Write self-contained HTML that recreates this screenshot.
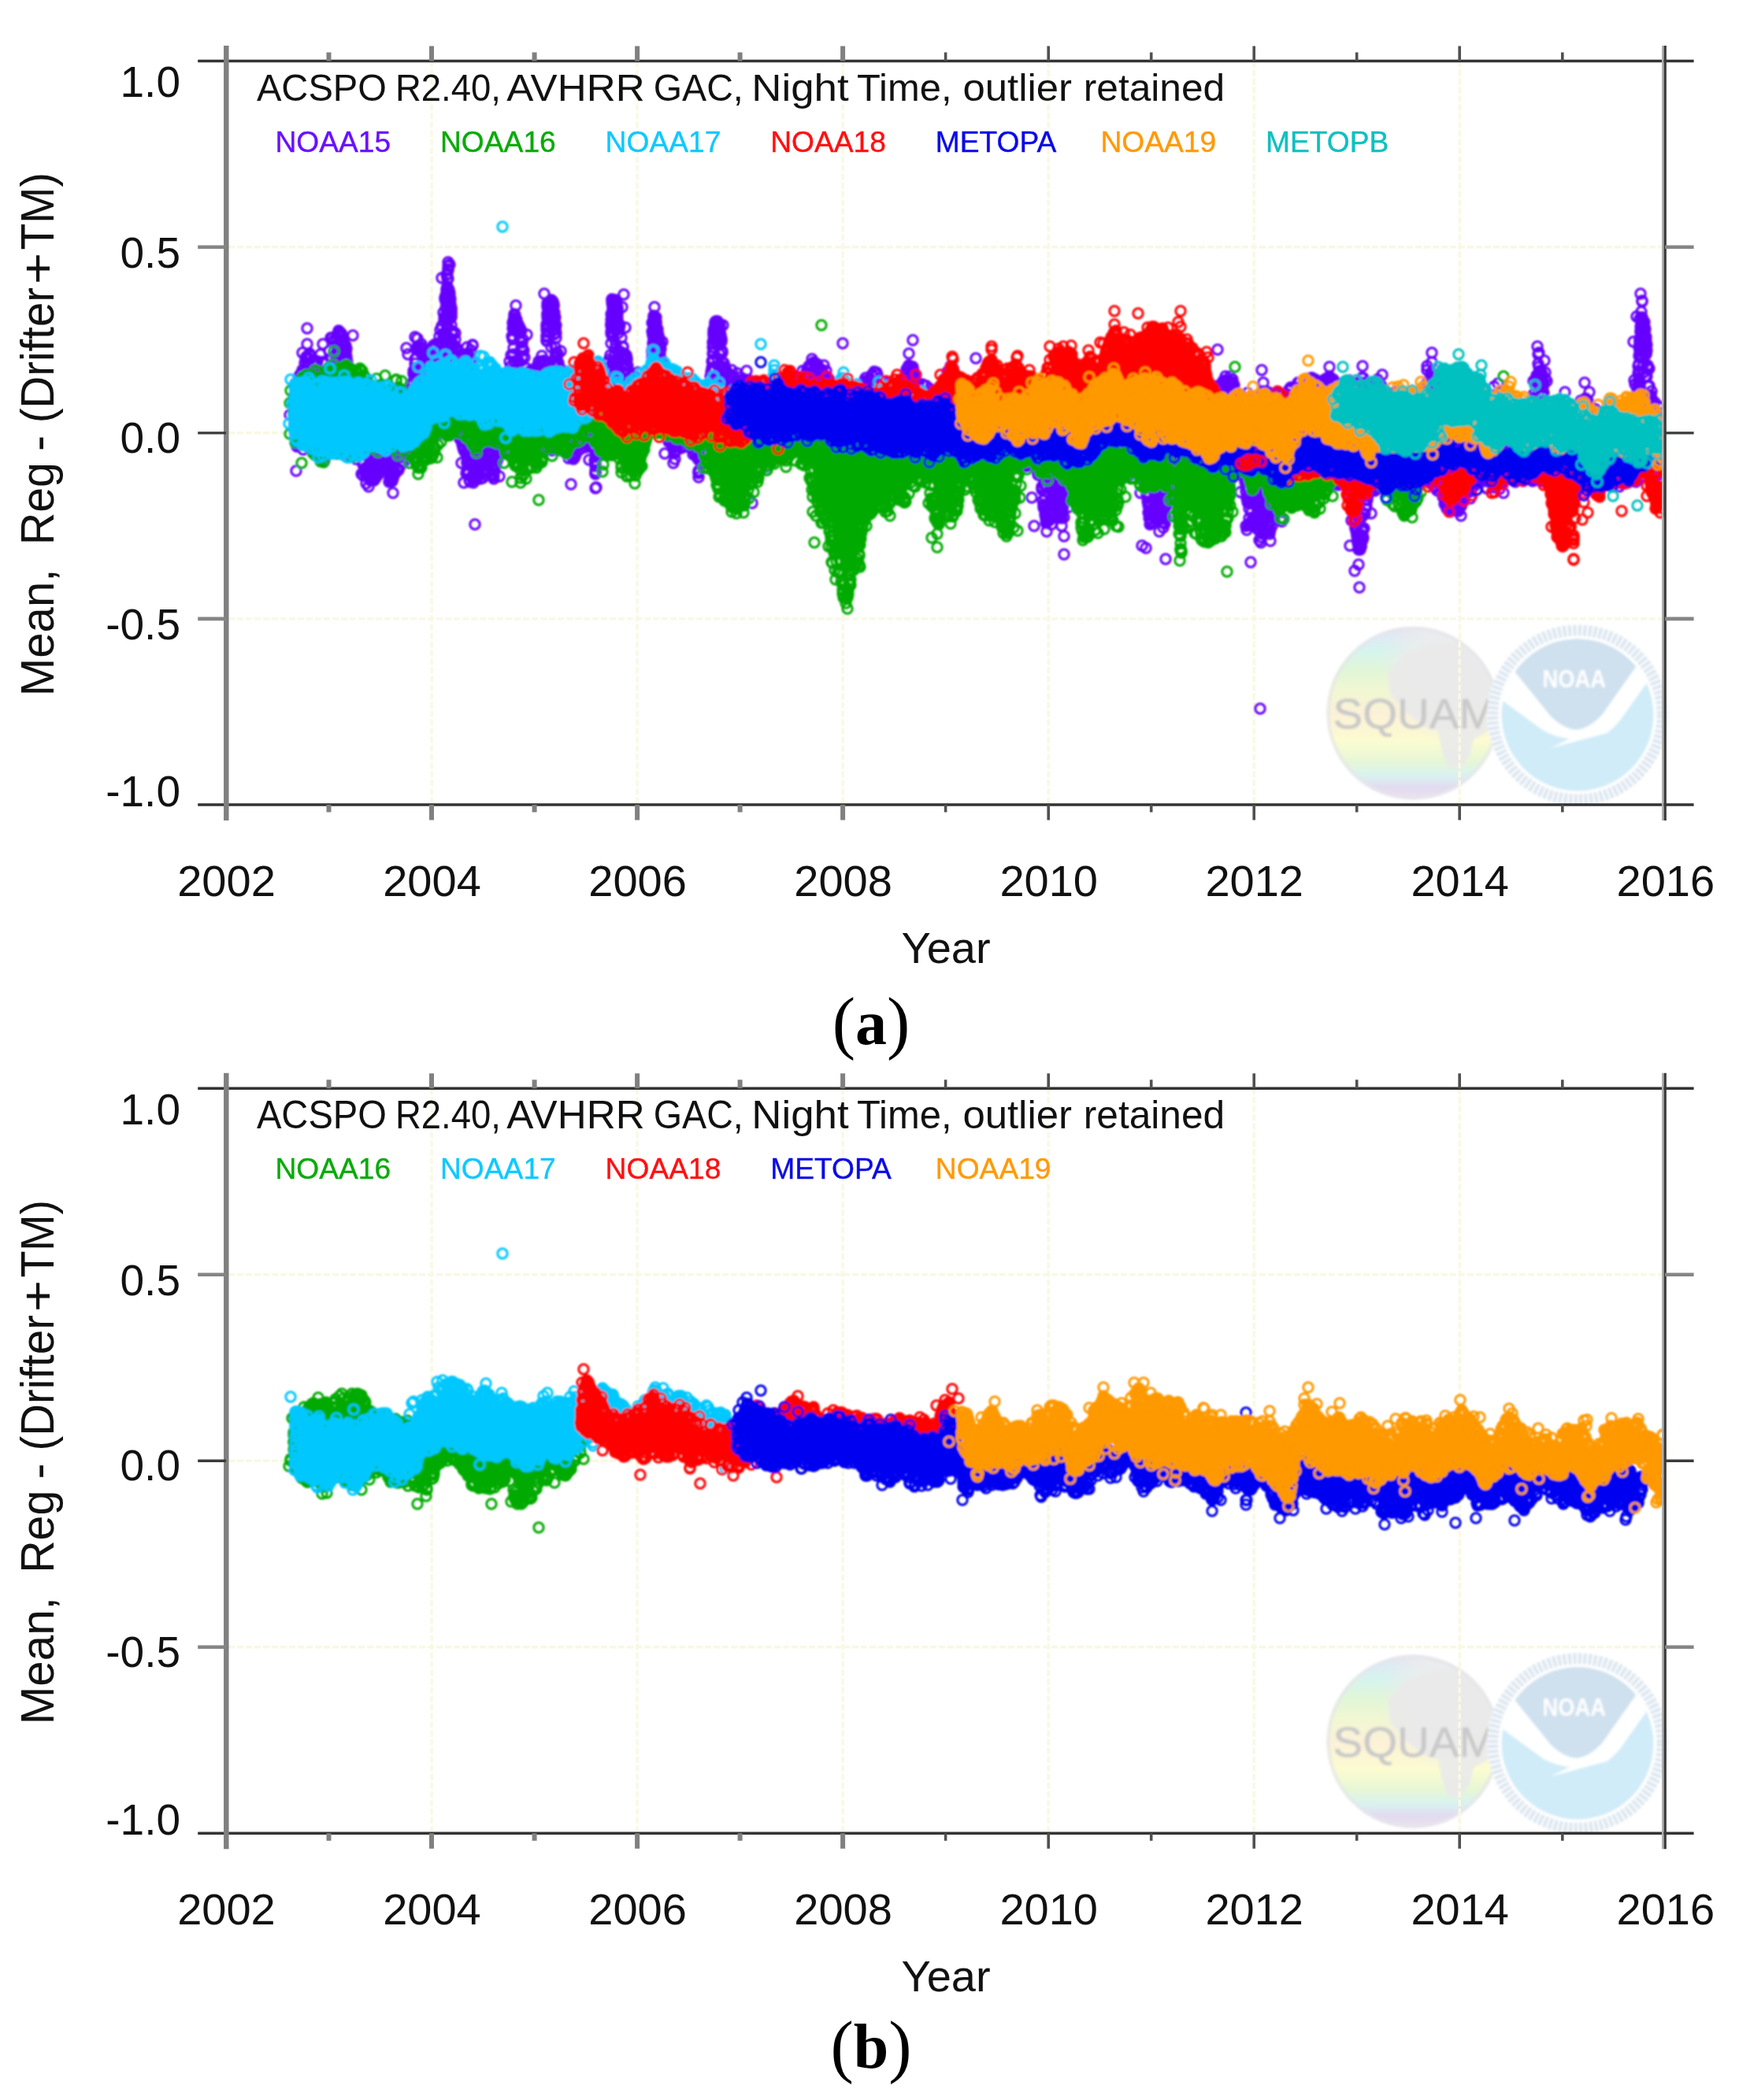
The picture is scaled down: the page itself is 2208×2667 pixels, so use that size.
<!DOCTYPE html>
<html><head><meta charset="utf-8"><title>Figure</title>
<style>html,body{margin:0;padding:0;background:#fff}svg{display:block}</style></head>
<body><svg width="2208" height="2667" viewBox="0 0 2208 2667">
<defs><clipPath id="cpa"><rect x="290" y="79" width="1823" height="942"/></clipPath><marker id="mpe" markerWidth="18" markerHeight="18" refX="9" refY="9" markerUnits="userSpaceOnUse"><circle cx="9" cy="9" r="6.2" fill="none" stroke="#6600ff" stroke-width="3"/></marker><marker id="mgn" markerWidth="18" markerHeight="18" refX="9" refY="9" markerUnits="userSpaceOnUse"><circle cx="9" cy="9" r="6.2" fill="none" stroke="#00aa00" stroke-width="3"/></marker><marker id="mcn" markerWidth="18" markerHeight="18" refX="9" refY="9" markerUnits="userSpaceOnUse"><circle cx="9" cy="9" r="6.2" fill="none" stroke="#00c8ff" stroke-width="3"/></marker><marker id="mrd" markerWidth="18" markerHeight="18" refX="9" refY="9" markerUnits="userSpaceOnUse"><circle cx="9" cy="9" r="6.2" fill="none" stroke="#ff0000" stroke-width="3"/></marker><marker id="mbe" markerWidth="18" markerHeight="18" refX="9" refY="9" markerUnits="userSpaceOnUse"><circle cx="9" cy="9" r="6.2" fill="none" stroke="#0000f0" stroke-width="3"/></marker><marker id="moe" markerWidth="18" markerHeight="18" refX="9" refY="9" markerUnits="userSpaceOnUse"><circle cx="9" cy="9" r="6.2" fill="none" stroke="#ff9900" stroke-width="3"/></marker><marker id="mtl" markerWidth="18" markerHeight="18" refX="9" refY="9" markerUnits="userSpaceOnUse"><circle cx="9" cy="9" r="6.2" fill="none" stroke="#00c0c0" stroke-width="3"/></marker><filter id="bl" x="0" y="0" width="100%" height="100%" filterUnits="userSpaceOnUse" primitiveUnits="userSpaceOnUse"><feGaussianBlur stdDeviation="1.2"/></filter><filter id="bl2" x="1660" y="770" width="480" height="280" filterUnits="userSpaceOnUse"><feGaussianBlur stdDeviation="1.6"/></filter></defs>
<rect width="2208" height="2667" fill="#fff"/>
<g style="filter:blur(0.6px)">
<g transform="translate(0,0.00) scale(1,1.000000)">
<g>
<defs>
<linearGradient id="sq" x1="0" y1="0" x2="0" y2="1">
<stop offset="0" stop-color="#e6e0f0"/><stop offset="0.07" stop-color="#dcecf4"/><stop offset="0.14" stop-color="#d6f4ee"/><stop offset="0.26" stop-color="#e2f6d6"/><stop offset="0.38" stop-color="#f2f7d2"/><stop offset="0.5" stop-color="#fbf1d8"/><stop offset="0.66" stop-color="#fcfbd0"/><stop offset="0.78" stop-color="#e6f7d6"/><stop offset="0.86" stop-color="#d8f2f0"/><stop offset="0.93" stop-color="#e2daf0"/><stop offset="1" stop-color="#ebe4ee"/>
</linearGradient>
<radialGradient id="sqg" cx="0.72" cy="0.25" r="0.42"><stop offset="0" stop-color="#ececec" stop-opacity="1"/><stop offset="0.6" stop-color="#ececec" stop-opacity="0.8"/><stop offset="1" stop-color="#ececec" stop-opacity="0"/></radialGradient>
<clipPath id="sqc"><circle cx="1794.3" cy="905.7" r="110"/></clipPath>
<clipPath id="nc"><circle cx="2003" cy="908" r="96.5"/></clipPath>
</defs>
<g filter="url(#bl2)">
<circle cx="1794.3" cy="905.7" r="110" fill="url(#sq)"/>
<g clip-path="url(#sqc)">
<circle cx="1794.3" cy="905.7" r="110" fill="url(#sqg)"/>
<polygon points="1784,830 1818,817 1855,814 1882,836 1895,859 1903,886 1900,907 1890,928 1871,939 1866,960 1855,976 1839,976 1831,955 1826,928 1808,923 1786,904 1765,881 1763,854" fill="#e9e9e9" opacity="0.92"/>
<circle cx="1794.3" cy="905.7" r="108" fill="none" stroke="#e6e6ea" stroke-width="5" opacity="0.7"/>
</g>
<text x="1692.5" y="924.5" font-family="'Liberation Sans', Arial, sans-serif" font-size="54" textLength="207" lengthAdjust="spacingAndGlyphs" fill="#c9c9c9" stroke="#c9c9c9" stroke-width="0.6">SQUAM</text>
<circle cx="2003" cy="908" r="115" fill="#fff"/>
<circle cx="2003" cy="908" r="107.5" fill="none" stroke="#d9e4ef" stroke-width="14" stroke-dasharray="4 2.5"/>
<circle cx="2003" cy="908" r="96.5" fill="#d0ecf8"/>
<g clip-path="url(#nc)">
<path d="M1900 858L1920 849L1969 910Q1985 926 2001 927Q2018 926 2035 907L2077 846L2100 852L2091 867L2059 912Q2050 924 2040 931L1969 950L1993 938Q1975 936 1960 928L1900 884Z" fill="#fff"/>
<path d="M1921 850A95 95 0 0 1 2077 847L2035 906Q2018 924 2001 926Q1985 924 1969 909Z" fill="#cfe0ee"/>
</g>
<text x="1958.5" y="873" font-family="'Liberation Sans', Arial, sans-serif" font-weight="bold" font-size="32" textLength="80.5" lengthAdjust="spacingAndGlyphs" fill="#fff">NOAA</text>
</g>
</g>
<g stroke="#f9f8e3" stroke-width="3.4" stroke-dasharray="8 3" fill="none">
<path d="M548.0 77.6V1022.0"/>
<path d="M809.1 77.6V1022.0"/>
<path d="M1070.1 77.6V1022.0"/>
<path d="M1331.2 77.6V1022.0"/>
<path d="M1592.2 77.6V1022.0"/>
<path d="M1853.2 77.6V1022.0"/>
<path d="M290.0 313.7H2112.0"/>
<path d="M290.0 549.8H2112.0"/>
<path d="M290.0 785.9H2112.0"/>
</g>
<g filter="url(#bl)" clip-path="url(#cpa)"><g fill="none" stroke="none">
<path d="M380 507L383 485L386 480L389 473L392 465L395 462L398 465L401 466L404 466L407 466L410 466L413 465L416 463L419 460L422 453L425 444L428 438L431 435L434 448L437 474L440 480L443 487L446 490L449 493L452 495L455 498L458 500L461 500L464 502L467 505L470 507L473 508L476 510L479 512L482 513L485 513L488 513L491 513L494 512L497 511L500 512L503 513L506 513L509 513L512 513L515 512L518 511L521 508L524 505L527 500L530 477L533 457L536 454L539 454L542 454L545 454L548 453L551 450L554 446L557 441L560 438L563 429L566 421L569 418L572 435L575 445L578 450L581 453L584 455L587 455L590 455L593 467L596 473L599 477L602 480L605 481L608 484L611 486L614 487L617 487L620 487L623 487L626 485L629 484L632 484L635 484L638 484L641 484L644 483L647 480L650 477L653 460L656 432L659 449L662 468L665 472L668 475L671 476L674 477L677 479L680 479L683 479L686 479L689 478L692 475L695 471L698 455L701 431L704 469L707 473L710 476L713 478L716 485L719 488L722 491L725 492L728 492L731 493L734 495L737 497L740 497L743 497L746 498L749 498L752 498L755 498L758 496L761 493L764 492L767 491L770 489L773 486L776 477L779 459L782 424L785 440L788 452L791 466L794 477L797 481L800 484L803 485L806 488L809 490L812 490L815 490L818 490L821 490L824 489L827 487L830 484L833 468L836 468L839 477L842 480L845 483L848 486L851 489L854 492L857 494L860 494L863 496L866 497L869 497L872 497L875 498L878 499L881 499L884 499L887 499L890 498L893 497L896 497L899 496L902 493L905 489L908 479L911 446L914 467L917 477L920 480L923 483L926 484L929 485L932 485L935 485L938 486L941 488L944 489L947 490L950 490L953 492L956 493L959 493L962 493L965 493L968 492L971 495L974 498L977 499L980 499L983 499L986 499L989 497L992 494L995 493L998 494L1001 494L1004 494L1007 494L1010 492L1013 490L1016 490L1019 490L1022 489L1025 486L1028 482L1031 470L1034 467L1037 473L1040 478L1043 481L1046 487L1049 490L1052 492L1055 493L1058 494L1061 496L1064 496L1067 496L1070 496L1073 497L1076 498L1079 498L1082 498L1085 498L1088 496L1091 496L1094 495L1097 494L1100 491L1103 488L1106 485L1109 483L1112 482L1115 486L1118 489L1121 492L1124 497L1127 500L1130 502L1133 502L1136 502L1139 502L1142 501L1145 499L1148 496L1151 493L1154 487L1157 486L1160 490L1163 493L1166 494L1169 494L1172 494L1175 497L1178 501L1181 504L1184 506L1187 507L1190 507L1193 507L1196 507L1199 505L1202 502L1205 500L1208 497L1211 497L1214 500L1217 503L1220 504L1223 504L1226 505L1229 507L1232 507L1235 507L1238 507L1241 506L1244 504L1247 503L1250 501L1253 500L1256 499L1259 500L1262 502L1265 503L1268 503L1271 503L1274 502L1277 500L1280 498L1283 497L1286 497L1289 497L1292 497L1295 496L1298 494L1301 491L1304 494L1307 495L1310 497L1313 500L1316 503L1319 504L1322 504L1325 504L1328 504L1331 507L1334 511L1337 514L1340 515L1343 515L1346 515L1349 516L1352 516L1355 516L1358 516L1361 517L1364 517L1367 517L1370 517L1373 516L1376 515L1379 515L1382 516L1385 516L1388 516L1391 517L1394 517L1397 518L1400 518L1403 518L1406 517L1409 515L1412 515L1415 517L1418 518L1421 518L1424 518L1427 518L1430 516L1433 516L1436 519L1439 520L1442 520L1445 520L1448 520L1451 518L1454 515L1457 514L1460 514L1463 514L1466 516L1469 519L1472 520L1475 520L1478 520L1481 520L1484 519L1487 516L1490 514L1493 516L1496 516L1499 516L1502 516L1505 515L1508 515L1511 515L1514 517L1517 518L1520 518L1523 518L1526 518L1529 517L1532 517L1535 516L1538 514L1541 512L1544 509L1547 504L1550 500L1553 494L1556 489L1559 489L1562 499L1565 503L1568 506L1571 508L1574 508L1577 508L1580 508L1583 507L1586 507L1589 509L1592 510L1595 510L1598 510L1601 510L1604 508L1607 506L1610 506L1613 506L1616 506L1619 504L1622 503L1625 505L1628 505L1631 505L1634 505L1637 504L1640 502L1643 499L1646 496L1649 494L1652 492L1655 492L1658 491L1661 489L1664 488L1667 489L1670 491L1673 491L1676 491L1679 491L1682 490L1685 488L1688 491L1691 493L1694 493L1697 493L1700 494L1703 496L1706 496L1709 496L1712 496L1715 496L1718 496L1721 496L1724 495L1727 492L1730 489L1733 491L1736 492L1739 492L1742 492L1745 492L1748 493L1751 500L1754 504L1757 507L1760 508L1763 508L1766 508L1769 508L1772 507L1775 505L1778 506L1781 507L1784 507L1787 507L1790 507L1793 505L1796 504L1799 505L1802 506L1805 506L1808 506L1811 505L1814 503L1817 500L1820 498L1823 501L1826 503L1829 506L1832 507L1835 508L1838 509L1841 509L1844 511L1847 511L1850 511L1853 511L1856 512L1859 513L1862 513L1865 513L1868 513L1871 512L1874 515L1877 518L1880 519L1883 519L1886 519L1889 519L1892 517L1895 514L1898 513L1901 514L1904 514L1907 516L1910 519L1913 521L1916 521L1919 521L1922 521L1925 521L1928 521L1931 522L1934 522L1937 522L1940 522L1943 521L1946 519L1949 516L1952 510L1955 503L1958 512L1961 515L1964 517L1967 517L1970 517L1973 517L1976 518L1979 519L1982 520L1985 522L1988 525L1991 526L1994 526L1997 526L2000 526L2003 525L2006 523L2009 522L2012 520L2015 521L2018 524L2021 525L2024 527L2027 531L2030 534L2033 536L2036 537L2039 540L2042 541L2045 541L2048 541L2051 541L2054 540L2057 539L2060 536L2063 533L2066 529L2069 526L2072 522L2075 520L2078 518L2081 515L2084 505L2087 473L2090 503L2093 519L2096 523L2098 525L2098 600L2096 600L2093 600L2090 600L2087 600L2084 601L2081 603L2078 604L2075 603L2072 603L2069 603L2066 603L2063 604L2060 606L2057 605L2054 603L2051 602L2048 602L2045 602L2042 603L2039 604L2036 604L2033 604L2030 604L2027 606L2024 604L2021 602L2018 601L2015 601L2012 601L2009 601L2006 603L2003 604L2000 604L1997 604L1994 605L1991 605L1988 605L1985 605L1982 605L1979 605L1976 603L1973 602L1970 600L1967 600L1964 600L1961 600L1958 601L1955 604L1952 605L1949 605L1946 604L1943 602L1940 601L1937 601L1934 601L1931 601L1928 603L1925 603L1922 602L1919 601L1916 601L1913 601L1910 601L1907 603L1904 606L1901 610L1898 612L1895 610L1892 607L1889 604L1886 603L1883 603L1880 603L1877 603L1874 604L1871 607L1868 611L1865 613L1862 614L1859 616L1856 619L1853 628L1850 639L1847 643L1844 643L1841 638L1838 629L1835 625L1832 622L1829 618L1826 615L1823 611L1820 608L1817 605L1814 604L1811 604L1808 604L1805 604L1802 605L1799 605L1796 605L1793 605L1790 605L1787 604L1784 604L1781 604L1778 604L1775 605L1772 605L1769 602L1766 601L1763 601L1760 601L1757 601L1754 602L1751 605L1748 609L1745 617L1742 618L1739 620L1736 623L1733 627L1730 641L1727 657L1724 651L1721 624L1718 614L1715 611L1712 609L1709 608L1706 608L1703 608L1700 608L1697 610L1694 610L1691 609L1688 608L1685 607L1682 606L1679 606L1676 606L1673 606L1670 607L1667 610L1664 611L1661 611L1658 611L1655 610L1652 610L1649 610L1646 609L1643 609L1640 609L1637 609L1634 611L1631 614L1628 615L1625 618L1622 621L1619 628L1616 634L1613 652L1610 667L1607 671L1604 671L1601 668L1598 665L1595 663L1592 657L1589 632L1586 606L1583 602L1580 599L1577 597L1574 597L1571 597L1568 597L1565 598L1562 598L1559 597L1556 596L1553 596L1550 596L1547 596L1544 598L1541 598L1538 598L1535 600L1532 598L1529 596L1526 595L1523 595L1520 595L1517 596L1514 598L1511 598L1508 598L1505 598L1502 599L1499 600L1496 601L1493 603L1490 604L1487 606L1484 609L1481 615L1478 620L1475 651L1472 656L1469 656L1466 656L1463 636L1460 618L1457 605L1454 602L1451 599L1448 596L1445 595L1442 595L1439 595L1436 595L1433 596L1430 599L1427 597L1424 596L1421 596L1418 596L1415 596L1412 597L1409 600L1406 600L1403 598L1400 598L1397 596L1394 595L1391 595L1388 595L1385 595L1382 596L1379 599L1376 600L1373 600L1370 601L1367 602L1364 603L1361 605L1358 608L1355 611L1352 614L1349 619L1346 632L1343 648L1340 648L1337 648L1334 649L1331 641L1328 619L1325 604L1322 594L1319 591L1316 588L1313 586L1310 585L1307 585L1304 585L1301 586L1298 586L1295 585L1292 583L1289 583L1286 583L1283 583L1280 584L1277 586L1274 585L1271 583L1268 582L1265 582L1262 582L1259 583L1256 585L1253 586L1250 587L1247 587L1244 584L1241 582L1238 582L1235 582L1232 582L1229 583L1226 585L1223 586L1220 586L1217 586L1214 586L1211 586L1208 586L1205 585L1202 585L1199 585L1196 582L1193 580L1190 579L1187 579L1184 579L1181 580L1178 580L1175 580L1172 578L1169 577L1166 577L1163 577L1160 574L1157 573L1154 573L1151 573L1148 573L1145 573L1142 570L1139 568L1136 567L1133 567L1130 567L1127 567L1124 569L1121 567L1118 564L1115 563L1112 563L1109 561L1106 560L1103 560L1100 560L1097 560L1094 562L1091 563L1088 565L1085 568L1082 574L1079 582L1076 587L1073 592L1070 590L1067 585L1064 582L1061 578L1058 574L1055 571L1052 569L1049 569L1046 565L1043 562L1040 560L1037 559L1034 559L1031 559L1028 559L1025 560L1022 560L1019 561L1016 563L1013 563L1010 563L1007 564L1004 565L1001 565L998 565L995 565L992 566L989 568L986 565L983 564L980 564L977 564L974 564L971 565L968 568L965 571L962 572L959 572L956 570L953 569L950 569L947 569L944 569L941 570L938 572L935 569L932 568L929 568L926 568L923 568L920 566L917 565L914 565L911 563L908 560L905 559L902 559L899 559L896 559L893 560L890 563L887 567L884 566L881 563L878 561L875 561L872 561L869 561L866 562L863 564L860 566L857 558L854 554L851 550L848 547L845 544L842 543L839 543L836 543L833 542L830 542L827 542L824 542L821 543L818 545L815 548L812 553L809 565L806 567L803 566L800 564L797 564L794 564L791 564L788 565L785 566L782 566L779 564L776 564L773 564L770 564L767 565L764 567L761 568L758 571L755 568L752 566L749 565L746 565L743 565L740 565L737 565L734 566L731 568L728 571L725 568L722 567L719 567L716 567L713 567L710 566L707 566L704 566L701 565L698 563L695 562L692 562L689 562L686 562L683 564L680 567L677 567L674 566L671 566L668 565L665 564L662 564L659 564L656 564L653 566L650 567L647 568L644 568L641 569L638 569L635 570L632 572L629 575L626 581L623 592L620 594L617 594L614 594L611 595L608 597L605 600L602 603L599 591L596 578L593 563L590 555L587 547L584 542L581 539L578 537L575 537L572 537L569 537L566 538L563 540L560 543L557 545L554 546L551 547L548 550L545 553L542 555L539 557L536 557L533 557L530 559L527 562L524 565L521 569L518 572L515 576L512 579L509 582L506 585L503 589L500 596L497 598L494 596L491 595L488 595L485 595L482 595L479 597L476 600L473 602L470 597L467 589L464 584L461 581L458 579L455 578L452 578L449 577L446 574L443 573L440 572L437 570L434 570L431 570L428 570L425 567L422 566L419 566L416 565L413 562L410 560L407 559L404 559L401 559L398 560L395 561L392 560L389 559L386 558L383 558L380 542Z" fill="#6600ff" stroke="#6600ff" stroke-width="1.5"/>
<path d="M368 527l6-25l0 16l0 12l0 8l0 1l0 7l1-59l0 4l0 1l0 2l0 12l0 13l0 1l0 8l0 19l0 2l0 2l0 3l1-60l0 7l0 51l0 12l1-23l0 25l0 1l1-68l0 31l1-51l0 49l0 30l1-41l0 9l0 8l0 18l1-76l0 35l0 17l0 31l1-74l0 4l0 40l1-55l0 21l0 4l0 54l1-105l0 22l0 57l1 6l0 4l0 34l1-78l1-32l0 100l0 3l1-109l0 24l1-26l0 1l1-1l0 9l0 101l0 4l1-100l1 3l0 93l1-114l0 1l0 1l0 116l1-115l4 6l0 4l0 103l1-5l0 5l1-107l0 1l0 115l2-115l0 6l1-6l2 105l2-114l2 10l0 107l1-107l2 125l1-123l5-16l0 124l2-141l1 25l0 110l0 7l1-142l0 144l1-4l1-136l0 28l1-30l1 19l0 122l1-115l0 110l1-137l0 11l0 135l1-152l0 1l0 18l1-23l0 1l0 3l0 15l0 131l1-117l0 8l0 104l1-123l1-19l0 51l1-49l0 1l0 1l0 50l0 98l1-148l0 12l1-8l0 38l0 6l1-22l0 22l0 103l1-105l1-34l0 6l0 1l0 2l0 29l1-34l0 10l0 3l0 116l1-112l0 7l0 1l0 1l0 2l1-3l0 2l0 97l0 12l1-8l1-5l2-88l0 95l1-95l0 3l1-55l1 142l3 15l1-10l0 3l1-87l0 88l1-6l2 2l1-81l1 81l2-79l0 93l0 3l0 14l2-9l0 1l1-96l0 98l0 4l1-107l0 3l0 97l0 4l0 15l1-21l1-99l0 106l1 4l0 2l1-25l1 29l3-109l0 1l0 107l2 1l1-107l0 93l0 7l1 4l1-6l2 2l2-5l1-1l1-7l1-88l1 88l2-91l1 93l5-86l0 106l1-106l0 97l0 3l0 1l1 1l0 2l1-23l1-81l0 101l0 1l0 3l1-103l0 90l0 10l0 18l1-33l0 7l0 4l1-2l1-107l0 106l2-100l0 5l0 89l2-88l0 90l2-5l4-83l0 79l1-82l0 80l1-68l2-76l0 61l0 2l0 77l1-7l1-125l0 53l0 67l1-70l0 1l0 79l2-82l0 74l0 2l0 3l0 2l1-92l0 3l0 4l0 1l0 2l0 6l0 12l0 60l1-74l0 1l0 73l2-104l0 4l0 30l0 58l1-91l0 37l0 62l1-115l0 6l0 7l1-2l0 103l1-98l0 1l0 2l0 15l0 79l0 1l0 1l1-141l0 10l0 31l0 20l1-49l0 1l0 2l1-3l0 2l1 0l0 30l1-29l1-8l0 4l0 6l0 2l0 30l0 3l2-32l0 25l4-27l1-1l2 1l1 8l0 105l1-115l2-3l0 115l1-1l1-118l0 2l0 9l0 105l3-118l1 13l0 102l4-125l0 124l1-132l2-66l0 61l1 17l0 6l0 112l1-152l0 27l0 122l1-143l0 4l0 16l1-45l0 2l0 43l0 7l0 1l1-56l0 2l0 1l0 5l0 8l0 10l0 141l1-175l0 2l0 5l0 6l1-32l0 6l0 10l0 1l0 1l0 1l0 2l0 5l0 2l0 28l0 10l0 1l0 1l0 11l0 126l1-215l0 4l0 1l0 11l0 13l0 1l0 3l0 6l0 15l0 7l0 8l0 21l0 120l1-180l0 5l0 3l0 3l0 11l0 3l0 49l0 98l0 2l1-206l0 36l0 4l0 12l0 1l0 59l1-68l0 6l0 4l0 1l0 1l0 1l1-2l0 1l0 3l0 2l0 2l0 3l0 1l0 10l1 8l0 31l1-31l0 4l0 12l0 10l1-7l1 102l0 1l0 2l1-122l0 8l1 10l0 2l2 2l0 101l2 10l2 3l1-20l0 1l0 10l0 38l1-30l0 7l1 4l1-10l0 1l0 12l0 41l1-163l1 9l0 4l0 85l0 27l1-111l0 87l0 26l0 24l1-150l0 10l0 126l0 1l0 9l1-130l0 103l0 13l0 17l1-148l0 6l0 120l0 23l1-147l0 137l0 19l1-142l0 111l0 33l1-167l0 13l0 100l1 17l0 15l0 15l1-167l0 1l0 29l0 137l1-139l0 142l0 5l1-21l0 13l2-16l0 19l1 1l1-16l3-113l0 124l1-127l0 118l0 13l3-7l0 6l1-8l1-1l1 1l2-2l0 1l0 1l2 0l0 1l2-119l0 108l1-111l1 124l1-19l0 19l0 1l0 1l1-127l0 113l0 15l1-123l0 122l0 4l1-16l0 2l0 4l1-114l1 90l0 6l0 4l0 6l1-6l1-10l0 9l1-105l0 87l0 4l0 8l1-94l0 122l2-128l0 2l0 91l0 5l1-13l1 12l1-88l0 2l0 80l2 5l1-89l0 90l1-1l1-98l1-3l0 13l0 90l2-116l1 7l1-15l0 114l0 8l1-146l1-17l0 7l0 10l0 4l0 54l1-78l0 3l0 2l0 3l0 27l0 8l0 21l1-72l0 2l0 3l0 3l0 2l0 1l0 1l0 3l0 45l0 23l1-82l0 7l0 7l0 6l1-32l0 18l0 10l1-10l0 68l2-62l0 2l0 8l0 36l0 2l1-45l0 1l0 1l1-1l0 14l1-11l1 1l1 15l0 5l0 4l0 9l1-22l1 14l0 32l1-23l3-29l0 43l1 5l2-1l2-1l4 0l0 2l1 5l0 95l2-106l1-2l1 9l0 6l0 4l0 88l1-113l0 111l0 1l1-95l1-5l0 1l0 93l0 5l1-111l0 109l1-116l0 114l1 0l1-104l0 7l0 93l1-189l0 85l0 20l0 87l3-153l0 3l0 4l0 7l0 2l0 4l0 1l1-48l0 3l0 2l0 8l0 1l0 2l0 3l0 8l0 1l0 59l0 86l1-173l0 4l0 1l0 10l0 1l0 2l0 2l0 2l0 8l0 7l0 38l0 3l1-60l0 59l0 107l0 1l0 1l1-188l0 11l0 8l0 158l0 3l0 7l1-188l0 8l0 13l0 66l1-88l0 1l0 19l0 40l0 34l0 91l0 5l1-189l0 14l0 77l0 98l0 1l1-189l0 2l0 1l0 1l0 11l0 1l0 2l0 19l0 141l1-175l0 2l0 1l0 25l0 11l0 47l1-75l0 7l0 1l0 1l0 3l0 2l0 160l1-168l0 14l0 1l0 23l0 18l0 6l1-52l0 10l0 6l0 25l0 4l0 6l1-16l0 5l0 1l1-5l0 11l1 1l0 2l1 20l1 1l0 88l1-126l0 114l1 7l0 5l1-101l0 5l0 86l0 7l1-98l0 91l1-85l1 6l1-10l0 99l1-5l1-91l0 2l0 86l2 18l1-9l2 5l1 2l1-10l0 8l0 1l1 3l0 1l1-4l0 2l0 1l1-2l1-3l2-15l0 3l3 6l1-7l6-1l0 5l3-8l2 24l1-17l2 0l3 3l1 15l1-15l0 9l0 7l0 3l0 3l0 6l0 3l0 1l0 18l1-1l1-44l0 3l1 2l1-12l2 7l1-3l0 1l1 1l1-89l0 78l2-81l1 7l0 83l1-95l0 93l1-87l0 84l1-106l0 8l0 2l0 5l1-15l1-4l2-6l0 113l0 5l0 1l1-171l0 7l0 5l0 1l0 1l0 1l0 7l0 3l0 12l0 29l0 105l1-190l0 1l0 4l0 20l0 1l0 4l0 1l0 66l0 14l0 78l0 1l1-187l0 1l0 5l0 1l0 4l0 1l0 8l0 25l0 30l0 8l0 104l0 1l1-173l0 25l0 65l1-37l0 12l0 21l1-102l0 31l0 30l1-62l0 1l0 10l0 28l0 17l0 36l1-88l0 2l0 19l1-15l0 1l0 5l0 2l0 5l0 10l0 159l1-163l0 2l0 11l1-10l0 5l0 28l1-33l1 34l1-18l0 24l1-63l1 50l0 1l0 11l1-78l1 75l0 20l1-53l0 37l1-2l0 1l0 1l0 29l1-27l0 2l0 5l0 2l1 1l0 16l1-10l1 19l3-13l0 1l2 0l0 97l0 16l1-20l0 2l0 2l1-97l2 2l0 3l1 88l1-98l0 10l0 9l0 87l2-21l1 8l0 4l1-1l0 1l1-2l1-8l0 3l1-7l1-72l1 0l0 8l0 49l0 11l1-60l1 45l1-50l0 48l1 13l1 0l1-7l2-72l1-59l0 11l0 24l0 2l0 7l0 13l0 1l0 6l0 62l1-113l0 2l0 1l0 10l0 6l0 3l0 1l0 17l0 79l1-141l0 2l0 3l0 1l0 5l0 2l0 3l0 6l0 8l0 1l0 4l0 14l0 21l1-81l0 15l0 3l0 4l0 1l0 1l0 1l0 13l0 20l0 100l1-142l0 5l0 55l0 3l0 66l1-132l0 5l0 2l0 2l0 3l0 2l0 3l0 21l0 108l1-129l0 9l0 119l1-130l0 4l0 3l1 1l0 1l0 4l0 37l0 78l1-114l0 4l0 1l1-1l0 1l0 2l0 1l0 9l0 10l0 11l1-27l0 14l1 6l0 85l1-114l0 24l0 6l1 1l1 9l1 102l1-102l0 5l1-5l0 70l0 10l1-78l2 81l0 4l1-16l0 13l0 1l2-5l1-72l0 80l0 2l1-19l1-60l0 83l0 20l1-13l1-7l0 6l0 1l0 8l1-28l0 1l0 17l1-14l0 8l1-2l1-76l2 67l2 13l1-84l0 83l2-78l1 77l1 0l2-7l1-70l0 75l2-11l0 6l1-69l0 77l4-75l0 69l0 15l1-85l1 82l1-75l0 77l1-83l1 10l0 78l1-83l0 4l0 76l1-86l0 88l0 2l0 2l0 14l0 2l0 1l0 5l1-105l0 1l0 68l0 3l0 6l0 1l1-19l0 19l1-83l2 61l0 15l0 1l2-71l2-11l0 73l3-70l0 7l1 61l1 1l1-86l0 86l1-92l1-13l0 8l0 26l1-58l0 6l0 8l0 8l0 11l1-49l0 3l0 2l0 2l0 5l0 10l0 6l0 11l0 13l0 87l1-141l0 2l0 1l0 1l0 3l0 3l0 3l0 38l0 2l1-61l0 2l0 1l0 3l0 8l0 10l0 44l0 6l1-75l0 3l0 11l1-1l0 65l1-78l0 47l0 36l1-81l0 11l0 2l0 42l0 9l0 1l1-62l0 1l0 1l0 9l0 6l0 19l0 15l1-52l0 4l0 1l0 3l0 9l0 1l0 4l0 4l0 26l1-39l0 4l0 4l0 42l1-45l0 2l0 2l0 11l0 2l0 19l0 96l1-116l0 2l0 111l1-146l1 48l0 1l1 4l0 1l1 5l0 15l1-17l0 4l0 1l0 3l0 3l1 6l1-12l0 3l0 87l1-90l5 3l0 2l0 7l1-7l1 83l1-72l3-17l0 9l0 4l4-8l0 87l2-84l1 10l1-10l0 1l1 84l1-85l0 11l1-10l2 1l1-1l1 84l1-83l1 5l1-5l1 85l1-82l0 82l1-82l3 1l1-1l0 2l0 79l2-82l1 85l2-84l1 2l0 87l1-76l0 70l1-79l0 85l1-3l1-88l0 1l1-1l0 2l0 6l0 88l0 12l5-102l1 77l1-9l0 5l0 3l2-74l3 73l1-6l0 9l0 2l3-82l4 71l1 7l4-9l1-70l0 76l1 6l1-81l1 80l4-5l2-79l0 72l0 4l0 9l1-85l0 1l1 0l1-5l0 1l0 74l0 7l1-73l0 76l1-4l1-78l2 3l2 9l0 74l1-85l0 11l0 75l1-100l0 22l2 66l1-82l1-1l0 3l0 80l0 3l1-89l0 15l0 65l0 15l1-99l1 15l0 78l1-97l0 23l1-11l1 79l1-93l0 14l0 78l1-99l1 16l0 82l1-94l0 104l1-103l1 103l0 1l1-103l0 15l1-15l1 1l0 98l0 1l2-95l0 11l0 2l0 87l2-98l0 1l0 15l1 0l1-12l0 15l1-3l0 75l0 6l1-102l0 94l1-81l0 80l1 15l1-101l1 24l2 2l1-15l0 4l0 86l1-4l1-82l0 86l1-79l0 72l4-77l0 10l4-6l0 6l1-6l2 9l8-10l1-1l2 2l1 1l0 6l1-6l4-2l1 13l2-13l3-1l0 72l0 7l1-80l0 1l0 9l2-11l0 9l0 70l1-78l1-2l1 80l1-83l0 80l1-79l0 4l1-9l0 7l1 9l1 62l1 6l0 1l1-1l0 1l1-84l0 2l0 3l1 7l0 73l1 0l1-90l0 1l3-5l0 16l3-15l0 12l0 76l0 2l0 5l1-92l1 89l1 4l1-72l0 74l1-8l2-1l2 11l1-85l1 7l0 4l1-14l0 1l0 5l0 71l0 6l0 6l1-89l1 6l1 1l0 80l1 1l2-1l3-76l0 1l1 2l1 66l1-66l1 73l2-77l1 70l6-78l0 15l1-19l0 86l1-88l0 2l1-7l1-7l1 0l0 32l0 71l1-106l1-17l0 15l0 1l0 33l1-33l0 7l0 3l0 9l1 0l1-8l0 15l1-25l0 4l0 9l1-13l1 5l1 3l0 2l0 5l1-3l0 4l0 7l0 9l1-14l0 12l1-6l2-2l5 0l3 85l2-83l1 17l0 69l2-78l1 75l1-79l2 3l2 3l1-1l0 4l1 73l0 1l1 1l1-75l1-1l2-9l2 86l1-78l0 73l2 7l0 2l5-104l0 14l1-21l1 18l0 1l2-7l0 3l0 1l1-23l0 17l1 8l1-5l0 1l0 2l0 91l1-111l0 15l0 1l0 2l6 99l3-102l3 101l2 0l3-87l2-6l4 89l11-4l2 36l7-27l5 1l2-11l4 7l7-1l5 0l2-3l2 3l1-4l0 4l1-3l3-2l0 11l5-8l0 10l1-1l1-11l2 15l2-104l0 105l1-111l0 2l0 1l1 107l1-113l0 10l1-11l0 1l1 1l1 3l0 104l0 4l0 1l2-106l0 106l1-11l1-93l1 97l3-96l0 143l1-47l1-91l0 86l0 13l1 75l1-86l0 7l1 6l1 1l1-8l0 10l0 1l1 4l2-111l1 112l2 14l0 2l0 2l1 14l1 5l0 1l0 3l1-29l0 29l1-53l0 39l0 10l0 9l0 4l1-3l0 6l0 2l0 5l1-47l0 39l0 1l0 5l0 1l1-3l0 2l1-37l0 33l1 1l0 2l1-53l0 33l0 19l1-13l1 19l1-16l0 5l3-23l3 2l0 3l1 16l1-39l2 23l0 12l0 6l0 1l1-27l0 23l0 1l0 2l0 1l0 1l1-30l0 1l0 19l0 11l0 10l1-26l0 3l0 2l1-11l0 6l1-34l0 8l0 13l0 1l0 27l0 24l1-74l0 18l0 4l0 6l1-19l1 5l0 4l2-15l0 1l1 6l0 27l1-31l0 3l1-1l2-10l0 7l0 2l1-8l3 2l0 2l1-5l0 3l1 0l2-2l33-84l2 1l18 78l3-77l2 80l4 2l2-8l3 2l0 2l1-6l0 3l2 1l1-1l1-74l4 77l1-77l0 76l1-11l1 36l1-20l1 87l1-91l3 10l0 6l0 2l1-5l1-4l0 15l0 1l0 2l1-1l0 2l0 2l0 5l1 5l0 9l1-41l0 6l0 33l0 2l0 7l1 1l0 7l1-28l0 13l0 2l0 10l0 1l1-9l0 8l1-52l0 51l1-49l0 23l1-21l1 17l0 15l1-16l0 2l0 17l1 2l0 3l1-20l0 19l0 7l1-33l0 4l1 15l1 28l1-27l1 11l1-33l1 32l1-36l0 22l0 9l0 3l0 7l0 7l1-60l0 3l0 40l0 2l0 9l1-18l0 13l0 6l1-9l0 3l1-52l0 6l0 18l0 11l1-16l0 12l1-25l1 11l0 12l1-20l1 4l2 15l3-25l9-15l3-3l2-1l0 1l1 1l2-2l3 2l9 0l4 6l1-1l4-9l3 12l3-92l0 92l3-94l0 6l2-23l0 12l0 6l0 87l1-93l1-3l0 1l1-1l1 8l1 92l1-4l1-105l0 13l0 95l2-109l0 107l1-102l1 3l2-13l0 6l0 1l1 2l1 109l1-124l0 5l1 6l2-6l0 19l0 98l2-116l0 13l0 5l1-24l0 8l1 0l0 12l0 105l0 2l0 4l1-3l1-124l0 4l0 3l0 12l0 9l1-22l0 106l1-105l0 113l1-93l0 2l0 83l2-95l0 5l0 96l1-101l0 94l0 8l1-91l0 91l3-100l0 101l0 23l3-21l0 1l2-4l1-93l0 95l0 5l0 1l0 3l1 0l0 6l0 6l0 44l1-37l0 2l0 40l1-174l0 139l1-131l0 1l0 128l0 3l0 28l1-46l0 25l0 12l1-47l0 54l1-150l0 148l0 4l1-60l0 44l0 15l1-31l0 30l1-36l0 39l1-30l0 21l1-2l0 3l1-38l0 5l0 15l1-14l0 34l1-20l0 12l0 17l1 1l1-169l0 11l0 141l0 5l0 3l0 10l1-169l0 3l0 160l0 19l1-184l0 8l0 165l1 7l0 7l1-29l1 13l0 5l1-192l0 11l0 174l1-173l0 5l0 7l2-10l0 3l0 6l0 163l1-174l0 143l0 6l0 3l0 25l1-175l0 9l1-11l0 136l1 14l0 27l1-12l0 15l1-5l0 14l1-187l0 162l1-162l0 5l0 118l0 10l0 11l0 24l1-33l1-125l0 149l1-17l0 8l0 5l1-153l0 3l0 142l0 2l0 3l2-142l1 110l1-121l0 118l0 15l1-2l1-128l0 5l0 103l0 14l1-122l0 9l1-11l0 162l1-161l0 161l1-161l2 5l4-5l1-5l2-3l1-1l0 3l0 119l2-112l2 109l2-6l0 6l0 4l2-121l1-8l1 12l1-12l1 5l4 125l2-132l1 3l0 124l0 5l1-5l1-130l0 7l2-5l1-2l0 2l0 133l1-4l0 5l1-137l0 2l1-2l0 136l0 1l1 1l1-3l2-133l0 129l1-122l0 126l0 1l1-130l0 6l1 113l2-119l0 8l0 114l1 4l3-121l2-8l1-1l0 11l0 115l0 3l2-130l1 119l0 7l0 5l1-131l1-2l1-1l0 137l1-133l0 3l0 131l2-131l0 10l0 120l1-130l0 118l1-121l0 122l1 11l1-120l1-2l0 3l0 115l1-118l0 4l0 110l0 1l2 4l0 2l0 2l3-127l1-2l0 6l0 1l1-5l0 1l0 124l2-1l4-112l0 103l0 11l1-13l0 2l0 10l0 2l1-126l0 122l1-129l1 6l0 204l1-74l1-8l0 16l0 1l0 33l1-55l0 25l0 5l0 12l0 1l1-29l0 9l0 23l2-43l0 49l0 2l1-172l0 2l0 170l0 3l0 1l0 6l0 1l1-19l0 17l0 2l0 4l1-188l0 187l0 5l0 2l1-186l0 129l0 60l0 1l0 2l0 3l1-73l0 4l0 21l0 43l0 7l0 5l0 1l0 19l1-232l0 173l0 37l1-2l0 1l0 1l0 1l0 2l1-40l0 23l0 10l0 2l0 1l0 1l1-215l1 10l0 6l0 155l0 21l0 1l0 2l0 5l0 6l1-206l0 145l0 58l1-30l0 18l1-44l0 8l0 18l1-167l0 1l0 135l0 24l1-12l0 8l1-151l0 144l1-7l0 1l1-140l2 125l1-128l0 166l1-166l0 11l2 125l1-6l0 7l1-11l0 6l0 5l1-138l0 17l0 105l0 11l0 3l1-135l0 135l1-139l1 128l0 9l1-4l1-126l0 4l0 126l1-129l0 16l0 106l1-122l0 2l0 13l1-29l0 26l4 0l2 4l1-4l1 1l0 7l0 2l0 93l0 1l1-104l0 3l2 101l1-104l0 8l0 97l0 1l2 1l1-108l0 105l0 9l1-117l0 116l1-114l1 112l2-113l0 9l3 97l1 5l1-111l1 111l2-110l1 108l4-2l0 5l1-106l1-5l0 113l1 0l1-115l0 8l0 97l1-98l0 4l0 95l1-100l0 6l1 99l1-5l2-106l0 12l0 1l0 96l2-108l0 10l1 101l1-110l0 8l2-8l0 2l0 98l0 10l1-104l0 101l1-101l0 2l0 90l0 4l1-102l0 110l1-110l0 97l1-99l0 1l0 12l1-8l1-6l0 112l1-139l0 16l0 8l1 0l0 110l0 6l1-121l0 1l0 4l0 116l1-126l1-5l0 7l0 18l0 108l1-139l0 7l0 20l0 106l0 7l1-153l0 21l0 1l0 1l0 3l0 4l0 2l0 1l0 1l0 3l0 103l1-122l0 5l1 2l0 1l0 131l1-128l0 5l1-5l0 1l0 6l0 123l1-14l0 1l0 5l0 6l1-7l0 8l0 4l1 1l3-8l1-118l0 116l3 18l2 2l0 7l1-24l0 23l1-12l0 15l1-11l0 15l1-12l0 11l1-13l0 16l2-12l1-7l1 7l0 8l0 5l1-16l0 15l2-1l1-20l0 21l3-4l1 2l0 2l1 1l1-20l1-5l1-10l0 19l0 9l0 1l0 12l1-22l0 7l0 1l1-29l1 22l1-15l0 9l0 1l1-17l0 12l1-3l0 1l0 2l4-19l0 2l0 18l1-23l1 16l0 15l1-33l1 17l2-3l1 3l2-5l1-10l0 6l1-8l0 11l1-6l2-95l0 88l0 11l1-9l2-89l1 1l1 3l1-1l1 85l0 9l1 0l0 3l0 9l1-16l0 16l4-114l0 97l1-97l2 94l0 5l0 8l1 6l1-128l0 11l0 10l1-9l0 111l1-96l1-6l0 98l0 5l0 2l2-130l0 114l2-91l0 101l0 1l0 2l0 7l1-23l0 2l1-92l0 101l0 5l2-11l0 8l1 15l2-20l3-6l1 2l1 4l1-8l4 10l1 0l1 1l1-94l0 97l1-12l2-86l0 95l1 0l3 0l1-3l0 1l0 1l1-14l0 4l1 0l0 9l1-12l1-78l1 84l1-77l1-4l0 86l1-91l0 91l1-92l0 87l1-86l3-7l0 4l0 93l0 5l1-104l0 104l0 1l1-127l0 17l0 11l0 8l0 89l1-109l1 7l1-24l0 126l1-132l0 5l0 3l1-9l0 6l0 120l1-152l0 12l0 14l0 24l1-52l0 18l0 18l0 114l0 12l1-139l0 20l1-19l0 1l0 17l0 21l1-38l0 3l0 5l0 3l0 5l0 11l0 111l1-136l0 11l0 1l0 123l1-126l0 3l0 1l0 4l0 10l1-3l0 103l0 6l1-150l0 147l1-132l0 8l0 123l2-120l0 31l1 2l0 87l0 1l1-1l1 1l2-4l1-89l0 94l0 2l1-97l2-1l0 90l3-87l0 108l1-22l1-2l4-80l2-4l0 96l1-95l0 7l2-23l1 21l0 79l0 4l2-85l0 11l0 75l2-83l1-1l1 0l0 2l2-1l0 84l1 5l1-10l1-80l0 87l1 2l1-8l0 9l0 19l1-111l0 12l2-11l0 80l1 8l1-10l0 15l1-102l0 19l1 68l0 12l1-94l0 2l2-3l1-5l0 3l0 94l1-99l0 2l0 14l1-15l0 90l1-88l0 18l0 67l0 1l0 7l1-93l0 2l0 3l1-2l0 1l1-15l0 17l1 92l1-84l2-5l2 89l0 4l0 7l1-7l1-91l0 92l1 1l1-3l1-4l1-80l2 84l2 0l1-2l0 1l4-4l0 4l1-4l4 8l2-7l1-11l2 4l0 9l2-3l0 2l1-11l0 2l0 7l0 2l3 5l1 6l1-15l1 3l1-89l0 3l1 94l2-1l1-91l1 0l1-8l3 2l0 1l0 90l0 2l1-93l0 87l1-85l1 87l2 1l0 1l1-173l0 79l1-30l0 128l1-123l0 25l1 87l0 5l0 3l0 4l1-210l0 99l0 98l0 11l1-114l0 1l0 7l0 3l0 6l1-48l0 9l0 14l1-47l0 11l0 10l0 9l0 4l0 5l0 3l0 118l1-196l0 26l0 1l0 1l0 3l0 2l0 1l0 2l0 2l0 3l0 4l0 43l1-120l0 42l0 5l0 2l0 6l0 1l0 1l0 6l0 2l0 160l1-202l0 14l0 3l0 7l0 2l0 3l0 9l0 8l0 74l0 82l0 2l0 5l0 2l1-225l0 1l0 20l0 1l0 4l0 3l0 33l0 11l0 51l1-99l0 2l0 36l0 19l0 48l0 81l0 1l0 11l1-189l0 4l0 3l0 5l0 12l0 33l1-64l0 6l0 2l0 1l0 4l0 1l0 1l0 9l1-15l0 11l0 7l0 14l0 28l1-50l0 5l0 5l0 3l0 4l0 3l0 1l0 1l0 58l1-70l0 7l0 33l1-14l0 2l0 41l0 19l0 6l1-63l0 22l0 80l1-103l0 22l1 93l0 8l1-89l0 2l0 2l0 51l1-60l0 9l0 6l0 3l0 59l1-62l0 20l1 15l0 30l1-58l0 67l0 4l1-79l0 39l0 55l0 1l1-81l0 19l0 42l1-64l0 2l0 4l0 13l0 16l0 3l0 10l0 2l0 1l0 3l0 5l0 3l1-41l0 3l0 11l0 5l0 8l0 34l1-43l1-45l1 79l6-18l-1737 21l92 20l-9-16l144 64l122-51l-335-198l0 20l20 0l117-9l66 13l336 29l19 1l122-35l89-4l-204 207l284-184l307-11l56 26l-251 234l104-8l25 14l108 4l-259-39l359-209l42-1l88-17l-6 17l140-25l60 46l-286 260l-6-21l-120 175l-1031-567l-2 16" marker-start="url(#mpe)" marker-mid="url(#mpe)" marker-end="url(#mpe)"/>
</g>
<g fill="none" stroke="none">
<path d="M380 498L383 496L386 494L389 489L392 485L395 485L398 485L401 485L404 483L407 481L410 480L413 480L416 479L419 477L422 477L425 477L428 477L431 475L434 475L437 474L440 474L443 476L446 477L449 477L452 477L455 477L458 484L461 491L464 495L467 498L470 500L473 502L476 502L479 502L482 502L485 502L488 502L491 503L494 503L497 503L500 502L503 501L506 501L509 505L512 507L515 514L518 518L521 520L524 522L527 522L530 522L533 522L536 521L539 519L542 515L545 510L548 504L551 501L554 498L557 497L560 497L563 497L566 497L569 496L572 494L575 491L578 493L581 494L584 494L587 494L590 494L593 495L596 495L599 495L602 496L605 496L608 496L611 496L614 496L617 496L620 496L623 497L626 499L629 500L632 500L635 500L638 500L641 500L644 500L647 500L650 500L653 501L656 503L659 503L662 503L665 503L668 502L671 504L674 506L677 508L680 508L683 508L686 508L689 507L692 505L695 504L698 504L701 504L704 507L707 511L710 513L713 514L716 514L719 514L722 514L725 515L728 516L731 518L734 519L737 519L740 519L743 519L746 521L749 524L752 537L755 541L758 543L761 544L764 544L767 544L770 544L773 543L776 542L779 542L782 543L785 543L788 544L791 545L794 545L797 545L800 545L803 545L806 548L809 550L812 551L815 551L815 552L812 565L809 574L806 586L803 596L800 598L797 597L794 595L791 590L788 586L785 584L782 582L779 576L776 572L773 570L770 568L767 564L764 559L761 557L758 555L755 552L752 550L749 549L746 549L743 549L740 549L737 551L734 553L731 555L728 555L725 556L722 558L719 561L716 564L713 564L710 564L707 563L704 563L701 563L698 563L695 564L692 566L689 569L686 572L683 577L680 584L677 587L674 588L671 588L668 590L665 592L662 593L659 584L656 580L653 577L650 574L647 566L644 561L641 559L638 557L635 556L632 555L629 554L626 553L623 553L620 553L617 553L614 553L611 555L608 556L605 557L602 554L599 552L596 550L593 549L590 548L587 546L584 544L581 543L578 543L575 543L572 543L569 545L566 546L563 547L560 549L557 552L554 557L551 561L548 568L545 571L542 576L539 577L536 578L533 580L530 580L527 573L524 569L521 567L518 565L515 565L512 565L509 565L506 564L503 563L500 561L497 559L494 559L491 559L488 559L485 560L482 561L479 561L476 561L473 562L470 563L467 563L464 563L461 563L458 563L455 563L452 564L449 566L446 568L443 566L440 565L437 565L434 565L431 566L428 568L425 568L422 568L419 568L416 570L413 572L410 573L407 573L404 571L401 568L398 566L395 564L392 559L389 557L386 555L383 552L380 548ZM889 557L892 557L895 557L898 556L901 555L904 555L907 555L910 557L913 559L916 560L919 561L922 562L925 562L928 564L931 565L934 565L937 566L940 566L943 567L946 567L949 567L952 567L955 566L958 568L961 570L964 572L967 572L970 572L973 572L976 571L979 569L982 566L985 567L988 567L991 567L994 567L997 569L1000 570L1003 570L1006 570L1009 570L1012 568L1015 567L1018 569L1021 570L1024 570L1027 570L1030 570L1033 568L1036 566L1039 567L1042 568L1045 568L1048 568L1051 568L1054 568L1057 568L1060 567L1063 567L1066 566L1069 567L1072 567L1075 567L1078 567L1081 566L1084 568L1087 568L1090 568L1093 568L1096 569L1099 570L1102 570L1105 570L1108 569L1111 567L1114 567L1117 569L1120 570L1123 570L1126 570L1129 570L1132 568L1135 567L1138 567L1141 567L1144 567L1147 567L1150 568L1153 569L1156 569L1159 569L1162 569L1165 568L1168 568L1171 570L1174 571L1177 571L1180 571L1183 571L1186 570L1189 574L1192 576L1195 578L1198 578L1201 580L1204 581L1207 581L1210 581L1213 581L1216 580L1219 579L1222 579L1225 579L1228 578L1231 578L1234 577L1237 577L1240 577L1243 577L1246 578L1249 580L1252 581L1255 581L1258 581L1261 581L1264 580L1267 578L1270 577L1273 578L1276 578L1279 578L1282 578L1285 577L1288 577L1291 577L1294 577L1297 576L1300 576L1303 577L1303 578L1300 578L1297 580L1294 582L1291 587L1288 600L1285 611L1282 625L1279 638L1276 655L1273 652L1270 650L1267 648L1264 648L1261 648L1258 648L1255 649L1252 643L1249 633L1246 625L1243 608L1240 603L1237 601L1234 599L1231 599L1228 599L1225 599L1222 600L1219 602L1216 605L1213 612L1210 633L1207 644L1204 648L1201 648L1198 648L1195 648L1192 650L1189 635L1186 616L1183 611L1180 608L1177 606L1174 605L1171 605L1168 605L1165 606L1162 608L1159 611L1156 615L1153 617L1150 622L1147 626L1144 627L1141 626L1138 626L1135 626L1132 627L1129 629L1126 632L1123 635L1120 637L1117 637L1114 637L1111 638L1108 640L1105 642L1102 646L1099 648L1096 651L1093 656L1090 660L1087 675L1084 704L1081 713L1078 724L1075 730L1072 727L1069 714L1066 700L1063 692L1060 680L1057 666L1054 654L1051 649L1048 645L1045 631L1042 622L1039 615L1036 610L1033 598L1030 592L1027 588L1024 586L1021 584L1018 583L1015 581L1012 581L1009 581L1006 581L1003 579L1000 578L997 576L994 575L991 575L988 575L985 575L982 577L979 579L976 582L973 585L970 590L967 594L964 594L961 594L958 595L955 597L952 601L949 607L946 622L943 625L940 629L937 636L934 638L931 634L928 632L925 630L922 626L919 621L916 610L913 594L910 589L907 587L904 584L901 575L898 568L895 564L892 562L889 558ZM1313 579L1316 579L1319 577L1322 575L1325 575L1328 577L1331 577L1334 577L1337 577L1340 576L1343 575L1346 575L1349 574L1352 573L1355 573L1358 574L1361 574L1364 574L1367 574L1370 573L1373 573L1376 573L1379 573L1382 573L1385 573L1388 573L1391 573L1394 573L1397 572L1400 575L1403 577L1406 578L1409 578L1412 578L1415 578L1418 578L1421 580L1424 582L1427 583L1430 583L1433 583L1436 584L1439 586L1442 586L1445 586L1448 586L1451 585L1454 589L1457 591L1460 593L1463 593L1466 593L1469 593L1472 592L1475 590L1478 588L1481 590L1484 590L1487 591L1490 593L1493 593L1496 593L1499 593L1502 593L1505 593L1508 593L1511 594L1514 594L1517 594L1520 594L1523 593L1526 594L1529 594L1532 595L1535 597L1538 599L1541 599L1544 599L1547 599L1550 599L1553 599L1556 599L1559 601L1560 601L1560 602L1559 604L1556 613L1553 649L1550 663L1547 674L1544 676L1541 678L1538 679L1535 680L1532 680L1529 665L1526 660L1523 656L1520 652L1517 649L1514 647L1511 646L1508 646L1505 646L1502 647L1499 642L1496 631L1493 621L1490 616L1487 614L1484 611L1481 609L1478 608L1475 608L1472 608L1469 608L1466 609L1463 610L1460 610L1457 610L1454 610L1451 608L1448 604L1445 602L1442 601L1439 601L1436 601L1433 601L1430 602L1427 604L1424 608L1421 612L1418 616L1415 625L1412 638L1409 650L1406 652L1403 652L1400 652L1397 653L1394 655L1391 655L1388 656L1385 658L1382 662L1379 668L1376 655L1373 639L1370 628L1367 618L1364 609L1361 604L1358 600L1355 598L1352 596L1349 596L1346 596L1343 596L1340 597L1337 597L1334 595L1331 593L1328 593L1325 590L1322 586L1319 584L1316 582L1313 580ZM1614 613L1617 613L1620 613L1623 613L1626 612L1629 611L1632 611L1635 611L1638 611L1641 612L1644 614L1647 614L1650 614L1653 614L1656 613L1659 613L1662 615L1665 616L1668 616L1671 616L1674 616L1677 615L1679 615L1679 617L1677 622L1674 629L1671 631L1668 636L1665 638L1662 636L1659 635L1656 635L1653 635L1650 635L1647 636L1644 636L1641 636L1638 635L1635 635L1632 635L1629 635L1626 634L1623 630L1620 628L1617 621L1614 614ZM1772 621L1775 621L1778 621L1781 621L1784 621L1787 621L1790 621L1793 621L1794 621L1794 627L1793 632L1790 634L1787 639L1784 643L1781 634L1778 629L1775 626L1772 623Z" fill="#00aa00" stroke="#00aa00" stroke-width="1.5"/>
<path d="M368 512l0 39l1-55l4 9l0 10l0 10l0 2l1-22l0 8l0 9l0 9l0 10l1-33l0 25l0 29l1-67l0 48l1-39l0 49l1-14l0 19l1-69l0 38l0 12l1 20l1-71l0 73l1-74l0 53l0 1l0 1l1-57l0 75l0 28l1-109l0 4l0 37l0 38l0 2l1-69l0 5l2 60l1-79l0 78l0 9l1-88l0 4l0 8l1-11l1 1l2 14l0 68l2-77l1 3l0 5l0 77l0 1l1-79l0 82l0 1l0 2l1-94l2-11l0 17l0 91l1-99l0 90l1-87l0 82l1-91l0 91l1-80l1-12l0 98l2 16l2-3l1-3l1 7l3-107l1 93l1-99l0 4l1-11l0 5l0 13l1-18l0 1l1 101l1 7l2-105l1-8l1-17l1 24l0 104l1 0l1-105l0 5l0 6l0 85l1 11l2-108l0 1l0 104l0 3l1-108l0 97l2-98l0 13l3-13l2 13l0 94l1-110l0 1l1-1l0 12l0 104l1-112l2 7l1-8l4 113l2-99l0 95l1-105l1 101l1-101l0 97l0 2l3-1l1-101l0 2l1-1l0 1l0 18l2-17l0 22l1 66l1-82l0 7l1-6l1 7l0 78l1-67l0 61l1-69l0 82l1-83l2 1l0 78l2 3l2-76l0 64l1-1l1-58l0 8l0 60l1-7l1 6l0 3l1-87l0 74l0 1l0 6l0 1l1 4l1-8l0 1l0 14l2-75l0 69l1-79l0 8l1-3l0 74l2-13l0 11l1-70l1 9l1-28l0 29l1-11l3 7l0 64l1-70l0 61l1-62l0 71l2-71l0 11l1-12l0 2l0 72l1-69l0 69l2-66l0 56l2-76l0 1l2 79l0 3l0 7l0 6l1-86l0 1l0 67l1 1l3-77l0 12l0 1l2 20l1 1l2-18l1 1l1 2l1 57l0 4l1-57l0 8l1-8l0 81l1-16l0 6l1-66l2 70l1-20l1 22l2-70l0 1l0 60l0 13l1-1l1 5l1-19l0 20l0 1l1-1l1-86l0 68l0 17l1 1l1-17l0 18l2-23l0 2l2 10l1-12l0 8l1-8l0 13l1-9l1-9l0 16l1-60l3 60l1-2l1 0l1-22l0 19l2-25l0 16l0 5l3-93l0 101l1-33l0 17l4-22l0 1l0 17l6-14l1 6l3-1l1 1l1-17l0 14l0 1l1-11l2 9l3-1l4-8l0 10l2 0l1-13l7 19l3-1l0 2l3 0l0 4l1-14l1 18l2-9l0 11l2 2l1-9l0 15l1-21l1-1l0 10l1-1l0 1l0 2l1-11l0 9l4-2l1-12l1 8l3 3l1-6l3-78l1 83l1 0l2 2l2-12l3 14l3-12l1 7l3-5l1 9l1 5l0 21l1-31l1 15l0 3l1 1l1-17l0 18l4-4l2 39l1-124l0 95l3-5l0 9l0 4l1-1l0 2l3-18l1 17l1-12l1 18l0 10l0 6l2-26l1 17l4 4l2-12l5-2l1-1l5 1l1-18l0 14l1-1l1 0l2-18l2 11l0 3l0 2l2-13l1-6l1-9l2-1l7 3l0 8l0 10l3-10l2 0l2-7l2 8l0 1l3 0l2 0l2-1l0 4l2 2l2-5l1-3l1-83l3 79l1-2l4-11l2-27l1 29l0 8l1-39l1 37l1 0l2-45l2 29l0 12l1-37l2-5l2-2l0 7l0 13l1 8l1-3l1 3l0 16l1-36l0 10l0 11l1-8l0 19l1-37l0 18l0 1l2-14l1 41l1 2l1-35l1 9l0 4l1 14l0 10l1-15l0 7l0 3l0 2l1-33l0 39l1-9l0 14l1-28l0 9l1-16l0 22l0 13l1-8l0 10l1-2l0 18l1-53l0 38l2-39l0 20l0 19l2 0l0 2l1-37l0 38l1-15l0 5l1-28l0 4l1 34l2-49l1 1l0 11l0 27l0 10l2-42l1 40l1-40l1 9l3 37l3-46l0 55l0 3l0 6l1-54l3 36l2 9l1-49l0 62l0 1l1-17l1-37l1 39l2 14l1-60l0 32l0 1l1 5l0 17l1-19l1-37l0 45l1-40l0 66l1-77l0 17l0 40l0 10l1-62l0 14l1 43l1-57l0 56l1-61l0 5l0 9l0 27l1 10l0 7l1-11l0 10l1-21l0 6l1-16l0 12l0 1l0 16l1-17l1-4l1-6l0 6l1-11l0 4l1-22l0 12l0 6l1-7l0 4l2-19l0 8l1-7l2-3l0 2l0 2l0 2l0 8l1-14l0 8l0 3l1-9l0 10l1-1l0 2l1-7l1 0l0 6l0 1l1-7l0 6l0 2l1-5l1-2l1 1l0 1l0 5l1-6l2-5l0 5l0 1l4-2l0 7l1 0l1-7l0 9l1 0l1 0l1 0l0 1l1-7l0 1l1 3l1-3l0 5l1-6l0 1l2-2l0 1l1-2l0 1l1-1l1-1l0 9l0 2l1-12l1 1l1 10l0 3l0 1l2-1l0 1l2-12l1 5l1-3l0 5l1-4l2 7l2 4l2-10l2 11l0 1l1 0l1-2l0 5l3-19l0 2l2 4l2-3l0 1l0 12l1-8l2-5l0 17l0 2l2-6l1 4l1-16l3 0l0 12l0 11l0 22l1-20l0 4l3 6l1 2l0 3l1 6l1-7l0 1l3-31l0 24l0 9l1-42l1 12l0 7l1 25l0 3l1-18l0 23l1-54l0 51l1-47l0 9l0 42l0 5l1-25l0 27l0 7l1-65l0 12l0 33l0 3l0 9l0 7l0 2l1 3l0 1l1-60l0 29l0 20l0 21l1-72l0 2l1 3l0 65l1-77l1 58l1-12l1 3l0 11l0 22l1-78l0 40l0 10l0 4l0 23l0 3l1-1l1-76l1-3l0 7l1 55l0 10l0 8l1-81l0 79l1-12l1 12l0 7l1-87l0 1l0 77l1-63l0 75l0 6l1-92l1 86l1-17l1 0l0 18l1-88l0 10l0 68l1 6l0 5l0 6l1-6l3-87l0 1l0 74l0 5l1-80l0 66l0 14l0 2l1-11l1-72l0 15l0 52l0 16l0 1l1-84l1 15l0 78l1-89l0 1l0 6l0 50l0 23l1-73l0 39l0 21l0 3l0 3l1-67l2-6l0 7l0 40l1-51l0 64l1-16l0 27l1-61l0 22l0 13l1-48l0 13l0 43l1-9l1-7l0 12l0 1l0 2l2-44l0 1l0 36l0 18l1-62l1 13l1-20l0 2l0 4l0 35l1-36l0 45l1-46l0 52l1-12l0 7l1-45l0 2l1 1l0 33l1-5l1-28l2 18l0 7l1-24l0 15l2-16l0 27l1-20l0 1l0 13l0 11l1 0l1-33l1-2l0 11l0 12l1-37l0 13l0 11l1 14l1-15l0 16l1 0l2-29l1-7l0 5l0 3l0 30l1-31l1 15l0 9l4-16l0 16l1-22l0 10l2 10l1-21l1 24l1-19l0 16l0 1l1-24l1 3l0 14l1-13l0 9l0 15l0 8l1-27l1-1l0 5l1-2l0 13l3-17l0 4l0 5l0 4l6 8l3-28l0 2l0 14l2-15l0 1l1 11l1 19l1-28l0 27l2-15l0 17l1 1l1-7l1-21l0 18l0 4l3-19l0 17l2-20l0 13l0 31l1 1l1-48l0 4l0 36l0 11l1-51l0 62l1-13l0 22l2-57l0 23l0 24l1-47l0 32l0 18l0 1l1-16l0 46l1-27l0 8l1-63l0 40l0 13l0 6l1-72l0 56l0 15l0 8l1-80l1 63l0 28l1-91l0 60l0 17l1-5l0 14l0 3l0 16l2-101l0 54l0 47l1-19l1-18l0 4l0 22l0 2l0 1l1 1l0 4l1-100l0 8l0 90l1-97l0 84l1-77l1 94l0 31l1-132l0 102l0 11l1 0l1-109l0 86l0 4l0 5l0 1l0 18l0 2l0 5l1-26l0 34l0 19l1-148l0 103l0 46l1-143l0 82l0 14l0 19l1-120l0 114l0 18l0 3l1-47l0 69l1-153l0 133l0 32l1-176l0 8l0 126l0 3l0 16l2-156l0 170l1-168l0 113l0 14l0 39l1-39l0 5l0 2l0 18l1-24l0 6l0 9l0 26l1 11l1-181l0 2l1 177l0 6l0 6l0 5l1-195l0 191l0 9l1-16l0 15l0 1l1-200l1 2l0 150l0 9l0 46l1-206l1 0l0 191l0 2l0 1l0 2l0 2l0 1l0 14l1-200l0 156l0 21l0 5l1-63l0 38l0 12l1-2l1-55l0 6l0 27l0 7l0 11l0 7l1-66l0 16l0 22l1-42l0 6l0 23l0 9l1-152l0 106l0 30l1-30l0 59l1-154l0 106l0 1l0 9l0 34l1-160l0 6l0 8l0 143l1-63l1-93l0 126l0 28l1-142l0 77l0 11l0 33l0 16l0 4l1-46l0 27l1-6l0 15l0 2l0 11l1-53l0 18l0 4l0 6l0 28l1-151l0 109l0 6l1-16l0 8l1-30l0 8l0 13l0 2l2-117l1 6l0 103l1-99l0 78l0 18l1 10l2-15l1-98l0 10l0 89l1-1l1-8l1-75l0 4l0 78l1-90l0 83l1-86l0 16l0 63l1-79l0 89l1-89l0 1l2 84l2-74l3 66l0 6l2-68l0 55l0 3l0 12l1-74l0 3l1-10l0 81l3 6l1-26l0 17l2-79l0 87l2-87l1-1l0 67l0 11l1-75l0 56l0 15l2-75l0 67l0 8l1-67l3 64l1-63l0 2l4-9l0 73l1-9l0 7l2-5l1-62l2 69l0 3l1-6l0 6l1-1l2-28l1-49l1 1l0 66l1-66l0 1l0 43l1-43l0 51l1-44l0 37l2 11l1-55l1 38l1 18l1-57l3 12l0 1l1-5l0 32l0 7l0 3l1 0l1-52l0 11l1-10l1 51l1-42l1-8l2 52l2-6l2 32l2-75l0 52l0 10l1 7l1-60l0 63l0 7l0 40l1-42l0 1l1-81l0 73l1-76l0 3l0 56l0 20l1-5l0 26l1-101l0 93l0 8l0 1l0 1l1-85l0 56l0 5l0 18l1-96l0 93l0 12l0 15l1-119l0 105l0 1l1-107l0 1l0 4l0 8l0 7l0 83l0 5l1-37l0 30l1-92l0 61l1 28l1-96l0 19l0 58l1-59l1 1l0 64l1-71l2 0l0 10l0 72l1-83l1 0l0 62l0 21l1-77l0 79l2-18l1 27l1-19l1-71l0 6l0 38l0 14l1-60l0 81l0 2l1-71l1-2l0 18l1 29l0 17l1-64l0 17l0 15l0 31l1-23l0 9l0 17l1-73l0 4l0 21l0 29l0 1l0 11l0 1l1-81l0 11l0 53l0 1l0 8l1-75l0 56l0 4l0 6l1-8l1-56l0 52l2-37l1 4l0 3l0 15l1 6l1 17l1-52l0 30l1-29l2 11l0 36l1-36l0 18l0 6l2-31l0 3l0 28l0 3l1-38l0 11l1-11l1 0l0 12l0 25l1 1l1 2l1-41l0 46l0 4l1-23l0 28l1-30l2-25l0 65l1-59l0 61l1-38l0 23l0 1l0 10l1-53l0 49l0 13l0 4l1-29l0 28l2-66l0 57l1-51l0 69l1-84l0 76l1-3l0 5l0 6l0 1l1-75l0 51l1 11l1-89l0 92l1-66l1 8l0 47l0 27l1-6l3-76l1-6l0 4l0 78l2-75l0 71l0 12l1-93l0 85l3 1l2-89l1 83l1 13l1-95l0 72l0 29l1-100l0 90l0 11l1 7l1-43l0 33l1-6l0 1l0 1l0 9l1-100l0 3l0 47l0 12l0 37l1-54l0 3l0 55l0 2l0 4l1-110l0 7l0 95l0 3l1-49l0 2l0 41l0 1l0 1l0 5l1-76l0 60l0 7l0 1l1-70l0 40l0 23l0 1l1-93l0 71l0 7l0 1l0 2l0 5l1-35l0 7l0 15l1-72l0 6l0 62l0 1l0 4l1-74l0 24l0 43l1-51l0 48l0 36l1-86l0 41l0 5l0 1l1-52l0 25l0 19l0 4l0 8l0 17l1-37l1-29l0 9l0 11l1-17l0 85l1-94l0 7l0 17l2 28l1-62l0 47l4-49l1 19l1-13l2-7l0 29l1-12l1-6l1 3l0 4l1-4l1-6l1-2l2 1l0 13l1-4l1-12l1-6l0 6l2 9l1-13l0 15l0 11l1-22l2 24l0 5l1-17l0 16l0 1l3-2l1-32l0 33l1 1l2-18l0 14l1-30l0 44l1-9l1-8l1 1l4-21l1 21l1-26l1 6l0 16l0 6l1-6l2-20l2 32l1-1l2 0l1-34l0 7l1 5l0 23l1-5l0 5l0 7l1-44l0 3l0 36l1-27l0 27l1 2l1-28l0 29l1-9l0 12l1-34l0 23l0 10l1 4l1-14l0 13l1-7l1-26l0 21l0 8l0 6l0 5l0 17l1-21l1-46l0 53l0 10l1-4l1 7l0 1l1-64l1 50l0 7l0 2l0 13l1-7l0 4l0 4l0 1l1-76l1 67l1-62l1 4l0 41l0 9l1-57l0 73l0 6l0 12l0 2l0 5l1 4l1 12l1-41l0 13l0 6l0 14l0 4l1-43l2 39l0 4l1-103l1 99l0 4l1-117l0 116l1-18l0 10l1-109l3 2l0 9l1 3l0 83l0 5l1-15l2-92l0 95l0 19l1-108l0 87l1-81l1-5l0 111l1-113l0 2l1 6l0 74l0 14l3-80l1 76l0 1l0 2l1-97l0 1l0 96l1-97l0 15l0 95l1-105l0 82l1-68l0 76l2-23l1-59l0 83l2-83l0 5l0 49l0 22l1-79l0 46l0 22l0 2l1-62l0 62l0 14l0 1l1 3l0 1l1-34l0 19l0 15l1-86l0 37l0 23l1 5l1-68l1 54l0 22l0 20l1-83l1 23l0 14l0 12l0 8l1-32l0 28l0 31l2-65l1-33l0 9l0 30l0 12l1-39l0 5l1-4l1-3l1 18l0 6l1-30l1 9l0 47l1-54l1-1l1-5l0 6l0 25l1-26l1-5l0 9l1-4l1 32l2-12l1 10l0 1l1-27l0 15l0 5l1-4l2-18l1 19l0 5l1-13l1 9l1 4l0 12l1-36l0 18l0 4l0 17l1-39l0 31l4-28l0 3l0 17l0 18l0 1l2-41l0 37l0 2l3-1l1-35l0 2l1 21l1 5l0 5l0 1l1 1l1-21l0 22l2-30l0 19l1-16l0 27l1-7l0 6l1-21l1-11l0 24l0 5l1-30l1-1l0 20l0 8l1-29l0 3l0 25l0 4l2-4l1 0l1-29l0 13l1 11l1-24l0 32l0 1l1 1l1 3l1-32l3 9l1 40l1-18l3 13l0 1l1 4l0 21l1-35l1-29l0 26l0 13l3-49l0 56l0 10l0 2l1 3l0 2l0 2l0 2l1 0l0 9l0 10l1-82l0 37l0 32l0 1l0 46l1-68l0 12l0 3l0 3l0 2l0 6l0 2l0 8l0 1l0 9l0 7l0 1l0 1l1-43l0 1l0 4l0 3l0 3l0 32l0 2l0 1l1-117l0 55l0 16l1-61l0 36l0 40l1-96l0 24l1 44l1 28l2-87l2 5l1 51l0 10l1-65l1-1l0 69l1-67l0 53l0 23l1-19l1 13l2-69l0 1l0 89l1-91l0 3l0 9l1 80l1-86l0 70l1-12l0 8l0 5l0 1l1-66l1 64l1-76l0 87l1 5l0 6l1 2l2-100l1 10l0 88l0 4l2-89l0 75l1-7l0 9l2 11l0 2l2-4l1 2l2-16l1 11l2-91l0 1l1 78l0 6l0 8l1-24l0 20l2-21l0 14l1-79l0 10l2 18l0 18l0 41l1-60l0 13l1-47l0 11l0 23l0 14l0 14l0 32l1-51l0 40l0 4l1 3l1-61l0 4l0 9l0 4l1-43l0 30l0 19l0 8l0 20l0 9l1-9l0 1l0 8l1-79l0 2l0 39l0 21l0 2l1-70l0 1l0 13l0 16l0 1l0 13l1-14l0 2l0 10l0 17l0 8l1-66l0 30l0 15l1-43l0 11l0 4l0 7l0 6l1-1l0 5l0 3l0 13l3-49l0 57l1-47l1-17l0 18l1-11l3 2l0 2l1-4l0 1l2 0l1 0l0 1l3-1l1 1l0 4l4-2l1 1l0 2l0 1l2 6l1 3l1-12l0 16l1-18l0 19l1 6l0 1l1-26l0 24l0 1l1-4l1-19l0 13l2-7l0 10l1-13l2 5l3-3l1 5l1-8l2-3l2-1l0 1l0 7l1-7l1 0l0 6l0 3l0 12l1-18l0 4l0 16l1 2l0 3l0 1l1-26l0 26l0 1l1-1l0 4l1-33l0 43l1-35l0 1l1-1l0 29l1-31l1 5l0 28l1-30l0 15l0 4l1 6l0 9l1-26l0 11l0 15l1 2l0 1l1-38l0 16l0 15l1-18l0 30l1-42l0 21l0 5l0 14l0 2l1 10l1-18l1 1l0 3l2-28l0 12l0 31l2-55l1 29l0 7l1-43l0 11l0 32l1-31l2 7l0 22l0 4l2-38l0 26l1-27l0 9l0 31l0 2l1-2l3-1l1-36l0 24l0 9l1-32l1 35l1-28l1-6l1-1l0 13l0 17l1-26l0 24l1 1l1-23l2-7l0 1l1 34l1-24l0 12l0 10l0 3l1-37l1 12l0 24l1-25l1 15l0 12l1 0l0 2l0 3l1-4l0 3l1 0l3-47l0 22l0 27l1-37l1 17l0 19l0 1l0 2l1-9l1-28l0 28l3-31l0 3l0 3l0 10l1-19l0 9l0 21l1 8l1-19l1-5l3 11l1-6l0 1l1-4l1-2l1 1l1-15l0 9l1-7l2 4l1-7l0 4l0 1l1-4l1 1l0 21l5-21l9-1l8 15l6-22l23 9l2-3l6-6l4 17l2-11l0 5l2 0l0 1l0 1l1-4l1 1l0 24l1-25l1-1l0 8l1 6l1-9l0 8l0 2l2-14l0 16l1-5l0 19l3-16l0 7l0 12l1-19l0 1l0 6l4-18l0 27l0 1l2-27l0 13l0 18l1-27l0 27l2 5l0 1l1-29l0 31l1 2l1-34l0 8l0 23l1-3l1-7l0 6l2 1l1-35l0 25l0 10l1-32l0 27l1-11l1-19l0 31l0 2l1 10l1-22l1 5l2-27l0 10l1-9l0 23l1-22l0 13l1-12l0 17l1-18l1 2l2 8l-1120 10l-153-33l512-189l-9 276l-2-39l98 5l60 40l-425-96l803-133l-10 260l351-248" marker-start="url(#mgn)" marker-mid="url(#mgn)" marker-end="url(#mgn)"/>
</g>
<g fill="none" stroke="none">
<path d="M378 501L381 492L384 491L387 491L390 492L393 494L396 495L399 495L402 495L405 493L408 490L411 489L414 489L417 489L420 491L423 493L426 494L429 494L432 494L435 492L438 490L441 491L444 493L447 494L450 494L453 494L456 492L459 492L462 492L465 492L468 492L471 494L474 496L477 499L480 500L483 500L486 500L489 499L492 497L495 498L498 501L501 502L504 502L507 505L510 508L513 510L516 510L519 510L522 509L525 507L528 503L531 494L534 491L537 488L540 485L543 481L546 476L549 473L552 473L555 473L558 472L561 469L564 469L567 468L570 465L573 465L576 468L579 469L582 469L585 469L588 468L591 467L594 470L597 473L600 474L603 474L606 474L609 473L612 470L615 466L618 466L621 467L624 470L627 475L630 478L633 480L636 480L639 480L642 479L645 479L648 480L651 480L654 480L657 480L660 480L663 480L666 481L669 482L672 482L675 482L678 482L681 484L684 484L687 484L690 484L693 482L696 480L699 478L702 479L705 479L708 479L711 478L714 478L717 478L720 477L723 476L726 475L729 473L732 473L735 473L738 473L741 472L744 470L747 467L750 463L753 464L756 464L759 470L762 474L765 477L768 478L771 479L774 483L777 486L780 491L783 494L786 496L789 497L792 497L795 497L798 495L801 492L804 490L807 490L810 489L813 487L816 484L819 482L822 479L825 472L828 469L831 467L834 469L837 470L840 470L843 472L846 472L849 473L852 474L855 475L858 477L861 480L864 482L867 483L870 484L873 484L876 484L879 490L882 493L885 495L888 496L891 496L894 496L897 494L900 494L903 494L906 495L909 496L912 498L915 502L918 505L921 506L924 506L927 506L930 505L933 502L936 502L939 503L942 504L945 504L948 504L951 503L954 500L957 497L960 497L963 496L966 494L969 493L972 492L975 490L978 489L981 486L984 486L987 489L990 491L993 495L996 497L999 498L1002 498L1005 500L1008 500L1011 500L1014 500L1017 503L1020 504L1023 504L1026 504L1029 503L1032 501L1035 502L1038 504L1041 505L1044 505L1047 505L1050 504L1053 501L1056 497L1059 497L1062 496L1065 494L1068 490L1071 490L1074 492L1077 492L1080 494L1083 496L1086 499L1089 500L1092 502L1095 503L1098 503L1101 503L1104 503L1107 502L1110 503L1113 503L1116 503L1119 501L1122 498L1125 498L1128 498L1131 499L1134 501L1137 504L1140 507L1143 508L1146 508L1149 509L1152 510L1155 510L1158 511L1161 511L1164 511L1167 513L1170 516L1170 525L1167 524L1164 524L1161 524L1158 525L1155 525L1152 525L1149 526L1146 526L1143 527L1140 526L1137 524L1134 523L1131 522L1128 522L1125 522L1122 523L1119 524L1116 524L1113 526L1110 527L1107 526L1104 524L1101 523L1098 523L1095 523L1092 525L1089 526L1086 524L1083 522L1080 522L1077 522L1074 522L1071 524L1068 527L1065 527L1062 527L1059 528L1056 525L1053 524L1050 522L1047 521L1044 521L1041 521L1038 522L1035 524L1032 526L1029 526L1026 526L1023 526L1020 526L1017 527L1014 525L1011 525L1008 525L1005 523L1002 523L999 523L996 523L993 523L990 524L987 526L984 528L981 527L978 526L975 526L972 524L969 523L966 523L963 523L960 524L957 525L954 526L951 524L948 523L945 523L942 523L939 524L936 527L933 526L930 523L927 522L924 522L921 522L918 523L915 523L912 523L909 523L906 524L903 526L900 525L897 522L894 520L891 520L888 520L885 521L882 522L879 521L876 521L873 521L870 521L867 521L864 521L861 523L858 523L855 523L852 520L849 519L846 517L843 516L840 516L837 516L834 517L831 518L828 519L825 519L822 519L819 518L816 516L813 516L810 516L807 517L804 517L801 515L798 512L795 511L792 511L789 511L786 511L783 513L780 516L777 516L774 514L771 514L768 512L765 511L762 510L759 510L756 510L753 510L750 512L747 515L744 521L741 527L738 528L735 530L732 531L729 533L726 536L723 538L720 538L717 538L714 538L711 538L708 539L705 540L702 541L699 543L696 545L693 543L690 542L687 542L684 541L681 541L678 541L675 541L672 541L669 541L666 542L663 540L660 540L657 540L654 540L651 542L648 538L645 534L642 532L639 531L636 531L633 531L630 532L627 531L624 531L621 531L618 531L615 530L612 526L609 523L606 522L603 522L600 522L597 522L594 520L591 519L588 516L585 515L582 515L579 515L576 516L573 517L570 517L567 519L564 522L561 524L558 525L555 526L552 526L549 527L546 529L543 532L540 536L537 540L534 547L531 550L528 553L525 557L522 558L519 560L516 561L513 562L510 559L507 558L504 558L501 558L498 559L495 562L492 565L489 565L486 564L483 564L480 564L477 565L474 564L471 564L468 564L465 565L462 567L459 570L456 573L453 574L450 574L447 574L444 575L441 577L438 576L435 574L432 572L429 572L426 572L423 572L420 573L417 573L414 574L411 575L408 572L405 569L402 568L399 567L396 566L393 565L390 563L387 562L384 561L381 559L378 545Z" fill="#00c8ff" stroke="#00c8ff" stroke-width="1.5"/>
<path d="M367 538l2-56l2 32l3-8l0 4l0 15l0 1l0 1l0 3l0 4l0 4l0 1l0 3l0 6l1-61l0 3l0 3l0 3l0 5l0 9l0 6l0 1l0 5l0 7l0 2l0 3l0 10l0 13l1-70l0 9l0 25l0 3l0 27l1-40l0 9l0 3l0 19l0 18l1-53l1-20l1 10l0 13l1-3l0 20l0 21l1-62l0 49l2-33l0 15l0 19l0 10l0 19l1-78l0 11l0 3l0 52l1-67l0 75l1-75l0 7l1-8l0 8l0 73l1-1l3-85l0 11l0 74l2-81l0 7l1 70l1-62l0 2l0 69l3-10l2 8l1-79l0 83l2-85l0 2l0 81l0 3l0 8l1-93l0 9l4-13l1 12l0 83l2-7l2-87l0 1l3 0l0 5l2-23l0 24l0 84l1-86l0 76l0 4l0 5l1 0l1-89l0 12l0 78l1 0l1-87l1 5l0 1l0 79l1-84l2-4l0 5l1 76l1 8l2-8l0 1l1-68l1-11l0 7l0 77l0 1l0 3l3-100l0 8l0 2l2-2l0 2l2-2l0 96l1-94l1-1l0 95l1-94l0 2l0 8l3-6l0 86l1-86l0 87l2-88l1 0l0 77l2-79l0 8l2-10l0 91l1-13l0 15l1-10l1-79l3 85l1-86l0 82l0 3l2-82l0 71l0 3l2-78l0 70l1 1l1-70l1 70l0 4l1 3l1-83l0 74l0 5l1 4l1-63l0 64l1-63l0 58l1-70l0 4l3-3l0 12l1 56l1-65l1 1l0 71l1-2l0 2l1-63l1-13l1 75l2-71l0 62l1-63l0 71l0 2l1 4l1-1l0 1l1-82l0 1l2 14l3-12l1 74l1-62l1 53l1-5l0 9l1-58l0 57l1-4l1-6l1 4l0 6l1 0l1-52l0 53l1-64l0 53l2 13l1-65l0 8l1 58l1-52l0 54l1-53l2-9l0 60l1-60l0 3l0 5l0 51l1-50l0 43l1 6l1-9l0 9l0 1l1-1l0 2l1-63l0 60l1-4l1-6l1-51l1-4l0 2l0 3l0 58l1 1l1-68l0 2l0 54l0 8l1-55l1-11l0 1l0 4l1 59l1-89l0 40l0 39l0 10l1-69l0 1l0 21l0 46l1-7l1-48l1-15l0 62l1-62l1-1l0 46l1 9l0 12l1-18l0 14l2-72l0 11l0 47l0 10l1-16l0 1l1-50l2 8l0 42l2-61l0 1l0 3l0 62l1-54l1-10l0 4l0 8l0 50l1-82l0 21l0 3l0 3l0 55l1-61l0 1l0 8l0 49l1-58l0 58l0 3l2-72l0 70l0 1l1-61l0 7l2 44l0 10l1-62l0 60l1-62l0 1l2 0l0 1l0 59l1 3l1-65l0 64l1 9l1-86l0 13l0 2l0 4l0 46l0 10l1-75l0 21l0 43l0 1l0 8l1-53l0 41l0 4l1-3l0 8l1-50l0 45l1 0l0 6l1-63l0 1l1 61l1-63l0 1l2 2l2 59l0 2l1-57l1 53l0 1l2-54l1 0l1-1l0 9l0 42l0 11l1-62l0 44l0 7l0 3l2-9l0 9l1-51l0 2l0 5l0 47l0 5l3-64l0 59l1-62l0 2l0 50l1-48l0 3l1 10l0 38l0 8l0 2l1-61l0 54l0 7l0 1l1 0l1-5l0 7l3-58l0 4l0 53l1-56l0 7l1-8l0 1l2 6l1 4l1-19l0 65l1-51l2 53l1-62l0 10l0 1l0 51l1-76l0 18l1-5l1 65l1-7l0 12l1-82l1 86l1-13l1-53l1 62l2-75l0 1l0 63l0 14l2-78l0 6l1-2l2 0l0 1l1 59l1-47l0 1l1-8l1-2l0 4l0 5l1 56l1-55l0 56l2 0l3-59l2 60l1-54l1 53l1-60l0 1l0 51l0 7l0 1l1-53l0 48l0 27l1-20l1-6l1-57l0 53l0 12l0 1l2-63l0 2l0 1l0 63l2-1l0 6l2-1l1-71l0 1l0 67l0 2l1-70l0 1l0 64l1-55l1-9l0 5l1-1l0 6l1-9l1-1l2 66l0 1l1-64l0 3l0 53l1-61l0 62l1-60l0 3l1-5l0 1l2 0l0 67l0 5l1-3l3-67l0 8l2 62l1-70l0 68l1-64l0 55l0 9l1-62l0 61l0 1l1 0l2-67l0 7l2 59l0 3l1-68l0 1l0 9l1-10l1 11l1 56l1 0l3-67l5-2l1-2l1 0l0 12l1 52l1-65l0 73l0 1l2-75l0 70l1-9l0 2l0 1l0 9l1-73l0 72l1-1l2-3l0 2l1-65l1-6l1 64l1-53l0 60l1-4l2-66l0 7l0 62l1-69l0 1l0 64l0 2l1-59l1-6l1 4l3 59l1-64l0 68l1-1l1-6l1-54l1 56l0 3l1-59l0 53l0 2l0 4l1-70l0 1l0 69l1-69l0 56l0 6l1-63l0 4l0 1l0 68l1-69l0 67l2-4l1-68l0 3l1 7l1-7l0 2l1 0l1-5l1 8l1 49l0 1l1-59l0 2l0 7l1-1l1-2l0 1l1 46l0 10l1-1l1-65l1 57l0 8l2-2l1-70l0 58l1 8l1-60l0 56l1-50l1 39l0 6l1-46l3-8l0 12l0 38l1-51l0 1l0 10l0 2l0 38l0 2l3-54l0 1l0 12l1-11l0 11l0 41l1-51l0 12l1-6l0 46l1-47l0 10l1-4l1 5l0 1l1-6l0 11l2 30l0 1l0 2l1 0l5 0l2-8l0 11l1-1l0 1l1 5l1-37l3-9l1 7l1-6l4 12l2 19l1-18l1-1l2 0l0 16l1 2l1-17l2 17l3-25l1 10l0 12l1-9l1-10l0 6l0 3l2-16l0 4l4 2l1-4l0 2l2-10l0 7l0 9l4-9l0 9l2-15l1-5l2 0l0 9l1-11l0 14l2-16l1-1l0 12l1-17l1-2l0 1l0 1l0 19l1-35l0 11l1-11l0 15l1 0l1 0l0 1l0 5l0 5l1-6l1 9l1-9l1 8l1-7l2 1l1-3l0 5l1-2l1-1l0 1l1 0l1-6l1 7l3-1l2 12l2-6l1-4l0 1l0 4l1-5l0 12l1-4l1-7l0 12l1-11l0 2l0 8l3-9l0 1l1 1l1 6l3-3l0 11l2-8l0 9l5-8l1 5l2 1l2-7l0 7l2-6l2 3l1 0l1 4l1 1l0 2l0 8l1-5l0 5l4-10l0 5l4-2l2 1l1-3l2-2l3 50l3-47l2-13l1 17l1-3l3 5l0 1l0 9l0 11l1-25l0 3l0 8l1-18l1 30l1-19l1 5l3-2l2 1l2 0l3 1l3-1l3-6l0 12l1-11l1 1l1 0l1 11l1-16l2 7l1 7l2-2l3-11l1 8l2 1l2-4l3 4l2-5l1-4l1 0l0 1l3 6l1-7l2-2l3 0l1-3l1 1l1 0l0 5l1-4l0 4l1-5l3-3l0 7l1-5l1 5l4-9l0 3l1-8l0 1l1 6l0 4l1-26l0 6l0 7l0 1l2 2l0 13l2-9l0 12l1-7l1-4l2 12l1 0l1-10l1 1l1 11l1-7l1 0l18-2l0 4l0 3l1 0l2-12l1 13l5 2l4-2l4 1l2-3l1 3l2-1l1 1l4 2l1 2l4-2l2-2l0 6l1-7l2 4l1 0l4-9l0 6l3-7l3-2l3-4l0 3l0 7l2-15l0 6l1-6l0 2l1-3l0 1l1-8l0 9l1 11l1-8l3 2l0 11l1-11l0 7l2 6l2-9l2 2l2-2l1 5l0 1l1-9l1 1l1 7l2 11l2 0l1-9l1 0l0 7l0 2l1-8l1-1l0 11l1-10l1 6l2-5l7-2l2 6l4-8l1 2l1-13l0 13l6-5l0 10l3 0l1-13l0 5l0 4l4-5l2 5l5 0l2 0l2 2l7 3l7 5l1-2l4 4l1-4l7 2l1 1l1-13l3 16l0 3l-535-228l328 149" marker-start="url(#mcn)" marker-mid="url(#mcn)" marker-end="url(#mcn)"/>
</g>
<g fill="none" stroke="none">
<path d="M739 475L742 460L745 461L748 466L751 469L754 470L757 472L760 482L763 486L766 494L769 499L772 502L775 503L778 503L781 503L784 502L787 504L790 504L793 504L796 503L799 501L802 498L805 496L808 495L811 494L814 492L817 491L820 489L823 486L826 480L829 478L832 476L835 477L838 479L841 481L844 482L847 484L850 487L853 488L856 489L859 489L862 489L865 489L868 493L871 495L874 496L877 496L880 498L883 501L886 503L889 503L892 504L895 505L898 505L901 507L904 510L907 511L910 511L913 511L916 510L919 508L922 505L925 503L928 503L931 503L934 503L937 502L940 500L943 499L946 499L949 499L952 497L955 494L958 489L961 489L964 488L967 486L970 491L973 494L976 496L979 496L982 496L985 496L988 494L991 491L994 488L997 485L1000 480L1003 478L1006 480L1009 483L1012 484L1015 485L1018 487L1021 491L1024 494L1027 496L1030 496L1033 496L1036 495L1039 497L1042 497L1045 497L1048 497L1051 495L1054 492L1057 494L1060 496L1063 496L1066 496L1069 496L1072 494L1075 495L1078 495L1081 495L1084 496L1087 496L1090 498L1093 501L1096 502L1099 502L1102 502L1105 503L1108 505L1111 506L1114 506L1117 506L1120 505L1123 502L1126 499L1129 496L1132 492L1135 492L1138 492L1141 493L1144 495L1147 495L1150 495L1153 498L1156 501L1159 503L1162 504L1165 504L1168 504L1171 507L1174 508L1177 508L1180 508L1183 507L1186 505L1189 503L1192 501L1195 498L1198 491L1201 487L1204 485L1207 482L1210 479L1213 482L1216 484L1219 485L1222 486L1225 487L1228 489L1231 489L1234 489L1237 489L1240 487L1243 485L1246 484L1249 481L1252 476L1255 469L1258 467L1261 470L1264 474L1267 477L1270 479L1273 479L1276 479L1279 479L1282 477L1285 474L1288 471L1291 473L1294 477L1297 480L1300 482L1303 482L1306 482L1309 484L1312 486L1315 487L1318 487L1321 487L1324 486L1327 483L1330 480L1333 472L1336 463L1339 457L1342 456L1345 454L1348 454L1351 454L1354 454L1357 458L1360 466L1363 469L1366 471L1369 471L1372 471L1375 471L1378 470L1381 467L1384 462L1387 461L1390 463L1393 463L1396 463L1399 463L1402 461L1405 458L1408 449L1411 441L1414 432L1417 429L1420 432L1423 435L1426 436L1429 437L1432 439L1435 440L1438 440L1441 440L1444 438L1447 436L1450 433L1453 433L1456 432L1459 429L1462 426L1465 422L1468 423L1471 423L1474 425L1477 428L1480 430L1483 431L1486 431L1489 431L1492 430L1495 433L1498 437L1501 440L1504 441L1507 442L1510 445L1513 448L1516 451L1519 454L1522 456L1525 460L1528 476L1531 490L1534 493L1537 497L1540 501L1543 506L1546 510L1549 513L1552 515L1555 518L1558 519L1561 519L1564 519L1567 522L1570 524L1573 525L1576 525L1579 525L1582 524L1585 526L1588 527L1591 527L1594 527L1597 527L1600 529L1603 529L1606 529L1609 529L1612 527L1615 526L1618 524L1621 521L1624 529L1627 542L1630 549L1633 553L1636 561L1639 564L1642 573L1645 580L1647 589L1647 591L1645 591L1642 591L1639 592L1636 593L1633 591L1630 589L1627 588L1624 586L1621 579L1618 576L1615 574L1612 574L1609 574L1606 575L1603 577L1600 580L1597 583L1594 585L1591 586L1588 588L1585 586L1582 583L1579 577L1576 574L1573 572L1570 571L1567 568L1564 565L1561 562L1558 561L1555 558L1552 556L1549 555L1546 555L1543 555L1540 557L1537 556L1534 553L1531 551L1528 550L1525 550L1522 550L1519 548L1516 547L1513 547L1510 547L1507 548L1504 550L1501 548L1498 545L1495 544L1492 544L1489 544L1486 543L1483 541L1480 540L1477 540L1474 540L1471 540L1468 540L1465 541L1462 541L1459 540L1456 540L1453 538L1450 535L1447 533L1444 533L1441 533L1438 533L1435 533L1432 533L1429 534L1426 533L1423 533L1420 531L1417 530L1414 530L1411 530L1408 529L1405 528L1402 527L1399 524L1396 523L1393 523L1390 523L1387 524L1384 527L1381 531L1378 531L1375 530L1372 530L1369 530L1366 528L1363 526L1360 526L1357 526L1354 527L1351 529L1348 532L1345 532L1342 531L1339 531L1336 531L1333 532L1330 533L1327 532L1324 532L1321 532L1318 531L1315 531L1312 531L1309 533L1306 533L1303 535L1300 535L1297 536L1294 537L1291 536L1288 536L1285 535L1282 535L1279 535L1276 536L1273 536L1270 536L1267 537L1264 537L1261 537L1258 537L1255 538L1252 540L1249 540L1246 537L1243 535L1240 535L1237 535L1234 536L1231 538L1228 539L1225 539L1222 539L1219 541L1216 543L1213 542L1210 540L1207 539L1204 539L1201 539L1198 541L1195 541L1192 541L1189 540L1186 539L1183 539L1180 539L1177 541L1174 543L1171 543L1168 543L1165 542L1162 541L1159 540L1156 540L1153 539L1150 539L1147 539L1144 540L1141 542L1138 542L1135 542L1132 541L1129 541L1126 541L1123 541L1120 541L1117 541L1114 538L1111 536L1108 536L1105 536L1102 536L1099 538L1096 541L1093 542L1090 540L1087 539L1084 539L1081 539L1078 537L1075 536L1072 536L1069 536L1066 537L1063 540L1060 540L1057 538L1054 537L1051 537L1048 537L1045 538L1042 540L1039 539L1036 536L1033 535L1030 535L1027 535L1024 536L1021 538L1018 539L1015 539L1012 539L1009 540L1006 539L1003 539L1000 537L997 537L994 537L991 537L988 537L985 537L982 537L979 537L976 537L973 537L970 537L967 538L964 540L961 541L958 543L955 546L952 550L949 550L946 552L943 555L940 557L937 557L934 556L931 556L928 556L925 553L922 551L919 551L916 551L913 552L910 552L907 551L904 548L901 546L898 546L895 546L892 547L889 549L886 552L883 550L880 548L877 548L874 547L871 546L868 545L865 544L862 544L859 544L856 544L853 543L850 542L847 540L844 539L841 539L838 539L835 540L832 541L829 541L826 540L823 539L820 539L817 539L814 540L811 542L808 542L805 541L802 540L799 540L796 540L793 541L790 543L787 540L784 537L781 535L778 535L775 529L772 526L769 524L766 523L763 523L760 523L757 523L754 518L751 514L748 512L745 511L742 511L739 511ZM1702 599L1705 601L1708 601L1711 602L1714 602L1717 602L1720 602L1723 602L1726 602L1729 602L1732 601L1735 600L1738 600L1741 600L1744 600L1747 600L1750 601L1750 603L1747 606L1744 609L1741 612L1738 613L1735 616L1732 620L1729 626L1726 629L1723 635L1720 639L1717 642L1714 628L1711 615L1708 609L1705 604L1702 601ZM1823 600L1826 599L1829 599L1832 600L1835 601L1838 603L1841 603L1844 604L1847 604L1850 604L1853 603L1856 601L1859 600L1862 600L1865 600L1867 600L1867 601L1865 604L1862 610L1859 613L1856 618L1853 621L1850 622L1847 624L1844 626L1841 622L1838 616L1835 613L1832 608L1829 604L1826 602L1823 601ZM1896 602L1899 602L1902 602L1905 600L1908 601L1911 601L1914 601L1917 601L1920 601L1920 602L1917 602L1914 602L1911 604L1908 604L1905 606L1902 609L1899 608L1896 604ZM1967 605L1970 605L1973 604L1976 602L1979 601L1982 601L1985 601L1988 599L1991 600L1994 601L1997 603L2000 603L2003 603L2006 603L2009 601L2012 602L2015 602L2018 602L2021 602L2024 600L2027 600L2030 600L2033 600L2036 600L2039 602L2042 603L2045 603L2048 604L2051 604L2054 604L2057 603L2060 601L2063 601L2066 601L2069 601L2072 600L2074 601L2074 603L2072 606L2069 606L2066 608L2063 610L2060 611L2057 609L2054 608L2051 608L2048 608L2045 610L2042 612L2039 613L2036 613L2033 615L2030 618L2027 620L2024 617L2021 615L2018 615L2015 615L2012 614L2009 614L2006 614L2003 616L2000 619L1997 628L1994 640L1991 656L1988 669L1985 673L1982 681L1979 664L1976 644L1973 626L1970 614L1967 609ZM2098 605L2101 605L2102 605L2102 626L2101 625L2098 609Z" fill="#ff0000" stroke="#ff0000" stroke-width="1.5"/>
<path d="M723 488l6-28l0 49l1-4l2-24l3 2l0 7l0 4l0 7l0 8l1-47l0 1l0 7l0 35l0 1l0 4l0 3l1-53l0 8l0 3l0 10l0 34l1-54l1-4l0 63l1-65l0 17l0 42l1-54l0 48l0 3l1-55l0 32l1 20l1-34l0 8l0 21l0 12l1-62l0 29l1-26l0 14l0 3l1-22l0 6l0 47l1-39l1-4l0 12l0 35l0 7l2 1l0 4l2 2l3-53l1 9l2-12l1 4l0 23l0 34l1-57l0 21l1-17l0 1l0 3l1 1l0 2l0 46l2-27l0 4l0 19l0 4l1-44l0 44l1-44l0 23l2-7l1-7l1 38l2 1l3-9l1-22l0 37l1-30l0 21l0 8l1-38l0 1l0 36l1-30l0 22l1-28l0 37l1-37l0 33l1-36l0 41l0 5l1-46l1 0l0 7l0 38l1-42l0 46l0 1l1-9l1-30l0 27l1-32l0 5l0 37l1-4l0 6l1 1l0 2l5-7l0 13l2-47l0 1l1 29l1-38l0 43l1-36l1-11l0 47l1-40l1-1l2-6l1 2l0 40l0 4l1 9l1-61l1-1l0 2l0 54l2-57l0 45l0 12l1-57l1-1l3 4l1-5l0 55l0 12l1-64l0 50l1-53l0 52l1-2l1-58l0 11l0 53l1-65l0 57l1-40l1 40l2-59l0 70l1-11l0 11l1-72l0 1l1-2l0 6l0 67l1-75l0 6l1-7l0 1l0 74l1-77l0 3l1 74l1-74l1 7l1 55l0 11l0 12l1-18l1-2l1-60l0 63l1-59l0 62l1-65l0 1l2 60l0 6l1-1l1-65l0 61l1 0l0 6l1-55l1 0l0 55l0 1l1-4l1-56l1-3l1 11l0 44l1-53l1 61l0 3l2-60l0 1l1 56l1-61l0 53l0 6l0 3l0 2l2-2l3-50l0 50l1-57l0 9l1 41l1-53l1 2l0 56l0 5l1-1l1-59l0 60l1-60l0 2l0 54l0 3l1-9l0 5l1-71l0 77l1 1l1-57l0 5l0 43l1-39l1 56l2-67l1 61l1 1l1-62l0 4l0 1l3-1l1 9l0 51l2-47l1 42l1-52l1 1l0 51l1-52l0 52l1-8l1-42l0 6l1-7l0 43l2 0l1-39l0 9l1-12l1 1l1-1l2 1l0 38l1 14l1-41l2-17l1 12l3-1l1-1l0 49l2-9l0 20l1-11l1 0l2-39l0 30l0 5l1-51l0 54l2-50l0 7l1 2l1-15l0 12l0 34l4 15l0 2l2-2l1-57l0 3l1-1l0 45l1-50l0 50l0 2l1-45l0 45l0 5l0 4l2-52l1 42l0 2l0 8l2-57l0 56l1-9l2 12l1-64l1 61l1-65l0 51l2 6l0 7l3-64l0 49l1-50l0 48l0 12l1-62l0 1l1-2l0 50l0 3l0 6l1-59l1-5l1 55l1-55l0 67l2-5l1-62l0 61l1-62l0 5l0 1l0 49l1-44l0 50l1-55l1-1l0 53l0 2l1-52l1 2l1 49l1-56l1-3l0 59l1-1l1-59l0 4l2 4l2-1l1 5l2 2l2-4l0 8l3-10l1 1l1 0l1 0l4-12l2 72l3-11l0 12l1-71l0 7l0 3l1-22l0 21l3-14l0 3l1-7l3-2l0 7l0 4l0 59l1-68l0 70l5-65l2 0l1 6l2-5l2 62l2-56l0 4l1 53l1-52l1-11l1 15l0 46l1-52l0 52l0 4l1-55l0 10l2-3l1-16l0 11l5-2l3 5l1 3l0 5l1-1l1-10l0 10l0 42l1-1l1 0l1-57l0 9l1-1l0 7l0 45l1-50l0 1l0 44l1 5l1-56l0 3l0 2l0 7l0 42l2-50l0 5l1-10l0 53l1-51l0 13l1-25l1 15l1 5l3-7l0 6l2-9l1 2l1 11l1-10l3 0l0 2l1 5l2-2l1-8l1 3l0 1l1 6l1-4l0 7l1-13l1-1l1 2l3-8l2 10l2 0l1 4l0 4l1-6l2-2l1 0l3 3l2-1l2 0l0 2l0 3l3 7l2-10l0 10l0 1l4-9l1 0l0 11l2-10l1 3l3-2l0 2l1 11l2-1l5-9l2-2l1-9l0 8l0 2l2-3l3 4l1-18l2 19l0 2l1-7l1 5l1-4l1-9l2-2l0 11l1-2l1 1l1-16l1 13l2-19l0 11l1 3l3-8l1 7l0 2l1-8l2 9l1 0l1-1l0 6l1-1l2-5l0 4l2-3l1 1l0 7l0 3l2-4l1 5l1-15l0 10l3-5l1-18l4 32l1-8l2 6l2-3l1-1l1 2l1-1l1 0l2 5l7-8l0 7l2-11l1 4l0 11l1-11l0 6l3-13l1 1l0 4l1-22l0 14l0 2l1-2l2 1l1-9l0 2l0 2l1-4l0 2l2 1l0 1l1-5l0 10l1-11l1-2l0 6l1-10l1-1l0 2l0 15l1-24l0 6l0 5l1-10l0 3l0 8l0 8l1-33l0 15l1 0l0 1l0 4l2 1l0 59l1-57l0 1l6 2l0 3l2-2l0 55l2-52l3 53l0 7l1-60l0 8l0 50l2 2l1-58l0 57l1 2l3-59l0 10l1 45l1-7l1 1l0 5l1-56l2 11l1-14l5 61l1-66l0 2l0 1l1 0l0 2l1-5l0 9l0 62l1-2l0 1l0 1l1-73l0 12l0 53l1-71l0 79l2-84l0 1l0 2l0 19l1-24l2-1l1 0l0 1l0 17l1-37l0 4l0 13l1 12l1 4l0 67l1-76l0 67l0 9l0 1l1-74l2 2l0 71l1-76l0 5l1 2l0 69l0 1l1-7l1-61l0 66l1-10l1 11l1-61l2 59l1-7l1 1l1-52l0 57l1-60l0 2l1-11l0 71l2-67l0 63l2-67l0 1l0 70l2-72l0 8l0 4l0 60l1-73l0 2l0 72l4-77l0 14l2-25l0 16l0 12l1-13l0 1l1 4l1 2l0 5l1-5l1-1l0 2l0 67l0 9l1-15l0 3l1-63l1 62l1 0l2-50l1-10l0 58l2-58l1-8l2 8l0 56l1-54l0 11l1-7l1-4l0 56l1-55l0 54l3-50l1-1l1 4l2-6l1 53l1-51l0 51l0 1l2-50l0 5l1 43l1-56l0 1l2 57l1-63l0 57l1-63l0 8l0 63l2-71l0 70l1-97l0 17l0 24l1 45l1-44l0 52l0 1l2-70l0 68l1-81l0 1l0 80l1 1l1-83l1 76l0 4l0 3l1-68l0 62l1-79l0 9l1-15l0 10l1-6l1 0l0 82l1-72l0 79l1-2l0 1l1-86l0 84l0 3l0 1l1 0l1-88l1 81l1-81l1 7l1 6l1-13l1-2l1 1l0 7l1-4l1 3l1-4l0 6l0 15l1-13l0 12l1-9l0 3l1 0l1 11l1-8l0 8l1-8l2-4l0 3l0 2l1-1l2 3l1-2l2-2l1 3l0 65l1 1l2-74l0 1l0 5l0 4l0 62l1-73l0 3l3-2l0 72l0 2l1-82l0 1l1 0l0 77l2-66l0 62l3-68l2-1l4 2l1-25l2 93l1-5l1-87l0 19l0 7l0 3l2-12l0 77l0 1l1-84l0 4l1-3l0 8l0 2l0 73l1-90l0 1l0 3l0 12l0 74l1 3l1-100l1 0l0 89l1-90l0 1l0 24l0 70l0 6l1-106l0 2l0 25l0 81l1-83l1-24l0 11l0 1l0 4l1-22l1-1l0 1l0 3l0 99l1-103l0 1l0 1l0 8l0 102l1-114l0 5l0 11l2-4l0 100l1 3l1-6l2-99l0 2l0 1l0 5l1 98l2-94l1-20l0 107l1-97l1 1l0 103l2-104l0 105l1-7l0 7l0 6l1-1l0 4l1-112l0 103l1-112l0 10l0 100l1 1l1 1l1-101l0 98l0 3l1-102l1 1l0 100l1-102l0 7l4 96l1-107l0 6l0 101l1-108l0 2l0 106l1-107l0 104l0 1l0 3l1-97l0 94l1-5l1-102l1 0l0 9l1 0l0 99l0 18l1-127l1 3l2-14l1 12l0 116l2-123l0 3l0 1l0 5l2-12l0 2l0 5l0 121l1-131l0 124l0 7l1-130l0 130l1-131l0 1l0 1l0 1l0 127l1-4l0 3l1-115l1 107l1-117l0 10l0 114l1-125l0 6l0 6l0 111l0 1l3-123l0 1l0 2l1-4l0 126l1-117l0 117l1-127l0 5l0 122l1-123l0 115l0 1l1-114l0 1l1 1l0 9l0 109l2-118l1 10l0 104l1-123l0 13l0 116l1 1l1-115l0 115l1-3l0 6l1-121l0 120l1-5l2-116l2 4l1 115l1-121l0 11l1-6l0 10l0 103l1-134l0 134l0 5l0 1l1-5l1-106l0 111l0 1l1-120l1 123l2-108l0 102l3-99l0 103l1-115l0 5l0 109l1-119l0 11l1-6l1 1l1 14l1-10l1 110l2-109l2 7l1 103l2-104l0 11l1-10l0 1l0 10l0 9l0 85l1-105l0 2l0 13l0 1l0 88l1-79l0 80l1-103l1 20l0 11l0 1l1-11l0 17l2-28l0 1l0 17l1-6l0 2l0 7l1-22l0 2l0 11l0 23l1-33l0 2l0 3l0 1l0 3l0 18l1-17l0 10l1-36l0 30l0 4l2-27l0 30l0 17l1-13l0 6l1 4l0 1l1-9l1 0l2 2l0 3l1 0l0 1l1 0l0 64l1-61l0 10l1 50l1-42l0 39l1-54l1 3l1 2l1 1l0 11l0 39l2-50l0 10l0 35l0 7l3-41l0 34l0 9l0 4l1-52l0 1l0 49l1-9l1-35l0 44l2 1l0 1l1-52l0 43l1 10l1-52l0 53l2-1l0 1l1-54l1 2l1 58l1-56l1-9l0 8l0 45l0 2l1 10l0 1l2-5l0 4l1-56l1 60l2 8l1-13l0 6l0 3l1 0l0 1l0 3l1-19l0 18l1-2l0 2l3-9l0 13l1-9l0 11l1 1l0 1l1-16l0 2l2 8l0 2l3-8l0 9l1 1l1-1l1-10l1 9l1-2l3-2l3-8l0 9l1-12l1 6l1-1l2-1l1 0l1-1l1 0l4 1l1-2l0 2l2-60l0 55l1-57l0 1l0 5l1-8l0 2l0 55l1-57l0 1l0 4l0 56l0 13l0 1l1-78l0 3l0 72l0 3l0 1l1-93l0 79l1-66l0 9l1-11l0 83l1-83l0 1l0 2l0 10l0 70l1-91l0 9l0 3l0 80l1-80l0 1l0 1l2 68l1 8l0 10l1-38l1-52l0 48l0 38l1-92l0 92l0 13l1-61l1-1l0 40l0 10l1-47l1 48l1-45l0 1l0 2l0 43l0 1l1-45l0 3l0 26l0 5l0 7l2-50l0 15l0 24l1-1l1 18l1-34l0 17l1-41l0 25l0 20l1-20l0 2l1 1l0 32l1-28l2 20l1-4l0 4l0 1l0 7l1-8l1-2l2-5l0 7l1 1l0 2l1 0l0 2l1-9l0 6l0 3l1-2l1 4l1-2l0 2l1-4l0 3l1-4l0 2l0 1l1 0l1-3l0 2l1-3l0 2l1-4l0 4l1-4l0 4l0 1l1-5l0 1l0 1l3 0l0 1l0 2l1-2l0 1l2-2l1 1l9-1l0 6l1-7l1 1l1 0l0 1l1 0l0 2l1-2l1 0l1-1l0 1l1 4l1-4l1 0l0 3l0 1l1-2l0 3l1-5l0 5l1-1l1-2l0 2l0 1l1 0l0 6l1-16l0 1l1-2l1 3l0 13l0 1l1-14l0 15l2-11l0 13l1-9l0 10l0 2l1-14l0 1l0 13l0 1l2-12l0 24l1-31l0 4l0 1l0 7l0 13l0 5l0 15l1-45l0 36l1-11l1-23l0 16l0 9l1-22l0 21l0 21l0 2l0 1l1-1l0 3l2-51l0 20l0 18l0 3l0 9l0 2l1-52l0 24l0 6l0 34l1-65l1 1l0 10l0 39l0 1l1-24l0 22l0 12l1-15l1-45l0 41l1-41l2 24l1-25l0 11l1 9l0 5l1-15l0 9l0 8l1-8l0 3l1-8l0 16l1-31l0 31l1-16l0 6l1-22l0 26l0 6l1-14l2-11l1-7l0 21l2-2l0 2l3-15l1-5l0 5l0 10l0 3l1-1l1-9l0 5l2 0l1-2l0 1l1-1l2-1l1 4l1-5l1-1l1 3l4 4l8-9l1 0l1 1l1 0l5-1l2-1l0 1l1 0l0 1l3 0l1-1l1 1l0 1l3-1l1 0l0 1l1-2l0 2l1 0l0 1l1 1l2 5l1-8l1-1l2-1l0 6l1-8l2 2l1 0l1-1l0 1l1 1l1 0l1-7l0 5l1 1l1-4l0 2l1-7l1 9l0 1l1-1l1-1l1 18l1-16l0 11l1-13l0 2l2-3l0 1l1 0l0 5l1-8l1 0l0 1l0 6l1-9l0 1l1-3l0 2l0 1l3 0l2 1l1 4l1-5l0 17l2-19l0 4l0 16l1 1l1 13l1-34l0 2l1 24l3-7l0 9l0 5l1 5l0 1l1-7l0 4l0 1l0 1l0 2l0 16l1-36l0 19l0 2l1-36l0 31l0 2l2-12l0 3l0 6l0 6l1-34l0 14l0 3l0 10l1-28l0 21l0 8l2-20l0 20l1-2l1-22l1-6l1-18l0 42l1-25l1-1l0 6l0 20l1-4l1-24l0 1l0 26l1-28l0 27l1-17l0 15l0 1l1-25l0 1l0 21l0 19l1-40l0 10l0 14l1-23l1 10l0 7l2-19l0 3l0 16l2-15l0 1l0 11l1-14l2 7l0 3l0 22l1-27l1-25l0 18l0 1l1 0l1 1l1 1l1-1l0 3l1-3l2 3l1-1l0 1l1-3l0 2l0 1l1-3l3-1l1 1l0 1l1 1l0 1l1-3l1 2l2-1l0 3l0 1l0 1l1-4l0 3l2 1l0 6l1-7l0 24l1-23l1-9l0 6l0 2l2-3l0 12l0 4l2-17l1 15l0 1l0 1l1-12l1-4l2 1l1-7l0 1l0 1l0 1l0 1l0 10l0 2l1-15l0 15l1-10l0 16l5-9l1-7l0 8l1-5l0 6l2-2l1-9l0 2l1-3l0 7l0 1l0 1l1-8l0 2l0 6l1-9l0 2l1 1l0 5l2-5l0 4l0 4l1-1l0 2l0 1l1-11l0 9l2-6l0 3l1-6l0 5l2-5l1 2l0 2l0 1l1-3l0 2l0 1l1-4l0 1l0 2l0 9l1-13l0 1l1 0l0 5l1-7l0 2l1-3l1-1l0 6l0 2l1-8l1 0l0 1l0 1l0 1l1-2l1 3l1 5l1 0l0 1l1-3l0 1l1 0l1-2l0 1l1-4l0 1l0 2l2-4l1-10l0 10l1 1l0 9l1-12l0 1l0 1l0 2l1-4l0 1l0 8l1-8l1-1l0 1l1-1l0 5l0 1l1-6l0 1l1 1l0 4l0 2l0 13l1-15l0 3l1 3l1 0l1 3l0 4l3-1l2-8l0 14l0 1l0 6l0 2l1-28l0 23l0 4l0 12l0 30l1-66l0 28l0 4l0 6l1-40l1 34l0 3l0 3l0 7l0 5l1-56l0 5l0 19l0 22l0 8l1-45l0 14l0 13l0 11l0 2l0 8l0 2l0 11l1-42l0 37l0 11l1-74l0 15l0 9l0 12l0 3l0 3l0 25l0 2l0 8l0 6l1-85l0 27l0 20l0 36l0 1l1-50l0 5l0 8l0 15l0 19l1-78l0 42l0 42l0 1l1-21l0 20l0 1l1-87l0 2l0 73l0 8l0 5l1-90l0 61l0 23l0 3l0 7l0 3l1-91l0 59l0 1l0 24l0 8l1-106l1 6l0 10l0 78l0 5l0 1l0 1l0 3l1-86l0 75l0 2l0 3l1-93l0 2l0 87l1-43l0 20l0 2l0 5l0 10l1-29l1-51l0 7l0 23l0 26l1-56l0 4l0 69l0 2l1-30l0 9l1-51l0 8l0 42l0 19l0 1l0 1l1-36l0 16l1-5l1-48l0 26l0 18l0 3l0 5l1-46l0 32l0 6l0 39l0 1l0 3l0 2l0 4l0 21l1-96l0 8l0 8l0 9l1-14l0 2l0 30l1-59l0 1l0 2l0 10l0 17l1-5l1-1l2-3l2-30l0 7l0 16l1-17l0 16l0 5l1-21l0 22l0 42l2-56l0 6l0 6l0 22l1-20l1-32l0 31l2 1l1-15l2 3l1-2l0 18l2-17l1 16l1 1l1-9l1 4l1 6l0 4l2-31l0 22l0 11l1-19l0 18l1-4l0 4l1-3l0 6l1-15l0 5l1-1l2-25l0 1l0 7l0 6l1-14l0 1l0 21l2-24l0 15l1-12l0 13l0 7l2-18l1 16l2 0l1 1l2-15l0 12l2-5l5 5l2 1l1-11l0 1l2 6l1-15l0 6l2-4l1 1l0 14l0 3l1-13l0 11l1-8l1-2l1 11l2-17l0 13l1-13l1-1l0 7l0 7l0 1l1 0l1-15l0 12l1-7l1 9l1-2l0 3l1-7l0 4l1-10l0 6l1-2l1-3l0 2l1-3l0 1l0 2l1-2l0 2l2-2l0 1l1-2l1 1l1 2l1-3l0 1l0 1l0 1l1-1l2-4l0 2l0 20l0 13l1-34l0 1l0 5l0 1l2-6l0 2l0 7l1 3l0 1l1 5l0 6l1 0l0 1l0 1l0 2l1-16l2 9l0 13l1-14l0 1l0 1l0 12l1-30l0 33l0 2l0 10l1-46l0 31l0 3l0 3l0 2l0 3l1-4l0 3l0 1l0 2l1-44l0 18l0 2l0 3l0 1l0 2l0 4l0 3l0 2l0 5l0 1l0 2l1-53l0 9l0 10l0 9l0 2l0 1l0 2l0 6l0 1l0 1l0 2l0 1l0 1l0 3l2 13l1-63l0 48l1-12l0 9l1-35l1-6l0 40l0 7l0 7l-1371-210l247 134l427-175l30 3l54-3l-84 17l84 3l-149 25l10-1l22 6l-91 9l-81 2l806 195l43-2l-161-24l17-17l83 102" marker-start="url(#mrd)" marker-mid="url(#mrd)" marker-end="url(#mrd)"/>
</g>
<g fill="none" stroke="none">
<path d="M931 503L934 500L937 496L940 497L943 497L946 497L949 497L952 497L955 498L958 498L961 498L964 497L967 496L970 498L973 498L976 499L979 499L982 499L985 497L988 498L991 499L994 502L997 504L1000 504L1003 504L1006 505L1009 505L1012 505L1015 503L1018 502L1021 502L1024 502L1027 503L1030 503L1033 503L1036 504L1039 506L1042 506L1045 506L1048 505L1051 505L1054 505L1057 505L1060 505L1063 503L1066 502L1069 506L1072 508L1075 509L1078 509L1081 509L1084 508L1087 507L1090 507L1093 507L1096 508L1099 508L1102 508L1105 509L1108 510L1111 510L1114 510L1117 510L1120 513L1123 515L1126 516L1129 517L1132 517L1135 517L1138 516L1141 514L1144 514L1147 516L1150 518L1153 519L1156 522L1159 523L1162 523L1165 523L1168 522L1171 521L1174 520L1177 520L1180 520L1183 519L1186 518L1189 516L1192 515L1195 516L1198 516L1201 521L1204 524L1207 525L1210 525L1213 525L1216 524L1219 527L1222 532L1225 535L1228 536L1231 538L1234 541L1237 544L1240 546L1243 548L1246 551L1249 552L1252 552L1255 552L1258 551L1261 550L1264 550L1267 550L1270 550L1273 548L1276 547L1279 548L1282 550L1285 551L1288 551L1291 551L1294 549L1297 549L1300 549L1303 547L1306 544L1309 544L1312 546L1315 546L1318 546L1321 545L1324 545L1327 546L1330 546L1333 546L1336 545L1339 545L1342 544L1345 543L1348 542L1351 541L1354 541L1357 542L1360 544L1363 544L1366 544L1369 544L1372 542L1375 542L1378 541L1381 541L1384 541L1387 541L1390 540L1393 538L1396 537L1399 537L1402 539L1405 540L1408 543L1411 545L1414 546L1417 547L1420 547L1423 547L1426 545L1429 543L1432 544L1435 547L1438 548L1441 550L1444 552L1447 553L1450 553L1453 553L1456 553L1459 554L1462 554L1465 556L1468 557L1471 557L1474 557L1477 557L1480 559L1483 559L1486 560L1489 563L1492 565L1495 565L1498 565L1501 565L1504 565L1507 565L1510 564L1513 566L1516 567L1519 567L1522 567L1525 567L1528 567L1531 569L1534 571L1537 571L1540 571L1543 571L1546 571L1549 571L1552 571L1555 571L1558 570L1561 571L1564 574L1567 576L1570 577L1573 577L1576 577L1579 577L1582 577L1585 577L1588 576L1591 575L1594 576L1597 579L1600 580L1603 580L1606 580L1609 579L1612 581L1615 582L1618 584L1621 585L1624 585L1627 585L1630 584L1633 581L1636 580L1639 577L1642 575L1645 571L1648 567L1651 566L1654 566L1657 565L1660 563L1663 562L1666 561L1669 562L1672 562L1675 562L1678 561L1681 561L1684 561L1687 564L1690 565L1693 566L1696 568L1699 570L1702 571L1705 571L1708 571L1711 571L1714 569L1717 568L1720 569L1723 571L1726 572L1729 573L1732 575L1735 575L1738 575L1741 575L1744 573L1747 572L1750 572L1753 573L1756 573L1759 573L1762 572L1765 570L1768 568L1771 569L1774 571L1777 571L1780 571L1783 571L1786 570L1789 570L1792 570L1795 570L1798 568L1801 566L1804 566L1807 566L1810 566L1813 566L1816 566L1819 566L1822 567L1825 567L1828 567L1831 567L1834 565L1837 564L1840 563L1843 565L1846 568L1849 571L1852 574L1855 576L1858 577L1861 577L1864 577L1867 577L1870 577L1873 579L1876 579L1879 580L1882 580L1885 582L1888 583L1891 583L1894 583L1897 581L1900 580L1903 580L1906 582L1909 583L1912 583L1915 583L1918 581L1921 578L1924 573L1927 573L1930 572L1933 572L1936 573L1939 574L1942 575L1945 575L1948 575L1951 574L1954 571L1957 569L1960 569L1963 570L1966 570L1969 571L1972 574L1975 576L1978 577L1981 580L1984 582L1987 582L1990 584L1993 584L1996 584L1999 583L2002 584L2005 586L2008 587L2011 588L2014 588L2017 588L2020 589L2023 589L2026 589L2029 589L2032 589L2035 588L2038 589L2041 590L2044 590L2047 590L2050 589L2053 586L2056 588L2059 591L2062 592L2065 592L2068 592L2071 591L2074 590L2077 590L2080 590L2083 589L2086 587L2087 586L2087 587L2086 588L2083 592L2080 593L2077 593L2074 595L2071 598L2068 601L2065 601L2062 600L2059 600L2056 600L2053 602L2050 605L2047 608L2044 610L2041 612L2038 612L2035 612L2032 614L2029 615L2026 615L2023 615L2020 616L2017 614L2014 609L2011 606L2008 604L2005 602L2002 599L1999 598L1996 598L1993 596L1990 593L1987 591L1984 591L1981 589L1978 588L1975 588L1972 588L1969 589L1966 589L1963 589L1960 589L1957 589L1954 591L1951 592L1948 594L1945 597L1942 599L1939 602L1936 605L1933 604L1930 602L1927 601L1924 599L1921 599L1918 599L1915 596L1912 594L1909 593L1906 593L1903 593L1900 594L1897 597L1894 601L1891 603L1888 603L1885 602L1882 598L1879 595L1876 593L1873 593L1870 591L1867 589L1864 586L1861 584L1858 583L1855 582L1852 582L1849 582L1846 582L1843 584L1840 586L1837 587L1834 589L1831 592L1828 594L1825 594L1822 596L1819 597L1816 598L1813 600L1810 604L1807 606L1804 606L1801 608L1798 610L1795 611L1792 611L1789 611L1786 611L1783 611L1780 611L1777 610L1774 610L1771 610L1768 611L1765 613L1762 615L1759 616L1756 614L1753 613L1750 610L1747 608L1744 605L1741 604L1738 604L1735 602L1732 602L1729 600L1726 599L1723 597L1720 596L1717 596L1714 596L1711 597L1708 597L1705 598L1702 599L1699 598L1696 597L1693 595L1690 595L1687 595L1684 595L1681 592L1678 591L1675 589L1672 587L1669 586L1666 586L1663 586L1660 587L1657 586L1654 586L1651 586L1648 587L1645 590L1642 591L1639 593L1636 594L1633 596L1630 599L1627 603L1624 602L1621 600L1618 597L1615 595L1612 595L1609 594L1606 591L1603 589L1600 589L1597 589L1594 589L1591 591L1588 593L1585 593L1582 591L1579 589L1576 586L1573 584L1570 581L1567 580L1564 580L1561 580L1558 579L1555 579L1552 579L1549 580L1546 580L1543 582L1540 585L1537 586L1534 586L1531 584L1528 581L1525 579L1522 577L1519 574L1516 573L1513 573L1510 572L1507 569L1504 567L1501 567L1498 567L1495 568L1492 568L1489 567L1486 567L1483 567L1480 568L1477 568L1474 569L1471 571L1468 573L1465 573L1462 573L1459 574L1456 574L1453 574L1450 571L1447 568L1444 564L1441 562L1438 559L1435 557L1432 556L1429 556L1426 556L1423 556L1420 556L1417 557L1414 557L1411 557L1408 557L1405 557L1402 559L1399 560L1396 561L1393 563L1390 567L1387 573L1384 575L1381 576L1378 576L1375 577L1372 579L1369 583L1366 580L1363 578L1360 578L1357 578L1354 576L1351 574L1348 573L1345 573L1342 573L1339 574L1336 574L1333 574L1330 574L1327 575L1324 576L1321 576L1318 577L1315 575L1312 574L1309 572L1306 571L1303 571L1300 571L1297 571L1294 570L1291 570L1288 570L1285 570L1282 570L1279 570L1276 570L1273 570L1270 571L1267 574L1264 576L1261 577L1258 576L1255 574L1252 572L1249 572L1246 572L1243 572L1240 574L1237 576L1234 578L1231 580L1228 581L1225 578L1222 574L1219 571L1216 570L1213 568L1210 566L1207 564L1204 562L1201 562L1198 562L1195 563L1192 565L1189 569L1186 571L1183 573L1180 572L1177 569L1174 568L1171 568L1168 568L1165 569L1162 569L1159 569L1156 569L1153 569L1150 570L1147 570L1144 571L1141 571L1138 571L1135 571L1132 569L1129 567L1126 566L1123 566L1120 566L1117 566L1114 566L1111 566L1108 568L1105 567L1102 564L1099 562L1096 561L1093 561L1090 561L1087 562L1084 562L1081 560L1078 557L1075 556L1072 556L1069 556L1066 557L1063 557L1060 557L1057 557L1054 557L1051 554L1048 553L1045 550L1042 548L1039 548L1036 548L1033 549L1030 551L1027 550L1024 549L1021 547L1018 547L1015 547L1012 548L1009 550L1006 550L1003 550L1000 550L997 550L994 550L991 550L988 551L985 551L982 553L979 554L976 555L973 553L970 552L967 549L964 548L961 548L958 547L955 546L952 545L949 539L946 536L943 534L940 534L937 534L934 532L931 528Z" fill="#0000f0" stroke="#0000f0" stroke-width="1.5"/>
<path d="M923 532l3-6l1-22l0 3l0 7l0 11l0 3l0 3l1-22l1-7l2 3l0 27l1-23l0 26l1-35l0 13l1-18l0 44l1-46l0 15l0 29l0 2l2-32l0 9l1-17l0 6l0 33l1-48l1 3l1 5l0 38l1-3l1-6l1-33l1-1l0 2l1-1l0 46l2-6l0 8l1-12l1 0l1 4l0 15l1-58l2 59l2-56l0 48l2 10l1-59l0 47l1-47l0 5l0 52l3-57l0 69l1-70l0 59l1-58l0 52l0 14l1-57l4 49l1-6l0 5l1 7l2-62l0 7l1-8l0 57l1 7l0 1l2-1l1-3l0 2l1-58l0 58l3 0l1-76l0 15l2-8l0 4l0 6l1-7l0 13l1-17l0 5l0 7l1-7l0 59l0 2l0 1l1-60l0 1l0 6l0 5l0 48l2-60l1 51l0 1l0 7l0 1l0 5l2-62l0 1l1-1l1 9l0 40l0 4l1 4l1-49l0 50l1 7l1-59l1-4l2 8l0 38l1-42l0 3l0 48l2-53l1 5l0 3l0 42l2-9l1-42l0 1l0 52l1-54l0 6l1 3l0 35l1 6l2-53l1-1l0 9l3-6l0 42l1-41l0 49l0 3l1-4l1 5l1 0l1 0l0 8l1-11l1-50l0 10l0 45l1-55l0 47l1-44l2-3l0 44l0 5l1-45l0 50l2-56l1 1l0 53l3-50l0 44l0 4l2 0l1-4l0 6l2 1l3-7l1-43l0 4l2-5l1 44l1-46l0 2l1 4l0 43l0 3l2-1l0 3l1 2l0 5l1 0l1-54l3-5l0 58l1-2l0 3l1-6l0 3l0 11l1-70l0 63l1-64l0 64l1-65l0 8l2-9l0 2l0 10l0 52l1-63l0 1l0 12l0 51l1-10l0 1l0 8l1 1l0 8l2-15l0 5l1 1l1-10l0 6l1-1l1 5l1-1l2-52l1-5l0 54l0 9l1 6l3-56l1-11l1 0l1 8l1 54l0 2l1-69l0 10l1-4l1 2l0 57l1-61l0 8l2-6l1 3l0 48l2-51l0 59l0 2l2-61l0 61l0 1l0 1l3-70l0 5l0 7l0 5l0 54l0 1l1-67l0 1l0 8l3-7l0 11l0 45l0 12l2-66l0 55l1 10l1-66l0 2l0 55l0 4l2-60l1 53l1 9l1-52l1-12l0 63l2-62l0 70l2-63l0 58l1-5l2-45l0 49l1 0l0 1l1-50l0 46l0 4l1-6l1-4l0 8l1-53l0 57l1-59l1 58l0 2l1-59l0 54l0 5l1 0l1-59l1 4l0 46l0 11l2-63l1 0l1 53l1-54l0 8l0 56l1-65l1 7l1 56l1-62l0 1l0 56l1-59l1 66l1-65l0 56l3-55l0 9l0 44l0 9l1-72l1 8l0 5l0 53l0 2l1-56l0 1l0 4l0 2l0 1l1-8l0 11l0 39l1-48l1 1l1 0l1 0l0 2l0 11l1 38l1 5l1-52l0 7l2-8l0 4l0 6l0 43l0 9l1-56l0 4l0 46l1-55l0 2l0 52l1-56l0 9l0 1l0 37l0 9l1-12l0 5l1-49l0 1l0 4l0 39l2-34l1-11l1-3l1 49l0 9l1-49l1 48l2-4l0 7l1-56l0 55l1-57l2-1l0 55l0 17l1-16l2-48l0 54l1 0l0 2l1-61l0 45l0 5l1-52l0 60l1-1l0 1l1-17l1-47l0 46l0 15l2-64l0 1l0 62l1-3l0 1l0 1l0 9l2-18l1-46l0 3l0 49l1-55l0 52l1-7l1-46l0 47l1-35l0 1l1-19l0 6l0 52l1-3l1-46l0 10l0 32l0 9l2 0l1-46l0 1l0 47l0 5l1-54l0 41l1-40l0 48l2-47l0 3l0 34l0 3l0 9l1-1l1-38l2-1l1-1l0 43l0 2l2-47l0 38l0 9l2 2l1-55l0 5l0 45l1-41l0 35l0 12l1-54l0 10l0 4l0 33l0 11l1-61l0 5l0 51l0 6l1-56l0 56l1-56l0 3l0 47l0 11l2-1l2-10l2-45l0 49l2-47l2 7l0 31l0 11l2-4l1-39l0 4l1-5l0 2l1 36l1-35l0 1l0 11l0 26l1-3l0 1l1-35l3 31l0 2l1 1l3-29l0 27l2-30l0 3l0 8l0 16l1 4l1-19l0 11l1 10l1 2l2-38l0 4l0 35l2-35l0 35l4-28l1 30l3-37l1 22l1 10l1-33l1-1l0 7l1-7l0 27l1-28l1-1l0 6l1-7l0 24l1-23l0 4l0 28l2-29l4 0l0 11l1-1l0 9l0 6l1-22l0 20l2-19l1 5l0 14l2 7l1-23l1 1l2-5l0 26l1-4l0 5l1 0l1-6l0 5l0 4l4-25l0 18l0 3l0 1l2-29l0 25l1 4l1-38l0 37l1-33l1 28l2-28l1 7l2-7l2 2l1 28l0 5l1 3l2 4l1 0l1-40l0 2l2 6l3-3l0 32l1-32l1 28l1-25l1 19l0 3l1 4l1-31l0 33l4-37l0 8l1 2l0 22l2-30l1-3l0 39l1-2l1 1l1-37l2-1l1 31l0 5l0 1l1-36l0 32l1 4l1-10l0 2l0 8l1-36l0 35l1 1l1-11l0 4l1 8l1-36l0 36l0 8l2-41l0 34l1-42l0 50l0 2l1-53l0 1l0 42l1-43l0 4l1 42l1-10l0 8l1-39l0 34l0 7l0 3l1-8l1-34l0 35l1-31l0 36l1-42l1 36l0 5l0 1l1-3l1-2l1-34l0 39l0 4l1-14l1-34l0 45l1-42l0 45l4-12l1-38l0 6l1 5l0 31l2-39l2 44l2-45l0 6l1 32l0 3l1-42l1-25l0 23l0 1l1 29l0 11l0 1l1-10l1-1l1-31l0 2l1-5l0 27l0 9l0 3l0 1l1-35l1 2l1 16l1 11l1-33l0 10l0 14l1 5l1-7l1-1l1 9l1-31l0 1l0 29l2-29l0 8l1-8l1 7l0 11l1-12l1-5l2 5l0 19l2-34l0 29l0 6l1-18l1 14l2-10l1 14l1 0l0 1l1-2l1-15l1 4l0 4l2 6l1-17l0 17l1-16l0 16l0 1l2 0l0 1l1-1l1-3l0 4l3 0l1-12l0 11l0 1l1-12l0 9l1-16l0 18l1-13l0 16l1-19l0 14l0 4l2-18l0 5l0 22l2-27l0 2l1 19l1 3l1 2l2 4l1 1l1-25l0 24l1 0l1-10l2 14l1-7l0 11l1-3l1-36l0 33l0 2l1-28l2 18l2 10l1-27l0 24l1-18l0 3l1-7l2 25l3-1l1-10l2-11l0 5l0 17l0 1l1-25l0 18l0 1l0 4l1 3l1-36l0 13l2-3l0 20l2-23l1 17l1-13l0 1l4-1l3 2l0 4l1-2l1 12l1-12l0 13l2-8l0 9l0 9l1-21l0 1l2 12l0 1l1-14l0 14l3-3l1-2l1-9l2 1l1 8l0 2l2 2l4-7l1-8l1-1l0 14l3 6l1-15l2 0l0 14l1-7l0 9l0 1l0 3l1-7l0 4l4-16l2-1l1 22l0 1l1 0l4-21l2 2l0 22l2-16l1 17l2-2l0 2l0 2l1-23l0 22l0 3l1-14l0 14l1-11l0 7l0 4l1-27l2 20l1-2l1-8l1 7l1-16l0 1l0 12l0 4l1-14l1-1l0 13l1 0l1-15l0 1l0 14l2-19l0 12l0 3l1-11l0 15l1-9l0 23l1-28l0 13l0 1l1-18l1 1l1 18l1-19l0 20l3-16l0 10l1-10l0 15l0 1l1 21l1-28l2 7l0 2l1-14l2-5l1 21l0 4l2-20l1 17l0 2l1-2l0 4l1-20l0 2l0 3l0 7l2 8l1-11l0 8l0 4l1-16l0 5l0 8l0 5l2-24l1 0l0 20l1-21l0 26l3 1l1-2l1-9l1 2l0 3l1-22l0 13l0 10l1-21l0 12l0 6l1-19l1 0l2 2l0 18l2 0l1-15l1 2l1 14l0 1l1-16l1-2l0 21l1-21l0 14l0 3l2-13l1 4l3 15l1-20l0 13l1-14l0 21l0 1l1-22l0 1l1 0l0 21l1 10l1-12l1 5l1-23l1 4l0 8l1-11l0 3l0 1l0 21l0 4l1-28l0 11l1 15l1-19l0 9l1-8l0 18l0 2l0 1l1 3l1-26l0 19l1-1l1-27l0 13l1-13l0 12l1 11l0 3l1-7l0 1l2 2l1-37l0 14l0 14l0 21l2-16l1-21l1 21l1-27l0 18l0 1l1-19l0 3l1-6l0 23l0 5l0 1l2 0l1-32l0 18l3-20l1 9l0 11l0 1l0 9l3-20l0 17l1-20l1 17l1-24l0 18l0 2l0 6l1-19l0 1l0 14l1-24l1 24l0 4l1-28l0 33l2-33l0 33l1-32l0 21l1-23l1-4l0 1l0 1l1-2l0 7l1-4l0 25l1-24l0 1l0 27l0 2l1-31l0 1l2-1l0 10l0 24l1-4l1-29l2 36l2-3l1 3l0 1l2-29l0 27l0 2l2 2l1-39l0 41l0 1l2-11l1-32l0 2l0 6l0 2l2-1l1-5l1 5l0 30l1-29l0 32l1-39l0 2l1 0l0 1l0 7l0 29l1-31l0 1l1 3l1-9l1 5l0 2l1 30l1 1l1-2l0 2l1-35l1 35l2-2l1-23l2 24l2 1l2-36l0 2l1-1l0 1l1 33l0 4l1-42l0 1l1-1l2 0l1 0l0 2l0 35l2-30l0 31l1-6l0 5l1-26l0 1l0 17l0 4l1-21l1-7l0 1l0 35l1 0l1-35l0 23l1-22l0 35l2-37l1 9l0 28l1-30l0 20l0 1l0 6l1-32l0 2l0 35l1-32l0 7l0 14l0 8l1-8l0 5l0 6l1-36l1 26l0 12l2-12l0 10l1-36l1 38l1-37l2-3l0 11l1 31l1-43l1 8l3 38l1-5l1-41l0 1l1 0l1 11l1 26l1-31l0 4l1-3l0 43l2-49l1 0l0 45l0 8l1-51l0 48l0 3l1-52l1-2l1 42l1 10l2-4l0 1l2-48l1-4l0 7l1 42l2-46l0 37l0 8l1-48l0 5l0 42l2 1l5 4l1-7l1-38l0 42l1-47l2 6l1-6l0 39l0 11l1-8l1 4l2-48l0 6l0 42l1-37l0 38l1-48l1 0l2 0l0 3l1-5l0 66l1-16l1-53l0 61l1-62l0 47l1-48l0 49l1-36l1-11l0 43l0 8l1-51l0 6l0 35l0 9l2-49l1 46l0 1l1-4l1-43l0 36l0 10l1-48l2 3l0 35l2-36l0 8l0 31l1-37l0 5l0 32l0 2l0 3l1-45l0 35l0 7l0 1l2-4l0 1l1-43l0 1l0 41l2-29l1 20l1-29l0 27l1 10l1 0l2-36l1 0l0 3l0 6l1 0l0 13l0 11l0 1l3 0l1-37l0 35l2-34l0 10l1 0l0 15l0 1l2-28l0 27l1-26l0 5l0 4l1 11l1 9l1-28l0 22l2 0l0 6l2-2l1 4l1-14l0 8l2-22l0 18l0 5l1-9l1-11l0 13l1-10l0 16l1-1l2-2l0 4l2-3l0 3l1 1l1-13l0 2l2 11l1 1l1 1l1-16l1-1l1 11l2 0l1-10l0 7l0 16l1-23l0 8l0 1l0 3l1-10l0 10l0 3l0 7l0 1l2-14l0 12l1 2l1-22l4 27l0 2l1-10l0 9l1-5l1 7l2-29l2 2l0 1l2 9l6 24l1-19l0 13l1-36l0 8l1-1l0 4l0 14l1-16l0 25l1-24l1-3l0 4l1 5l0 13l3-21l0 20l1-21l0 9l0 11l1-20l2 19l1-1l1-16l2 21l1-20l1 23l1-24l0 8l0 17l4-28l0 12l1-7l0 27l1-8l0 11l3-34l1 27l1-7l1 3l0 4l1-35l4 32l0 7l1-39l1-1l0 38l1-34l0 30l1-36l0 4l0 40l3-40l0 25l1-27l2 36l1-1l1-29l1 28l2-31l0 6l0 21l0 4l1-31l0 10l0 19l1-21l0 2l0 17l0 2l1-31l0 6l0 11l0 8l0 4l1-1l1-20l0 15l0 4l0 1l1-3l1-10l0 9l1-9l0 9l0 1l1-18l1-11l4 8l0 20l1-29l1 3l0 16l0 9l0 2l1-21l1 13l0 7l1-25l2 9l0 20l1-3l1-9l1-12l0 19l0 1l1-23l0 6l0 2l0 10l1-18l1 21l0 8l1-11l1-17l0 11l0 10l1 1l2-19l0 6l0 2l1-1l0 1l1-1l1-5l1 0l0 18l1-17l0 1l0 1l1 17l1-13l1-5l0 2l1-1l0 1l0 15l0 1l2-12l1 9l1 9l1-16l1-11l1 5l0 21l1-24l1 8l0 17l1 1l1-25l0 23l1-13l0 6l2-15l0 1l1 26l2-16l1-2l0 1l0 3l0 14l1-10l0 2l0 11l1-25l1 11l0 14l2 21l1-18l1-30l1 10l0 24l0 2l1 0l0 6l2-40l0 23l0 12l1-27l1-7l0 20l1-13l0 17l2-23l0 5l2 20l0 8l1-30l1-3l1 0l0 7l1 23l2-25l3-6l0 6l0 28l3-3l0 1l1-7l1-24l1 4l0 26l1-23l0 24l2-31l0 30l0 1l1 0l3-30l0 23l1-23l0 32l3-39l1 9l1-8l0 18l0 11l0 1l2-30l0 27l1-2l1-22l0 25l3-23l0 10l0 4l1-12l1 0l1 16l2 1l1-13l0 15l1 0l1-3l0 5l1 3l2-25l0 13l0 6l1-9l1-12l0 3l0 9l0 8l1-2l1-16l0 7l2 4l1-9l0 2l3-4l1 0l0 3l0 1l1-6l0 1l0 1l0 6l1-8l1 4l1 2l1-9l0 5l0 1l1 5l1-9l0 7l0 1l2-2l2-7l0 6l1-6l0 2l0 4l1-3l0 1l1-1l8-1l2-4l0 1l2 4l-1141-125l909 162l-115 10" marker-start="url(#mbe)" marker-mid="url(#mbe)" marker-end="url(#mbe)"/>
</g>
<g fill="none" stroke="none">
<path d="M1225 496L1228 503L1231 506L1234 508L1237 508L1240 508L1243 508L1246 506L1249 503L1252 500L1255 500L1258 499L1261 505L1264 509L1267 512L1270 513L1273 513L1276 513L1279 512L1282 512L1285 511L1288 512L1291 513L1294 513L1297 513L1300 512L1303 509L1306 507L1309 504L1312 503L1315 501L1318 497L1321 491L1324 493L1327 493L1330 493L1333 492L1336 490L1339 491L1342 492L1345 494L1348 495L1351 502L1354 506L1357 509L1360 511L1363 511L1366 511L1369 511L1372 511L1375 511L1378 509L1381 507L1384 505L1387 502L1390 498L1393 495L1396 492L1399 490L1402 487L1405 485L1408 485L1411 484L1414 483L1417 489L1420 492L1423 494L1426 494L1429 494L1432 494L1435 492L1438 490L1441 490L1444 490L1447 488L1450 488L1453 487L1456 488L1459 488L1462 488L1465 488L1468 486L1471 488L1474 491L1477 493L1480 494L1483 494L1486 494L1489 494L1492 495L1495 498L1498 501L1501 502L1504 503L1507 505L1510 505L1513 505L1516 505L1519 505L1522 504L1525 505L1528 506L1531 507L1534 509L1537 509L1540 509L1543 510L1546 510L1549 510L1552 512L1555 514L1558 514L1561 514L1564 514L1567 512L1570 509L1573 508L1576 510L1579 511L1582 511L1585 511L1588 509L1591 508L1594 508L1597 508L1600 507L1603 506L1606 508L1609 511L1612 512L1615 512L1618 512L1621 514L1624 516L1627 517L1630 518L1633 518L1636 518L1639 517L1642 515L1645 512L1648 507L1651 499L1654 496L1657 491L1660 490L1663 491L1666 493L1669 494L1672 497L1675 499L1678 500L1681 502L1684 502L1687 502L1690 501L1693 499L1696 499L1699 497L1702 502L1705 506L1708 509L1711 510L1714 510L1717 510L1720 509L1723 506L1726 505L1729 508L1732 509L1735 509L1738 509L1741 511L1744 512L1747 512L1750 512L1753 511L1756 510L1759 510L1762 510L1765 511L1768 511L1771 511L1774 510L1777 508L1780 504L1783 501L1786 503L1789 503L1792 504L1795 506L1798 506L1801 506L1804 505L1807 505L1810 505L1813 507L1816 508L1819 508L1822 508L1825 508L1828 508L1831 508L1834 508L1837 508L1840 507L1843 507L1846 507L1849 507L1852 506L1855 503L1858 504L1861 507L1864 509L1867 509L1870 509L1873 508L1876 508L1879 508L1882 509L1885 510L1888 510L1891 510L1894 509L1897 510L1900 510L1903 510L1906 510L1909 508L1912 505L1915 505L1918 507L1921 508L1924 508L1927 508L1930 509L1933 511L1936 515L1939 517L1942 518L1945 521L1948 523L1951 524L1954 524L1957 524L1960 523L1963 522L1966 521L1969 521L1972 521L1975 521L1978 520L1981 520L1984 520L1987 520L1990 520L1993 520L1996 522L1999 522L2002 522L2005 521L2008 519L2011 520L2014 523L2017 525L2020 526L2023 526L2026 526L2029 525L2032 524L2035 523L2038 520L2041 518L2044 515L2047 515L2050 517L2053 518L2056 518L2059 518L2062 517L2065 514L2068 510L2071 510L2074 510L2077 510L2080 510L2083 513L2086 515L2089 518L2092 521L2095 523L2098 527L2101 529L2102 530L2102 567L2101 567L2098 567L2095 564L2092 563L2089 563L2086 563L2083 563L2080 565L2077 565L2074 562L2071 560L2068 560L2065 560L2062 561L2059 563L2056 565L2053 565L2050 564L2047 564L2044 564L2041 565L2038 566L2035 566L2032 566L2029 566L2026 566L2023 564L2020 563L2017 561L2014 560L2011 560L2008 560L2005 560L2002 559L1999 559L1996 559L1993 559L1990 559L1987 559L1984 559L1981 558L1978 557L1975 554L1972 552L1969 550L1966 550L1963 550L1960 550L1957 551L1954 554L1951 556L1948 558L1945 560L1942 561L1939 560L1936 559L1933 559L1930 559L1927 559L1924 556L1921 553L1918 551L1915 550L1912 550L1909 550L1906 552L1903 555L1900 559L1897 564L1894 565L1891 568L1888 562L1885 559L1882 558L1879 558L1876 556L1873 553L1870 551L1867 551L1864 550L1861 549L1858 549L1855 549L1852 549L1849 547L1846 547L1843 547L1840 547L1837 547L1834 547L1831 547L1828 549L1825 551L1822 554L1819 558L1816 561L1813 563L1810 563L1807 563L1804 563L1801 563L1798 563L1795 564L1792 564L1789 564L1786 561L1783 560L1780 560L1777 560L1774 561L1771 564L1768 562L1765 559L1762 558L1759 558L1756 558L1753 559L1750 562L1747 563L1744 563L1741 564L1738 567L1735 565L1732 562L1729 560L1726 560L1723 560L1720 561L1717 561L1714 560L1711 560L1708 559L1705 559L1702 559L1699 558L1696 556L1693 555L1690 552L1687 549L1684 547L1681 545L1678 544L1675 544L1672 544L1669 545L1666 544L1663 543L1660 543L1657 543L1654 543L1651 543L1648 545L1645 548L1642 552L1639 556L1636 563L1633 572L1630 574L1627 574L1624 574L1621 575L1618 572L1615 566L1612 563L1609 561L1606 561L1603 556L1600 553L1597 551L1594 550L1591 550L1588 550L1585 552L1582 555L1579 559L1576 557L1573 556L1570 556L1567 556L1564 558L1561 561L1558 561L1555 561L1552 562L1549 564L1546 566L1543 568L1540 571L1537 575L1534 572L1531 568L1528 566L1525 565L1522 563L1519 562L1516 562L1513 559L1510 558L1507 558L1504 557L1501 554L1498 552L1495 552L1492 552L1489 552L1486 553L1483 549L1480 546L1477 544L1474 544L1471 544L1468 545L1465 547L1462 550L1459 554L1456 552L1453 550L1450 541L1447 537L1444 534L1441 533L1438 533L1435 531L1432 530L1429 528L1426 527L1423 525L1420 524L1417 524L1414 524L1411 525L1408 528L1405 531L1402 531L1399 532L1396 534L1393 535L1390 536L1387 538L1384 539L1381 541L1378 544L1375 547L1372 552L1369 557L1366 555L1363 552L1360 549L1357 547L1354 546L1351 539L1348 535L1345 533L1342 532L1339 532L1336 532L1333 534L1330 537L1327 542L1324 545L1321 544L1318 544L1315 544L1312 544L1309 543L1306 543L1303 543L1300 544L1297 546L1294 550L1291 551L1288 549L1285 549L1282 546L1279 542L1276 539L1273 538L1270 538L1267 538L1264 539L1261 539L1258 540L1255 543L1252 546L1249 552L1246 553L1243 551L1240 548L1237 547L1234 545L1231 539L1228 535L1225 527Z" fill="#ff9900" stroke="#ff9900" stroke-width="1.5"/>
<path d="M1218 507l2 31l1-50l0 1l0 3l0 4l0 5l0 5l0 3l0 6l0 3l0 6l1-33l0 5l0 13l0 9l0 4l0 4l0 1l0 1l0 3l1-38l0 39l1-36l0 18l1-18l0 1l0 1l0 16l1-23l0 1l0 7l0 7l0 31l1-44l0 44l1-44l0 1l0 41l0 1l0 4l1 5l0 8l1-58l0 1l1 23l0 27l1-35l0 19l1-19l0 1l4 38l2-41l0 4l0 39l1-38l1 0l0 32l0 4l2 5l1-54l0 7l0 41l1-49l0 56l1-1l1-53l1-3l0 45l0 1l1-1l0 6l0 7l1-1l1-60l0 57l1 1l1-59l1 43l0 8l0 2l0 3l1 0l1-51l0 8l0 31l1-44l0 52l1-42l1-14l0 41l2-45l1 20l0 4l1-14l0 38l1-37l0 1l2 19l0 23l3 0l1-35l0 12l1-1l1 16l0 8l1-5l3-22l0 20l2 16l1-43l1 39l2-31l3-9l0 1l1 7l0 2l0 36l0 1l1-46l0 46l1-47l0 48l1-46l2 0l0 1l0 48l1-49l0 50l0 2l1-3l1-59l0 55l0 5l1-49l0 42l2-32l0 23l0 9l1-43l0 43l2-44l0 6l0 36l2-11l1-34l0 7l0 28l0 4l1-39l1-3l0 45l1-37l0 37l1-45l0 44l3-59l1 71l1-7l1-53l0 46l1-48l0 7l0 2l1-13l0 57l1-59l0 59l1-63l2 1l0 5l0 3l0 9l0 34l1-56l0 63l0 2l1-46l0 44l2-3l1-50l0 55l0 4l1-18l0 16l1-60l0 44l0 19l1-63l0 2l0 7l2 35l0 13l2-4l1-48l0 42l0 1l1-39l2-13l1 0l2 7l1-5l0 8l0 37l0 4l1-45l1-2l1 0l1-2l0 1l1-1l0 3l0 48l1-49l0 48l1-32l2-13l0 14l0 1l0 33l1-47l0 2l0 40l0 12l1-54l0 53l1-55l0 53l0 2l1-53l0 3l0 9l1-10l0 15l1 26l1-34l2-1l2 9l0 8l1-12l0 2l1-6l0 1l0 14l1-12l0 54l1-50l0 49l0 1l2 1l1 0l3-14l0 16l0 1l1-4l0 4l1-1l0 1l1-55l1 51l0 5l1-6l1-47l0 47l0 1l1-12l0 8l1-49l0 9l0 21l0 1l0 4l0 9l2-8l0 6l1-32l0 32l0 1l1-40l1-8l0 45l1-66l0 22l0 33l1-28l1 5l2-13l1-5l0 2l0 3l0 2l0 39l1-45l0 13l0 33l1-48l0 42l0 5l1-48l0 10l0 38l0 5l1-56l0 46l2-4l1-38l0 4l1-10l0 51l2-47l1-5l0 5l1 5l1 40l1-53l0 7l1 40l1-49l0 5l1-4l0 52l0 9l1-60l0 6l2-7l0 7l0 40l0 4l0 2l1-8l0 7l1-53l1 51l2-56l0 7l0 10l1-24l2 8l0 51l1-49l0 49l1-46l0 13l0 32l1-44l0 3l0 6l0 35l2-35l1-2l0 40l1-33l1-6l2 35l1-34l0 38l1-33l0 35l1-41l0 43l1-9l1 9l0 8l1-52l0 3l0 40l2 1l5-52l0 16l0 30l0 9l0 1l1-51l0 1l0 9l1-11l0 42l0 10l2-47l0 40l0 8l1-54l0 1l0 1l0 52l1-54l0 9l0 46l2-46l1 40l0 9l0 4l0 6l3-21l1-48l1-2l1-8l0 8l0 9l0 52l2-60l0 75l1 1l1-74l0 65l0 10l1-72l0 58l1-61l0 71l1-9l0 14l1-77l0 2l0 57l0 19l1-77l0 8l0 66l0 1l1-76l1 11l1-11l1 63l1-67l0 14l0 1l1-14l2 4l1 54l1-52l0 4l2-4l1 61l1-60l0 70l1-69l1 63l1-56l1-1l0 61l1-59l0 45l0 12l1-64l0 59l2-56l1-2l1-2l0 55l1-57l0 1l0 70l1-64l0 4l0 59l2-65l0 65l1-11l0 10l1-65l1 13l1-11l0 13l0 49l0 2l2-58l0 53l0 3l0 2l1 1l2-7l1 10l2-54l1-9l0 7l0 54l0 3l1-62l1 62l2-54l0 52l0 3l1-51l2-8l1 6l1 1l0 54l1-63l0 2l1 3l1-5l0 4l0 3l0 57l1-64l0 63l2-65l0 1l1 65l0 2l0 4l1-73l0 64l1-58l0 3l0 60l1-65l0 57l0 9l1-69l3 60l0 11l1-69l0 11l2 60l1 0l1 4l1-73l0 1l0 72l1-68l0 62l1-59l0 71l1-8l0 8l2-75l0 72l1-4l0 5l0 1l1-5l1 3l1-5l2-15l0 12l1-11l1 10l1-61l0 58l1-61l2 0l0 56l0 6l2-63l0 3l0 7l1-5l0 55l2-57l0 1l1 51l0 1l0 2l1-53l2 1l0 46l0 2l2-49l0 50l0 5l1-48l0 49l1-57l0 58l1-57l0 53l0 1l1-3l1-42l0 41l1-56l1 0l0 11l0 44l1-5l1-52l0 55l1-56l1 0l1-1l0 1l0 1l0 58l1 0l1-10l1 2l0 2l1-49l0 6l0 2l0 3l1-6l0 3l0 49l2-53l1-2l1 56l1-5l0 2l1-46l0 43l0 2l1-10l1-44l0 5l0 43l2-50l1 1l0 3l2-16l0 54l1 7l1-42l0 43l1-5l0 11l1-13l1 7l1-44l0 47l2-55l1 8l0 41l0 2l0 6l0 3l1-9l0 7l1 2l1-59l0 12l0 42l0 7l0 1l2-14l1-50l0 14l0 35l0 15l0 1l1-63l0 62l1-61l0 4l1-1l0 59l0 1l2-60l0 3l0 2l0 51l2-55l0 1l0 61l1 3l0 3l1-4l1-63l1 0l0 62l1-62l0 1l1-3l0 55l1 2l0 17l0 1l1-75l0 3l0 70l3-69l0 7l0 1l1-6l0 1l1 1l0 57l0 3l0 2l2-63l0 1l0 1l1 59l1-61l0 9l2-7l0 8l0 45l0 10l0 1l0 15l1-79l0 5l0 35l0 25l2-62l0 58l1-13l0 11l0 9l1-70l0 35l0 4l1-28l0 42l1-49l0 50l1-56l1-2l0 11l0 40l1-2l1-49l1 53l1-61l0 3l0 51l1-43l0 27l1-43l0 4l0 8l0 4l0 38l1-54l0 18l1 23l1-33l0 36l1-4l1-35l0 1l0 5l0 4l0 27l0 9l2-51l0 50l0 1l1-65l1 3l0 10l0 5l0 40l1-59l0 1l0 1l0 1l1 0l2 0l2 7l0 51l1-44l1-12l1 51l2-41l0 51l1 0l2-57l0 58l1-58l0 49l0 3l2-42l1-8l0 11l0 43l3-44l0 3l1 42l0 1l1-8l1-43l3 50l0 3l1-48l0 45l1-44l0 54l1-11l0 1l0 7l1 3l1-59l1 8l1 52l2-63l0 59l1-59l0 64l1-64l1 4l0 6l1-11l0 63l1-60l1 0l0 64l0 1l0 1l1-72l0 1l0 8l0 62l1-71l0 63l1-53l0 61l1-71l0 1l0 71l1-69l0 8l0 2l0 56l1-64l0 3l2 0l1 55l0 8l1 0l1 1l0 1l1-59l1 58l4 1l1-63l0 52l2-55l0 7l0 60l0 1l1 0l1-4l1-5l4-52l1-4l1 62l1-2l3-7l2 15l1-11l1 3l0 10l0 1l0 2l1-9l0 9l0 2l1-3l0 1l0 2l1-3l0 3l0 2l1-5l0 2l1-73l0 68l1-1l0 18l2-88l3 58l2 2l0 6l1 2l2 0l2-3l1 0l1-57l3-2l0 7l2 0l0 39l0 14l1-58l0 55l1-52l0 51l1-48l1-6l0 51l0 4l4-70l0 15l0 10l0 51l1-9l1-49l0 53l1-57l0 1l0 61l1-2l1-2l1-58l0 60l1-75l0 21l0 53l1 0l1-63l1-5l0 2l0 8l0 56l2-67l2-7l1 75l1-64l0 61l1-63l2 63l1-62l3 58l0 9l1-68l1 1l1 5l0 63l1-65l1 59l1 6l2-65l1 1l0 63l0 1l1-66l0 1l2 5l0 3l0 55l1-80l1 15l1 66l1-75l0 67l0 2l1-68l1 74l1-66l1 0l0 9l0 52l1-60l0 12l0 50l1-54l0 57l1-63l1 53l1-50l0 59l1-62l0 63l1-63l0 60l1-59l0 60l0 13l1-22l2 1l0 1l0 2l0 3l1-58l0 51l2-50l0 45l0 1l0 4l2-12l0 11l3-2l1 4l3-13l0 6l1 1l2 7l1-12l2 5l2-9l2 1l1 1l5 2l0 5l0 2l3-9l0 12l4-2l1-5l1 4l0 1l1-10l0 4l0 5l7 13l1-21l0 3l1 8l3-60l0 54l0 7l1 1l2-1l1-50l3-3l1 3l0 51l4-52l1-5l0 63l1-10l0 13l0 2l1-13l0 8l0 8l1-63l0 49l0 9l0 4l0 4l1-2l0 2l0 1l1-68l0 50l0 17l0 1l1-70l0 1l0 67l2-67l0 66l1-8l1-60l0 64l0 2l1 2l1-5l1-61l1 50l0 3l1-52l0 7l0 1l0 51l0 2l2-56l0 54l1-13l0 6l0 1l1-9l1-55l0 5l0 51l0 7l1-1l1-1l4-3l1-57l0 1l0 13l1-11l1 53l1-43l0 2l0 41l0 1l1-63l0 7l0 1l0 13l0 1l1-11l1 53l1-52l3 50l0 6l0 2l2-57l0 10l1-11l0 9l0 50l1-58l3 9l0 50l1-50l0 3l1 46l1-55l0 11l1 43l0 4l1-4l0 1l1-58l2 18l0 34l1-42l0 2l1-4l0 49l1-41l0 45l1-48l0 9l1 38l1-1l0 2l1-51l1 2l0 48l1-1l1-12l0 12l1-39l1 29l0 8l1-13l2-27l1 36l2-9l0 11l1-40l1 0l3 33l2-34l1 30l0 1l1 0l0 2l2-4l1 0l2-32l0 2l0 2l3 36l1 2l1-2l0 2l1-39l0 3l0 42l0 4l1-49l0 4l1-6l1 1l3-1l1-2l0 49l0 7l2-54l0 3l1-3l1 1l2 0l1-2l0 6l1-5l0 8l0 38l1-46l0 46l1-47l1 6l0 41l2 0l2-44l0 39l1-39l2 43l2-8l0 11l1-47l1 1l1-1l0 49l1-51l0 8l0 43l1-2l1-52l1 1l1 0l1-2l0 1l0 51l1-51l0 17l1-14l0 3l0 44l1-45l1 10l2 37l1-39l0 38l2-42l2 3l3-1l0 9l4-18l8 56l1-46l4 44l1-60l0 2l0 58l1-62l0 2l0 7l1-8l0 10l0 48l1-59l1 3l0 11l0 42l1-45l1-5l2 53l3-1l1-50l0 1l1 9l0 44l1-44l0 43l1-58l0 14l1 46l1-47l0 2l0 42l1-46l0 46l0 8l1-9l1-54l1 0l0 2l1-9l0 59l1-58l2 59l1-52l0 1l1-6l0 11l1-13l0 11l1-11l2 1l1 5l2-5l0 1l1-2l0 2l0 10l2-4l1-9l0 64l0 2l1-65l0 64l1-68l0 6l2 6l1 53l1-64l0 68l1-59l0 3l1 52l1-47l0 46l0 2l1-3l3-38l0 30l0 5l1-37l0 8l1-4l0 22l1-23l0 29l0 5l1-27l1 36l1-47l1-3l0 20l0 6l0 24l1-13l1-6l0 15l0 6l1-24l0 25l1-37l0 15l0 16l0 23l1-63l0 13l0 22l0 1l0 9l1 14l1-14l2-2l1 12l-450-124l257 27" marker-start="url(#moe)" marker-mid="url(#moe)" marker-end="url(#moe)"/>
</g>
<g fill="none" stroke="none">
<path d="M1700 507L1703 501L1706 499L1709 496L1712 495L1715 497L1718 497L1721 497L1724 497L1727 495L1730 495L1733 495L1736 495L1739 494L1742 492L1745 493L1748 496L1751 497L1754 499L1757 502L1760 505L1763 508L1766 509L1769 509L1772 509L1775 509L1778 509L1781 508L1784 508L1787 508L1790 509L1793 511L1796 511L1799 511L1802 511L1805 509L1808 509L1811 507L1814 505L1817 503L1820 500L1823 493L1826 491L1829 487L1832 478L1835 475L1838 475L1841 475L1844 475L1847 474L1850 472L1853 471L1856 475L1859 479L1862 482L1865 485L1868 487L1871 488L1874 488L1877 491L1880 495L1883 500L1886 507L1889 510L1892 512L1895 512L1898 513L1901 513L1904 513L1907 512L1910 510L1913 512L1916 515L1919 516L1922 516L1925 518L1928 518L1931 518L1934 518L1937 518L1940 518L1943 517L1946 515L1949 514L1952 514L1955 514L1958 513L1961 511L1964 514L1967 516L1970 517L1973 517L1976 517L1979 516L1982 513L1985 513L1988 515L1991 516L1994 521L1997 527L2000 530L2003 532L2006 532L2009 532L2012 533L2015 536L2018 537L2021 537L2024 538L2027 538L2030 538L2033 537L2036 535L2039 531L2042 528L2045 528L2048 531L2051 533L2054 534L2057 535L2060 536L2063 536L2066 539L2069 541L2072 542L2075 542L2078 542L2081 541L2084 540L2087 540L2090 540L2093 540L2096 540L2099 541L2102 542L2102 565L2099 565L2096 565L2093 567L2090 570L2087 576L2084 579L2081 582L2078 579L2075 578L2072 578L2069 577L2066 574L2063 572L2060 570L2057 570L2054 570L2051 570L2048 571L2045 574L2042 577L2039 580L2036 583L2033 587L2030 591L2027 591L2024 591L2021 588L2018 584L2015 577L2012 570L2009 567L2006 565L2003 563L2000 561L1997 561L1994 559L1991 559L1988 559L1985 559L1982 561L1979 557L1976 554L1973 552L1970 551L1967 551L1964 551L1961 553L1958 555L1955 556L1952 557L1949 557L1946 559L1943 560L1940 562L1937 565L1934 568L1931 565L1928 561L1925 558L1922 557L1919 557L1916 556L1913 556L1910 556L1907 557L1904 558L1901 558L1898 557L1895 555L1892 554L1889 553L1886 552L1883 548L1880 539L1877 535L1874 533L1871 532L1868 531L1865 530L1862 530L1859 530L1856 530L1853 530L1850 531L1847 531L1844 530L1841 528L1838 527L1835 527L1832 527L1829 528L1826 531L1823 536L1820 546L1817 549L1814 551L1811 552L1808 554L1805 557L1802 562L1799 563L1796 563L1793 564L1790 564L1787 566L1784 568L1781 567L1778 565L1775 563L1772 563L1769 563L1766 564L1763 565L1760 559L1757 556L1754 553L1751 550L1748 543L1745 539L1742 536L1739 535L1736 535L1733 534L1730 534L1727 534L1724 532L1721 529L1718 528L1715 528L1712 528L1709 529L1706 527L1703 527L1700 525Z" fill="#00c0c0" stroke="#00c0c0" stroke-width="1.5"/>
<path d="M1693 507l3 21l1-11l0 8l1-23l0 25l1-28l1-2l0 27l1-27l1 1l1 3l0 24l0 5l1-36l0 6l1 20l1-28l0 37l0 1l0 1l0 1l1-45l0 5l0 31l1-39l0 1l0 39l1-38l0 1l1-4l0 2l1 0l0 1l0 2l0 13l0 30l0 6l1-49l0 1l1 10l0 31l1-44l0 41l1-4l5 11l1-34l0 28l1-45l2 18l0 29l0 8l1-47l0 8l0 25l1-33l0 46l1 0l0 10l2-17l0 6l1-46l0 9l1 33l0 6l1-38l2-8l1 0l0 36l1 10l1-4l1 5l2 0l1-53l0 1l0 42l0 17l1-61l0 55l1-54l0 56l1-56l1-1l0 11l0 40l0 10l1 1l2-1l0 6l1-65l0 48l0 17l1-58l0 6l1 5l0 39l0 10l1-18l0 11l0 7l0 1l1-61l0 64l1-13l2-37l0 46l1-2l0 9l0 1l1-58l0 60l1-68l0 74l1-1l1-69l0 10l1 58l0 1l1-3l1-63l1 0l0 52l0 6l0 6l1-4l1-59l0 4l3 50l0 6l2-60l0 52l1 7l0 5l1-63l1 62l1-63l0 10l1 54l1-62l1-3l0 57l0 10l1-63l1-10l1 6l0 4l0 6l0 57l1-4l1-59l0 66l2-69l0 10l0 58l1-67l0 66l3-7l0 4l1-6l1-45l0 50l1-71l1 17l0 44l1-43l0 53l1-58l0 57l1-10l0 20l1-10l1-55l0 53l1-52l0 44l1-49l1-1l0 2l0 4l0 55l1-12l0 12l1-10l1-50l0 56l0 3l1-4l1-3l0 1l1-47l0 34l0 9l1 1l1-55l0 49l0 5l0 2l1-52l0 44l1-50l0 55l3-51l0 47l0 3l1-14l0 8l1-53l0 38l0 13l1-53l0 2l0 49l0 18l1-73l0 41l0 4l1-30l0 49l1-48l1 31l1 12l1-63l0 39l0 3l1-42l1-19l0 19l0 58l1-9l1-57l0 2l0 5l0 50l0 17l1-77l0 2l1 19l0 60l1-86l2 6l1-7l0 4l0 2l0 50l0 8l1-62l0 1l0 59l1 3l1-49l1-8l1 2l0 51l2 3l0 1l1-61l0 2l0 6l1-10l0 65l3-65l0 65l2-66l0 55l2-57l1 67l1-67l0 11l0 54l0 2l1-2l1 1l1-56l0 54l0 2l1-67l1 66l1-65l0 1l0 2l0 2l0 56l0 4l0 2l1-48l1-13l0 1l1 49l0 9l1-46l0 44l1-56l0 4l1 50l0 5l1-53l0 3l0 48l1-44l1-7l1 6l0 8l1 33l1-35l0 43l2-56l0 56l2-45l0 48l1-55l0 55l0 1l1-46l0 61l1-61l0 4l1-16l0 8l1-6l0 15l0 2l0 29l0 18l0 3l1-74l0 12l0 18l0 45l1-18l1-39l0 43l0 16l1-61l0 54l1 9l1-61l0 1l0 9l1-10l0 3l0 54l0 1l1-55l1 53l1-35l0 40l0 1l0 1l0 3l2-7l2-46l0 9l1 41l1-48l1-1l1 0l0 40l1 13l0 1l1-49l0 47l0 4l0 5l1-51l0 33l0 10l0 1l0 1l1-9l1 7l0 4l1-4l1-1l0 2l1-56l0 54l1-53l0 3l2 49l1-49l0 43l2-41l1 44l1-37l0 36l1-49l0 50l1-1l0 2l1-47l3 9l0 41l3-47l0 41l0 7l2-48l0 47l0 2l1-1l0 1l1-4l0 6l2-50l0 51l0 2l0 1l1-54l1 1l2-1l0 57l1-58l0 44l1-43l1 58l0 1l1-60l0 54l1-52l0 3l0 45l1-7l0 12l1-53l3-2l0 52l0 1l1-53l1-3l1 12l1-4l1 44l1-51l0 44l1-66l1 71l1-44l0 37l0 3l0 1l0 4l1-47l3 46l2-43l0 39l0 2l1-50l1 7l1 41l2-44l0 46l1-38l0 41l3-51l0 34l0 10l0 1l1-45l0 1l1 42l0 1l2-41l0 35l1-36l0 37l0 5l0 1l2-38l1-8l0 8l0 3l1-7l1-1l0 60l1-61l0 1l0 49l1-50l1 51l1-55l0 56l1-55l0 57l0 1l1-16l0 12l0 4l1 0l0 2l1-8l0 4l1-48l1 37l0 10l1-55l0 12l0 38l0 4l1-46l0 46l1-51l0 11l0 37l1-37l0 41l1-37l2 35l1-48l0 1l0 8l0 41l0 1l1-46l0 6l1-9l0 50l0 5l1-17l0 11l1-46l0 12l1-1l0 33l1-39l1 42l0 1l3-33l3 37l1-32l0 32l0 20l2-74l1 58l0 6l2-53l0 48l0 9l1-19l1-35l0 1l0 41l0 9l1-47l0 48l1-50l0 56l0 1l1 2l1-14l1-35l1 45l0 11l1-65l0 51l0 10l2-13l1-43l0 6l0 38l0 3l1-50l0 59l1 2l0 6l1-64l0 58l0 1l0 15l1-76l1 6l1-8l0 5l0 58l1-60l0 5l0 52l1-3l2-62l0 61l2-68l0 57l0 8l1-64l2 0l2 1l0 49l1-37l0 38l0 9l1-73l0 71l1-59l0 14l1-3l2-10l0 1l1 1l1 2l0 5l0 1l0 36l1-34l0 38l1-43l1 42l2-8l2-34l0 9l1-6l1 4l2-4l1 4l1 2l1-8l2 0l0 7l0 6l0 29l1-38l0 43l0 2l2-44l0 32l2-30l1-2l0 8l0 33l1-44l0 42l0 7l1-35l2-8l0 36l1-27l3 39l1-3l0 2l1-43l0 3l0 37l0 3l1-50l0 40l0 10l1-5l0 4l1-3l1-46l2-1l0 10l1-9l0 37l1-6l1-22l0 15l0 28l2-16l1-38l1 7l3-6l0 6l0 1l0 21l2-27l0 28l0 3l1-30l1 27l0 1l0 4l1-19l0 27l1-38l1 6l0 23l1-25l0 12l0 2l0 9l0 3l1-36l2 0l0 19l0 8l-30 82l-31-12l-343-164l147-16l29 14" marker-start="url(#mtl)" marker-mid="url(#mtl)" marker-end="url(#mtl)"/>
</g>
<g fill="none" stroke="none"><path d="M1576 589l5 2l1-5l3 4l0-6l8 1l0 1l1-2l7 2" marker-start="url(#mrd)" marker-mid="url(#mrd)" marker-end="url(#mrd)"/></g></g>
<g fill="none">
<path d="M251.2 77.6H2150.6M251.2 1022.0H2150.6" stroke="#333" stroke-width="3.5"/>
<path d="M287.3 58V1042" stroke="#808080" stroke-width="6.5"/>
<path d="M2111.3 58V1042" stroke="#b0b0b0" stroke-width="2.6"/>
<path d="M2114.2 58V1042" stroke="#3a3a3a" stroke-width="3.3"/>
<path d="M417.5 66.5V77.6M417.5 1022.0V1031.5M548.0 58.5V77.6M548.0 1022.0V1041.5M678.6 66.5V77.6M678.6 1022.0V1031.5M809.1 58.5V77.6M809.1 1022.0V1041.5M939.6 66.5V77.6M939.6 1022.0V1031.5M1070.1 58.5V77.6M1070.1 1022.0V1041.5" stroke="#808080" stroke-width="6"/>
<path d="M1200.6 66.5V77.6M1200.6 1022.0V1031.5M1331.2 58.5V77.6M1331.2 1022.0V1041.5M1461.7 66.5V77.6M1461.7 1022.0V1031.5M1592.2 58.5V77.6M1592.2 1022.0V1041.5M1722.7 66.5V77.6M1722.7 1022.0V1031.5M1853.2 58.5V77.6M1853.2 1022.0V1041.5M1983.8 66.5V77.6M1983.8 1022.0V1031.5" stroke="#505050" stroke-width="3.6"/>
<path d="M251.2 313.7H287M2114 313.7H2150.6M251.2 785.9H287M2114 785.9H2150.6" stroke="#858585" stroke-width="4.6"/>
<path d="M251.2 549.8H287M2114 549.8H2150.6" stroke="#3a3a3a" stroke-width="3.3"/>
</g>
<g font-family="'Liberation Sans', Arial, Helvetica, sans-serif" fill="#111">
<text x="325.9" y="128" font-size="49" textLength="165.1" lengthAdjust="spacingAndGlyphs">ACSPO</text><text x="502.0" y="128" font-size="49" textLength="133.9" lengthAdjust="spacingAndGlyphs">R2.40,</text><text x="643.3" y="128" font-size="49" textLength="175.3" lengthAdjust="spacingAndGlyphs">AVHRR</text><text x="829.8" y="128" font-size="49" textLength="114.0" lengthAdjust="spacingAndGlyphs">GAC,</text><text x="954.3" y="128" font-size="49" textLength="123.4" lengthAdjust="spacingAndGlyphs">Night</text><text x="1088.0" y="128" font-size="49" textLength="120.5" lengthAdjust="spacingAndGlyphs">Time,</text><text x="1222.4" y="128" font-size="49" textLength="138.6" lengthAdjust="spacingAndGlyphs">outlier</text><text x="1375.8" y="128" font-size="49" textLength="179.3" lengthAdjust="spacingAndGlyphs">retained</text>
<text x="349.4" y="192.5" font-size="37.2" fill="#6a10ff" stroke="#6a10ff" stroke-width="0.4">NOAA15</text>
<text x="559.0" y="192.5" font-size="37.2" fill="#0aaa0a" stroke="#0aaa0a" stroke-width="0.4">NOAA16</text>
<text x="768.6" y="192.5" font-size="37.2" fill="#10c8ff" stroke="#10c8ff" stroke-width="0.4">NOAA17</text>
<text x="978.2" y="192.5" font-size="37.2" fill="#ff1010" stroke="#ff1010" stroke-width="0.4">NOAA18</text>
<text x="1187.8" y="192.5" font-size="37.2" fill="#0a0ae6" stroke="#0a0ae6" stroke-width="0.4">METOPA</text>
<text x="1397.4" y="192.5" font-size="37.2" fill="#ff9a0a" stroke="#ff9a0a" stroke-width="0.4">NOAA19</text>
<text x="1607.0" y="192.5" font-size="37.2" fill="#10c0c0" stroke="#10c0c0" stroke-width="0.4">METOPB</text>
<text x="229" y="123.0" font-size="55" text-anchor="end">1.0</text>
<text x="229" y="339.5" font-size="55" text-anchor="end">0.5</text>
<text x="229" y="574.5" font-size="55" text-anchor="end">0.0</text>
<text x="229" y="811.5" font-size="55" text-anchor="end">-0.5</text>
<text x="229" y="1024.0" font-size="55" text-anchor="end">-1.0</text>
<text x="287.5" y="1138" font-size="56" text-anchor="middle">2002</text>
<text x="548.5" y="1138" font-size="56" text-anchor="middle">2004</text>
<text x="809.6" y="1138" font-size="56" text-anchor="middle">2006</text>
<text x="1070.6" y="1138" font-size="56" text-anchor="middle">2008</text>
<text x="1331.7" y="1138" font-size="56" text-anchor="middle">2010</text>
<text x="1592.7" y="1138" font-size="56" text-anchor="middle">2012</text>
<text x="1853.7" y="1138" font-size="56" text-anchor="middle">2014</text>
<text x="2114.8" y="1138" font-size="56" text-anchor="middle">2016</text>
<text x="1201" y="1222.6" font-size="56" text-anchor="middle">Year</text>
<text transform="translate(68.4,880.3) rotate(-90)" x="-4.0" y="0" font-size="58.5" textLength="161.8" lengthAdjust="spacingAndGlyphs">Mean,</text><text transform="translate(68.4,688.3) rotate(-90)" x="-3.9" y="0" font-size="58.5" textLength="105.1" lengthAdjust="spacingAndGlyphs">Reg</text><text transform="translate(68.4,570.9) rotate(-90)" x="-2.1" y="0" font-size="58.5" textLength="20.1" lengthAdjust="spacingAndGlyphs">-</text><text transform="translate(68.4,534.3) rotate(-90)" x="-2.9" y="0" font-size="58.5" textLength="172.3" lengthAdjust="spacingAndGlyphs">(Drifter</text><text transform="translate(68.4,358.6) rotate(-90)" x="-2.3" y="0" font-size="58.5" textLength="40.1" lengthAdjust="spacingAndGlyphs">+</text><text transform="translate(68.4,316.6) rotate(-90)" x="-0.9" y="0" font-size="58.5" textLength="98.5" lengthAdjust="spacingAndGlyphs">TM)</text>
</g>
</g>
<g transform="translate(0,1304.58) scale(1,1.001588)">
<g>
<defs>
<linearGradient id="sq" x1="0" y1="0" x2="0" y2="1">
<stop offset="0" stop-color="#e6e0f0"/><stop offset="0.07" stop-color="#dcecf4"/><stop offset="0.14" stop-color="#d6f4ee"/><stop offset="0.26" stop-color="#e2f6d6"/><stop offset="0.38" stop-color="#f2f7d2"/><stop offset="0.5" stop-color="#fbf1d8"/><stop offset="0.66" stop-color="#fcfbd0"/><stop offset="0.78" stop-color="#e6f7d6"/><stop offset="0.86" stop-color="#d8f2f0"/><stop offset="0.93" stop-color="#e2daf0"/><stop offset="1" stop-color="#ebe4ee"/>
</linearGradient>
<radialGradient id="sqg" cx="0.72" cy="0.25" r="0.42"><stop offset="0" stop-color="#ececec" stop-opacity="1"/><stop offset="0.6" stop-color="#ececec" stop-opacity="0.8"/><stop offset="1" stop-color="#ececec" stop-opacity="0"/></radialGradient>
<clipPath id="sqc"><circle cx="1794.3" cy="905.7" r="110"/></clipPath>
<clipPath id="nc"><circle cx="2003" cy="908" r="96.5"/></clipPath>
</defs>
<g filter="url(#bl2)">
<circle cx="1794.3" cy="905.7" r="110" fill="url(#sq)"/>
<g clip-path="url(#sqc)">
<circle cx="1794.3" cy="905.7" r="110" fill="url(#sqg)"/>
<polygon points="1784,830 1818,817 1855,814 1882,836 1895,859 1903,886 1900,907 1890,928 1871,939 1866,960 1855,976 1839,976 1831,955 1826,928 1808,923 1786,904 1765,881 1763,854" fill="#e9e9e9" opacity="0.92"/>
<circle cx="1794.3" cy="905.7" r="108" fill="none" stroke="#e6e6ea" stroke-width="5" opacity="0.7"/>
</g>
<text x="1692.5" y="924.5" font-family="'Liberation Sans', Arial, sans-serif" font-size="54" textLength="207" lengthAdjust="spacingAndGlyphs" fill="#c9c9c9" stroke="#c9c9c9" stroke-width="0.6">SQUAM</text>
<circle cx="2003" cy="908" r="115" fill="#fff"/>
<circle cx="2003" cy="908" r="107.5" fill="none" stroke="#d9e4ef" stroke-width="14" stroke-dasharray="4 2.5"/>
<circle cx="2003" cy="908" r="96.5" fill="#d0ecf8"/>
<g clip-path="url(#nc)">
<path d="M1900 858L1920 849L1969 910Q1985 926 2001 927Q2018 926 2035 907L2077 846L2100 852L2091 867L2059 912Q2050 924 2040 931L1969 950L1993 938Q1975 936 1960 928L1900 884Z" fill="#fff"/>
<path d="M1921 850A95 95 0 0 1 2077 847L2035 906Q2018 924 2001 926Q1985 924 1969 909Z" fill="#cfe0ee"/>
</g>
<text x="1958.5" y="873" font-family="'Liberation Sans', Arial, sans-serif" font-weight="bold" font-size="32" textLength="80.5" lengthAdjust="spacingAndGlyphs" fill="#fff">NOAA</text>
</g>
</g>
<g stroke="#f9f8e3" stroke-width="3.4" stroke-dasharray="8 3" fill="none">
<path d="M548.0 77.6V1022.0"/>
<path d="M809.1 77.6V1022.0"/>
<path d="M1070.1 77.6V1022.0"/>
<path d="M1331.2 77.6V1022.0"/>
<path d="M1592.2 77.6V1022.0"/>
<path d="M1853.2 77.6V1022.0"/>
<path d="M290.0 313.7H2112.0"/>
<path d="M290.0 549.8H2112.0"/>
<path d="M290.0 785.9H2112.0"/>
</g>
<g filter="url(#bl)" clip-path="url(#cpa)"><g transform="scale(1,0.998415) translate(0,-1304.58)"><g fill="none" stroke="none">
<path d="M380 1813L383 1801L386 1801L389 1801L392 1799L395 1797L398 1793L401 1794L404 1794L407 1794L410 1794L413 1792L416 1790L419 1789L422 1789L425 1788L428 1786L431 1782L434 1780L437 1781L440 1781L443 1781L446 1781L449 1780L452 1780L455 1780L458 1786L461 1795L464 1799L467 1801L470 1804L473 1808L476 1810L479 1813L482 1815L485 1816L488 1816L491 1816L494 1816L497 1816L500 1815L503 1813L506 1813L509 1815L512 1817L515 1817L518 1817L521 1818L524 1818L527 1818L530 1817L533 1815L536 1815L539 1815L542 1815L545 1814L548 1812L551 1808L554 1806L557 1806L560 1806L563 1807L566 1809L569 1809L572 1809L575 1809L578 1808L581 1806L584 1807L587 1809L590 1810L593 1810L596 1810L599 1810L602 1810L605 1810L608 1811L611 1812L614 1812L617 1812L620 1813L623 1813L626 1813L629 1813L632 1814L635 1814L638 1816L641 1816L644 1816L647 1816L650 1816L653 1817L656 1817L659 1817L662 1817L665 1816L668 1817L671 1817L674 1817L677 1816L680 1816L683 1818L686 1820L689 1820L692 1820L695 1820L698 1819L701 1817L704 1815L707 1815L710 1815L713 1815L716 1817L719 1819L722 1820L725 1820L728 1826L731 1831L731 1840L728 1844L725 1849L722 1853L719 1860L716 1863L713 1861L710 1860L707 1860L704 1860L701 1860L698 1861L695 1863L692 1867L689 1873L686 1874L683 1876L680 1878L677 1883L674 1887L671 1892L668 1897L665 1898L662 1900L659 1893L656 1882L653 1878L650 1876L647 1874L644 1874L641 1874L638 1874L635 1875L632 1875L629 1877L626 1879L623 1883L620 1883L617 1883L614 1883L611 1883L608 1883L605 1881L602 1876L599 1869L596 1865L593 1860L590 1856L587 1854L584 1852L581 1850L578 1848L575 1847L572 1847L569 1847L566 1848L563 1848L560 1849L557 1851L554 1853L551 1855L548 1858L545 1865L542 1878L539 1882L536 1881L533 1879L530 1877L527 1876L524 1876L521 1876L518 1876L515 1876L512 1876L509 1878L506 1877L503 1877L500 1875L497 1870L494 1865L491 1862L488 1860L485 1859L482 1858L479 1857L476 1857L473 1857L470 1857L467 1859L464 1861L461 1865L458 1870L455 1875L452 1877L449 1877L446 1876L443 1872L440 1870L437 1869L434 1869L431 1869L428 1869L425 1869L422 1871L419 1873L416 1877L413 1879L410 1878L407 1876L404 1874L401 1873L398 1873L395 1873L392 1873L389 1872L386 1869L383 1860L380 1842Z" fill="#00aa00" stroke="#00aa00" stroke-width="1.5"/>
<path d="M367 1862l2-9l0 2l2-54l2 18l0 4l0 8l0 1l0 9l1-42l0 22l0 2l0 1l0 8l0 5l0 12l1-51l0 10l0 48l0 4l1-25l0 29l1-70l0 2l0 7l0 36l1 22l0 7l1-67l0 35l2-26l0 10l0 25l0 9l0 18l0 1l1 2l1 2l1-25l1-58l0 1l0 24l1-32l0 7l0 20l0 34l1-39l1 61l0 3l0 6l0 1l2-88l0 90l1 0l1-95l0 19l1 75l1-91l1 85l1-92l0 4l0 1l0 90l1-7l1-89l1 1l0 3l1 81l1 2l0 10l1-92l0 11l0 77l1-81l1-19l0 107l2-94l0 3l1-3l0 2l0 10l0 72l0 12l1-101l0 10l1-7l0 111l2-114l1 103l0 2l2-107l0 6l1 1l0 9l0 99l1-113l0 4l0 85l0 11l3-17l0 5l3-84l2-5l0 95l1-96l1-4l0 90l2-81l0 77l1 13l2-103l2 91l0 7l1-101l0 16l0 88l1-8l1-90l1 93l0 6l1-3l0 5l1-12l1-85l0 101l1-1l1-105l0 91l0 15l2-102l0 105l2-2l1-112l0 14l0 102l1-2l2-112l0 98l0 4l1 8l0 2l1-101l1 101l1-114l0 4l1 18l0 72l1-93l0 111l1-101l0 9l0 85l1-83l0 79l1-99l0 2l0 20l0 83l0 15l1-116l0 16l0 64l0 22l1-2l1-80l1-17l0 2l1 0l0 6l1 76l0 11l1-1l1-73l1 3l1-9l0 14l0 63l0 8l1-87l0 74l1-63l0 51l1-42l0 52l1-70l0 65l1-61l0 65l2 1l1-62l0 62l1 6l1-67l1 63l1-10l0 8l0 2l1-70l0 9l1 60l1-6l1 3l0 4l1-12l1 6l1-1l0 8l1-3l0 5l1-57l1-2l0 46l2 19l0 1l2-7l1 11l0 2l1-24l0 14l2-55l0 60l1-68l0 4l0 6l1-2l0 49l0 5l1-69l0 12l0 56l2 13l1-69l0 1l0 64l1 4l2-67l0 56l1-66l0 16l0 55l1 5l1-12l0 8l3 4l1-74l1 5l1-9l0 67l1-61l0 77l1-76l1-2l0 2l4 2l1 63l0 7l2 4l2-63l2-18l1 1l0 76l0 6l1-83l0 2l0 65l2 6l1 9l2-19l0 17l1-14l1 6l1-10l0 10l0 22l1-10l0 2l2-37l2-61l1 65l2 19l1-8l0 3l0 4l1-28l0 22l0 2l1-22l0 14l1-3l1-3l0 2l3-2l2-1l2-2l1-5l5-4l1 8l4-4l4 3l1-9l0 4l1-6l0 11l2-10l3 15l1-3l1 4l2-12l0 15l1-3l0 6l1 1l1-3l0 4l1-10l1-9l0 15l1 7l1-13l0 16l2-6l0 3l2-5l1 18l0 2l1-1l1 2l1-21l0 17l1-6l5 7l0 6l1-11l0 10l3 0l3 0l2 1l2-10l3 11l2-9l0 6l2-12l2 13l1-10l0 1l1-4l2-5l0 8l1-1l0 6l3-16l0 4l2 8l0 2l1-6l0 4l0 1l2-2l6 2l2 26l3-15l1 7l0 3l1-7l0 4l1 1l0 6l1 0l1-3l0 7l2-116l1 111l1-25l1 5l0 23l0 1l0 1l1-10l0 8l1-1l0 1l1-106l0 101l1-1l3-15l0 4l0 12l2-15l1-86l0 101l1 0l1-1l0 1l1-1l2-9l4-5l0 3l2-23l1 15l4-13l1-10l0 18l1-9l0 5l0 3l1-9l1-3l1-4l0 18l1-1l0 2l2-4l4-9l0 1l3-8l0 7l1 0l0 16l2-25l1 3l2-6l1 7l0 4l3-8l1 14l0 1l1-17l0 16l1 1l1-16l0 12l1 5l1-21l0 16l0 4l2-8l0 4l1-24l0 9l0 13l0 2l2-31l1 0l0 24l0 4l4-11l1-27l0 27l1-32l0 12l0 15l1-1l1-27l1-3l1 3l0 4l2 11l0 8l1-17l2 3l1 22l-57 87l-154-30l94 0" marker-start="url(#mgn)" marker-mid="url(#mgn)" marker-end="url(#mgn)"/>
</g>
<g fill="none" stroke="none">
<path d="M379 1799L382 1804L385 1808L388 1810L391 1811L394 1811L397 1811L400 1810L403 1809L406 1813L409 1815L412 1816L415 1816L418 1816L421 1815L424 1813L427 1813L430 1814L433 1815L436 1815L439 1815L442 1814L445 1813L448 1813L451 1813L454 1812L457 1810L460 1809L463 1809L466 1808L469 1807L472 1805L475 1802L478 1799L481 1799L484 1799L487 1799L490 1803L493 1806L496 1808L499 1810L502 1812L505 1816L508 1818L511 1819L514 1819L517 1819L520 1818L523 1817L526 1816L529 1814L532 1811L535 1803L538 1793L541 1786L544 1783L547 1778L550 1778L553 1777L556 1775L559 1772L562 1770L565 1767L568 1762L571 1762L574 1761L577 1762L580 1763L583 1765L586 1767L589 1767L592 1773L595 1776L598 1778L601 1779L604 1779L607 1779L610 1778L613 1775L616 1774L619 1777L622 1778L625 1781L628 1783L631 1783L634 1783L637 1783L640 1785L643 1787L646 1790L649 1792L652 1792L655 1792L658 1792L661 1795L664 1796L667 1796L670 1796L673 1795L676 1793L679 1793L682 1793L685 1792L688 1790L691 1787L694 1788L697 1790L700 1791L703 1791L706 1791L709 1789L712 1786L715 1785L718 1786L721 1786L724 1786L727 1786L730 1784L733 1781L736 1778L739 1777L742 1775L745 1772L748 1773L751 1773L754 1773L757 1773L760 1773L763 1772L766 1771L769 1772L772 1774L775 1778L778 1782L781 1785L784 1787L787 1788L790 1793L793 1796L796 1798L799 1799L802 1799L805 1799L808 1798L811 1796L814 1794L817 1791L820 1786L823 1781L826 1780L829 1778L832 1774L835 1776L838 1777L841 1777L844 1777L847 1777L850 1779L853 1780L856 1780L859 1780L862 1779L865 1781L868 1785L871 1787L874 1788L877 1788L880 1789L883 1791L886 1792L889 1792L892 1792L895 1791L898 1793L901 1796L904 1797L907 1798L910 1798L913 1799L916 1801L919 1809L919 1840L916 1838L913 1838L910 1836L907 1834L904 1833L901 1833L898 1833L895 1834L892 1833L889 1830L886 1828L883 1828L880 1828L877 1828L874 1830L871 1829L868 1829L865 1827L862 1827L859 1825L856 1823L853 1820L850 1819L847 1819L844 1819L841 1820L838 1822L835 1822L832 1821L829 1820L826 1820L823 1820L820 1818L817 1816L814 1816L811 1816L808 1816L805 1817L802 1816L799 1816L796 1816L793 1817L790 1817L787 1816L784 1813L781 1812L778 1812L775 1812L772 1811L769 1811L766 1811L763 1813L760 1814L757 1815L754 1818L751 1820L748 1822L745 1822L742 1824L739 1827L736 1831L733 1834L730 1836L727 1836L724 1836L721 1838L718 1841L715 1843L712 1843L709 1844L706 1846L703 1846L700 1843L697 1842L694 1842L691 1842L688 1843L685 1845L682 1849L679 1850L676 1850L673 1852L670 1855L667 1856L664 1854L661 1853L658 1850L655 1846L652 1843L649 1841L646 1840L643 1840L640 1840L637 1842L634 1842L631 1844L628 1845L625 1845L622 1845L619 1844L616 1843L613 1841L610 1841L607 1839L604 1837L601 1834L598 1833L595 1833L592 1833L589 1834L586 1835L583 1832L580 1829L577 1828L574 1828L571 1828L568 1828L565 1826L562 1826L559 1826L556 1827L553 1829L550 1832L547 1837L544 1838L541 1839L538 1840L535 1841L532 1843L529 1846L526 1856L523 1864L520 1865L517 1868L514 1869L511 1871L508 1874L505 1877L502 1876L499 1872L496 1870L493 1867L490 1864L487 1863L484 1862L481 1859L478 1858L475 1858L472 1858L469 1859L466 1862L463 1866L460 1869L457 1874L454 1876L451 1879L448 1876L445 1874L442 1873L439 1872L436 1872L433 1871L430 1871L427 1871L424 1871L421 1873L418 1876L415 1877L412 1874L409 1873L406 1873L403 1873L400 1874L397 1874L394 1872L391 1870L388 1869L385 1869L382 1862L379 1859Z" fill="#00c8ff" stroke="#00c8ff" stroke-width="1.5"/>
<path d="M369 1774l5 93l1-74l0 6l0 11l0 3l0 12l0 9l0 7l0 5l0 1l0 9l0 3l1-66l0 1l0 11l0 5l0 4l0 4l0 6l0 17l0 1l0 9l0 3l0 1l1-62l0 1l0 1l1 0l1 3l0 62l0 3l1-69l0 28l0 3l0 44l1-74l0 74l0 4l0 1l1-79l0 38l0 39l1-77l0 1l0 76l0 2l1-78l0 14l0 62l1-5l1-57l0 53l1-50l0 59l1-67l0 7l0 60l1-11l1-63l0 9l1 2l0 54l1-57l0 66l0 4l1-64l0 65l1-69l0 63l0 6l1-68l0 57l0 2l2-51l1-12l0 1l0 62l1-64l0 64l0 11l0 1l1-76l0 64l0 9l1-61l0 70l1-8l1-75l0 86l1-85l1-5l0 4l0 10l0 6l1-13l1 71l1-10l0 2l0 9l1-57l1 0l1-9l1 1l0 66l1-68l0 9l1-7l0 70l1-7l0 6l0 1l1-13l1 4l0 13l1-4l2-5l0 4l1-71l0 69l2-7l1-66l1 4l0 59l1-61l0 59l1-67l1 8l0 2l0 1l1 62l1-64l0 64l1-65l1 5l0 61l1-65l0 59l1-57l0 2l1-3l0 1l1 0l0 64l1-60l0 2l1 65l1-62l1-10l1-1l1-3l2 69l1-1l0 4l1-64l1 58l0 1l0 5l1-63l0 76l1-102l0 20l0 74l0 1l1 0l1-72l0 69l0 1l0 1l1-14l0 1l0 8l0 9l2-6l0 2l1-16l1 0l2 0l0 8l2-70l0 52l1-54l1 7l0 50l0 7l0 7l1-65l0 60l0 2l1-3l1-5l1-61l2 59l1-52l0 53l1-62l0 11l1 45l1-46l0 43l2 2l1-60l0 13l1-6l0 5l1-12l0 12l0 53l1-1l0 1l2-8l5-58l0 6l0 53l2-59l0 68l1-68l0 7l2-6l0 14l0 54l1-69l0 17l0 48l2-54l1-6l1 1l0 63l0 4l1-66l0 1l0 7l1-5l0 10l1-11l0 12l2-12l0 16l0 44l1 18l1-71l0 3l1 62l1-69l1 8l1 7l2-8l1 1l0 7l0 1l0 49l1 7l2-56l2 0l1 45l0 4l1 0l1-53l0 48l1-53l0 57l1-1l1-74l0 17l1 1l0 53l2-85l1 33l0 5l0 29l1-69l1 80l1 5l1-57l0 53l1-53l0 40l0 14l1-21l0 14l1-55l0 1l0 2l0 40l1-40l1-6l0 3l0 16l0 3l0 27l0 1l1-33l0 32l1-60l1-8l0 8l0 15l1-15l1-3l0 7l1 7l1-17l0 6l0 9l1-14l0 3l1 58l1-68l0 2l0 4l1 50l0 6l0 6l1 0l1-64l0 51l0 12l1-5l1-58l1 6l0 42l1-53l1 0l1 8l0 57l0 1l1-3l2-81l0 16l0 53l0 7l1-12l0 2l0 6l0 5l1-70l2 57l2-56l0 1l0 2l0 53l1-66l0 75l0 2l1-68l1 10l1 57l1-71l0 1l1 71l1-71l0 72l2-74l0 73l1 1l1-73l0 64l0 5l1-72l0 74l0 1l1-75l0 82l1-82l0 76l1-75l0 5l0 70l1-10l0 9l1 1l1-73l0 8l0 66l0 1l2-75l2 2l1-1l0 69l0 5l1-64l0 69l1-76l0 1l0 75l1-74l0 67l0 9l3-72l0 6l0 59l0 4l3-73l1 2l0 69l2-53l0 48l0 7l1-59l1 58l1-3l1-49l0 52l1-62l0 66l1-61l0 4l0 56l1 1l1-60l0 53l0 8l3 2l1-5l1 22l1-88l0 64l0 8l0 1l1-74l0 9l0 55l2-68l0 76l1-76l0 80l1-81l0 2l0 3l1 76l1-90l0 11l0 75l0 5l1-79l3 2l0 1l0 2l1 74l2-4l0 4l1-70l1 7l0 57l0 5l1-62l0 1l1-8l2 71l0 1l1 0l1-1l1-3l1-66l0 60l2-62l1-9l0 75l0 1l1-8l0 8l1-69l1 9l0 55l2-58l0 54l1-54l0 53l0 9l1-50l0 2l1-14l0 4l1 2l0 1l0 3l0 45l2-50l0 9l0 48l1-58l1 52l0 8l1 1l1-59l0 1l0 56l0 2l1-57l0 58l2 3l1-64l0 9l0 56l0 5l1-4l1-66l0 3l1-3l0 66l1-67l1 61l1-3l1-57l0 4l0 3l0 1l1 4l1 0l1 61l1 2l1-1l1-70l0 2l1 1l0 67l1-69l0 7l0 1l0 61l0 1l1-72l0 2l1-2l0 2l0 53l0 10l0 2l1-67l0 3l0 8l1 46l2-59l0 65l1 0l1-11l1-46l0 52l0 4l2 1l1-57l0 64l2-63l0 54l0 3l1-69l0 65l2-68l0 54l0 12l1-66l1-9l0 9l0 64l1-58l2-8l0 58l1-57l0 55l0 8l0 1l1-76l1 18l0 5l1 49l1-52l1 49l0 7l1-56l0 53l1-5l0 9l2-58l0 59l0 4l1-60l0 60l1-7l1-57l0 57l0 7l0 1l1-72l0 70l1-66l0 1l0 65l1-13l0 11l1-66l1-2l0 9l0 58l1-9l0 5l1-59l0 57l0 6l1-66l1 9l0 55l1 0l2 0l0 1l0 1l0 9l1-20l0 3l1-57l0 63l1-60l1 63l1-8l0 2l1-68l0 8l1-1l0 2l0 56l1-57l0 6l0 44l0 8l1-58l2-15l0 68l1 5l2-66l1 6l0 4l1 40l0 14l3-53l2-13l2 0l0 59l1-61l1-2l0 1l3 48l1-46l0 49l1 6l1-9l0 7l2-55l0 1l1 2l0 6l0 41l0 4l1-53l0 8l0 41l0 13l0 4l1-24l1 1l1-44l0 8l0 40l1-42l2 0l1 43l1-51l0 1l0 1l2-4l2-2l0 1l0 7l4-4l1 2l1 0l1 35l0 5l1 15l1-38l0 1l1-7l1-6l0 7l1-8l0 14l1-16l0 1l1 2l0 2l0 2l1 0l0 29l1-17l0 46l1-56l0 29l1-27l2 1l0 32l1-24l1-7l1-1l0 2l2 25l1-25l0 13l0 15l0 1l2-26l0 25l2-22l0 2l1-1l0 18l2-16l3 3l0 7l4 6l2-16l2 1l1-9l0 5l0 1l0 3l1 3l3-11l0 5l1-5l1 13l1-16l1-3l0 1l1-4l2 3l0 13l1-6l4-9l3-10l0 1l1-4l0 1l1-1l0 2l1-6l0 5l1-1l0 1l3 68l0 7l3-68l0 5l0 3l1-9l0 1l0 6l1-6l0 8l1-19l0 11l0 62l1-64l4-1l1-1l5 10l0 1l2 5l1-5l0 2l1-6l0 8l1-7l2 1l1-6l1 1l0 3l0 1l0 6l1-9l1-2l1 0l0 16l2-12l4 15l1-17l4 10l1-5l1 4l2 0l1-1l0 2l1 10l2-8l0 10l1-10l4 2l8-4l2 2l2 4l3 3l4 7l1 1l0 38l0 1l1-46l0 45l0 1l2-46l1 8l0 2l0 3l0 19l2-33l0 9l0 19l0 20l1-44l0 26l1-28l0 48l1-34l0 5l0 8l0 2l0 19l1-41l0 41l0 2l1-47l0 30l0 18l1-50l0 12l0 4l0 10l0 24l0 18l1-60l0 18l0 25l1-43l0 3l0 17l9-17l-294-216" marker-start="url(#mcn)" marker-mid="url(#mcn)" marker-end="url(#mcn)"/>
</g>
<g fill="none" stroke="none">
<path d="M742 1794L745 1767L748 1768L751 1771L754 1777L757 1780L760 1785L763 1789L766 1797L769 1801L772 1803L775 1804L778 1804L781 1805L784 1806L787 1807L790 1807L793 1807L796 1806L799 1804L802 1803L805 1801L808 1799L811 1799L814 1797L817 1796L820 1793L823 1789L826 1785L829 1785L832 1789L835 1792L838 1793L841 1793L844 1793L847 1792L850 1793L853 1793L856 1794L859 1795L862 1795L865 1798L868 1801L871 1803L874 1804L877 1804L880 1808L883 1811L886 1812L889 1814L892 1816L895 1816L898 1816L901 1816L904 1818L907 1819L910 1819L913 1819L916 1820L919 1820L922 1821L925 1821L928 1821L931 1820L934 1819L937 1817L940 1814L943 1809L946 1804L949 1802L952 1800L955 1797L958 1793L961 1791L964 1792L967 1795L970 1797L973 1797L976 1798L979 1799L982 1800L985 1800L988 1800L991 1800L994 1798L997 1795L1000 1793L1003 1791L1006 1787L1009 1788L1012 1790L1015 1790L1018 1791L1021 1792L1024 1794L1027 1795L1030 1795L1033 1796L1036 1799L1039 1801L1042 1805L1045 1808L1048 1809L1051 1809L1054 1809L1057 1808L1060 1805L1063 1801L1066 1799L1069 1798L1072 1798L1075 1798L1078 1798L1081 1800L1084 1800L1087 1803L1090 1805L1093 1805L1096 1806L1099 1806L1102 1806L1105 1805L1108 1805L1111 1807L1114 1808L1117 1809L1120 1810L1123 1812L1126 1813L1129 1813L1132 1813L1135 1811L1138 1809L1141 1808L1144 1809L1147 1810L1150 1810L1153 1810L1156 1810L1159 1811L1162 1811L1165 1811L1168 1812L1171 1813L1174 1815L1177 1818L1180 1819L1183 1819L1186 1819L1189 1818L1192 1816L1195 1812L1198 1800L1201 1791L1203 1804L1203 1834L1201 1835L1198 1835L1195 1834L1192 1834L1189 1834L1186 1835L1183 1836L1180 1836L1177 1836L1174 1836L1171 1838L1168 1840L1165 1837L1162 1835L1159 1835L1156 1835L1153 1835L1150 1836L1147 1835L1144 1835L1141 1835L1138 1836L1135 1839L1132 1839L1129 1836L1126 1835L1123 1835L1120 1835L1117 1836L1114 1836L1111 1836L1108 1837L1105 1838L1102 1838L1099 1838L1096 1837L1093 1837L1090 1837L1087 1838L1084 1837L1081 1837L1078 1837L1075 1836L1072 1836L1069 1836L1066 1837L1063 1836L1060 1836L1057 1836L1054 1837L1051 1838L1048 1837L1045 1837L1042 1835L1039 1835L1036 1835L1033 1836L1030 1835L1027 1834L1024 1834L1021 1834L1018 1835L1015 1838L1012 1839L1009 1839L1006 1838L1003 1838L1000 1838L997 1835L994 1833L991 1833L988 1833L985 1834L982 1836L979 1837L976 1838L973 1838L970 1838L967 1838L964 1839L961 1840L958 1840L955 1841L952 1844L949 1847L946 1850L943 1855L940 1860L937 1860L934 1861L931 1859L928 1858L925 1858L922 1856L919 1854L916 1853L913 1850L910 1848L907 1847L904 1847L901 1847L898 1849L895 1848L892 1848L889 1848L886 1849L883 1850L880 1850L877 1850L874 1848L871 1848L868 1845L865 1844L862 1844L859 1844L856 1844L853 1844L850 1846L847 1846L844 1844L841 1842L838 1841L835 1841L832 1841L829 1842L826 1842L823 1843L820 1845L817 1847L814 1844L811 1842L808 1841L805 1841L802 1841L799 1841L796 1842L793 1845L790 1843L787 1842L784 1839L781 1834L778 1831L775 1830L772 1828L769 1826L766 1826L763 1824L760 1821L757 1818L754 1817L751 1817L748 1816L745 1813L742 1809Z" fill="#ff0000" stroke="#ff0000" stroke-width="1.5"/>
<path d="M737 1807l1-17l0 2l0 4l0 3l0 4l0 7l0 2l1-56l0 22l0 16l0 7l1-33l0 8l0 5l0 18l0 14l1-48l0 3l0 15l0 14l0 17l1-34l0 34l1-53l0 56l1-59l0 1l0 28l1-34l0 1l0 2l0 1l0 5l0 29l1-19l1-17l0 31l0 10l0 21l0 3l1-62l0 3l0 52l1 5l1-55l1 2l0 45l1-45l0 2l0 49l0 2l1-37l0 33l1-40l0 1l1-6l0 7l0 1l0 40l1-48l0 51l0 2l0 1l1-51l0 52l1-48l1 50l1-49l0 7l1-6l0 49l1-6l0 4l1-45l0 2l0 32l0 1l0 13l1-54l0 50l1-40l0 17l0 41l1-53l0 6l0 12l1-19l0 2l1 30l1-21l0 22l0 10l2 0l2-33l0 2l0 5l0 21l0 7l2-32l0 26l1 7l1 2l1-26l0 15l0 10l1-39l0 5l0 3l1 27l0 4l0 3l1-38l0 40l0 4l1-3l2-39l0 43l1-11l0 2l1-34l0 44l1-1l2-5l0 2l0 2l1-35l0 3l0 29l1 6l0 2l1 0l0 1l1-43l0 30l1-30l0 39l0 3l3-53l0 42l1-38l0 44l3-45l0 36l0 9l1-46l0 47l3-49l1 1l1-1l0 8l0 36l1-46l1 0l1-4l0 48l0 6l0 2l1-3l2 30l2-22l1-12l0 13l1 1l1-65l0 2l0 11l0 38l1-44l0 57l1-56l0 49l0 6l3-74l3 1l0 58l1-59l0 13l1-16l1 1l0 2l0 61l0 6l1-73l0 73l1-67l0 3l0 66l1-62l1-1l0 1l0 54l2-44l0 3l1-1l0 1l0 54l1-52l1-7l0 45l1-61l0 58l1-39l0 46l1-49l0 43l1-52l0 60l0 5l1-58l1 7l1 43l0 6l0 2l1-61l0 63l1-64l0 63l1-58l1 59l1-60l0 2l0 56l1-7l3 7l1-2l0 1l1-58l2 48l2-47l2 9l0 39l1-54l2 17l0 39l1-1l1-2l0 10l1-55l0 9l0 5l0 44l2-62l2 10l0 2l1 40l0 11l1-52l0 5l0 49l2-52l0 52l0 11l0 1l1-65l0 9l1 48l1-11l0 3l0 7l4-51l2 3l0 41l1 4l0 1l1-1l1-54l0 42l2-33l0 44l2-34l0 24l0 9l4-8l1 9l5-43l1 1l0 36l1 3l0 1l3-8l0 15l1-11l0 5l1-8l1 1l0 7l1-5l1-31l0 34l1-35l1 29l0 12l1-39l2 0l0 50l1-50l0 1l3 7l1-7l1 32l0 12l1-36l0 36l0 1l1-48l0 7l1-4l0 43l1-38l0 39l2-37l1-3l0 42l1 11l1-58l0 39l1-46l0 7l3 8l1-8l0 47l1-50l0 48l0 3l1-57l0 1l0 1l1-7l1 1l0 1l0 15l0 2l0 35l2-55l0 48l1-43l0 49l1-44l0 2l0 30l1-47l0 21l0 40l1-58l1-2l0 2l0 55l1-2l1-13l1 9l2-58l0 4l0 44l0 10l1-59l0 71l3-73l0 56l0 1l1-46l2 45l1-58l1 14l2 52l1-63l0 65l1-11l1-40l0 40l2-40l4-5l3 0l4 9l1-10l1 50l1-51l1 5l1-3l0 6l2 1l1 46l2-55l4-3l0 1l3-4l0 1l1 0l0 10l0 3l2-16l0 2l2-2l1-5l0 2l0 8l1-6l1-6l1 6l0 6l1-11l0 9l1-11l0 3l0 74l4-70l1-13l0 19l3-4l2-2l1 1l1 0l1 0l1 0l0 1l0 1l2 7l1-7l5 3l0 7l0 54l1-63l1 0l1-3l0 2l0 1l2 11l1-4l3 4l8 3l2 6l2-15l0 11l1 38l3-36l1-5l1 0l0 8l0 1l1-21l4 4l0 2l1-3l1 8l1 6l1-14l2 0l0 1l0 5l1-6l0 3l2 48l1-44l1-2l3-2l1 3l1 41l1-38l1 37l4-41l0 41l3 1l1-43l0 5l0 3l2 34l0 1l2-33l1-6l1-1l1 0l4 6l1-3l4 5l2-6l0 1l3 4l1-6l1 10l2-10l1 1l1 5l6 3l4-3l1 7l1-7l1 1l0 2l4-2l1-1l2 4l1-8l0 5l3 0l1-6l0 6l1-5l1-3l2 2l0 1l1 25l1-24l2 3l0 6l1-9l3 2l2 0l0 6l0 20l1-29l1 1l0 5l0 27l1-3l0 3l1-5l0 3l1-29l1 3l0 23l0 3l0 3l2-30l1 31l1-32l0 1l0 33l1-34l2 0l1-7l0 10l3 0l0 24l1-1l1-30l1 6l0 24l1-26l0 2l1 24l1-22l0 7l1-3l4 5l1 19l2-23l1-8l0 3l0 8l2 19l1-53l0 27l0 2l0 9l0 4l2-3l1-4l1-15l0 2l0 1l0 14l1-24l0 5l0 3l0 30l0 2l1-42l0 41l1-46l0 1l0 46l0 1l1-50l0 1l0 8l0 7l0 14l1-33l0 1l0 2l0 1l1-5l0 1l0 1l0 27l0 10l1-18l1-7l0 11l0 6l0 22l1-30l1-24l0 5l0 27l1-34l0 7l0 19l0 1l0 25l1-53l0 10l0 1l0 5l0 41l0 3l1-46l0 9l0 2l0 14l0 1l0 7l0 1l0 1l0 1l0 1l0 10l1-33l0 15l0 10l0 2l4-39l1 31l5-52l-328 108l97-8l-245-137l468 25l-9 14" marker-start="url(#mrd)" marker-mid="url(#mrd)" marker-end="url(#mrd)"/>
</g>
<g fill="none" stroke="none">
<path d="M939 1809L942 1805L945 1803L948 1800L951 1791L954 1792L957 1793L960 1793L963 1795L966 1798L969 1800L972 1800L975 1800L978 1799L981 1801L984 1805L987 1808L990 1809L993 1809L996 1809L999 1808L1002 1810L1005 1811L1008 1812L1011 1813L1014 1813L1017 1813L1020 1812L1023 1810L1026 1808L1029 1807L1032 1809L1035 1810L1038 1810L1041 1811L1044 1811L1047 1811L1050 1809L1053 1807L1056 1806L1059 1806L1062 1806L1065 1805L1068 1806L1071 1806L1074 1808L1077 1809L1080 1812L1083 1816L1086 1819L1089 1820L1092 1820L1095 1820L1098 1819L1101 1816L1104 1815L1107 1818L1110 1819L1113 1819L1116 1819L1119 1819L1122 1821L1125 1821L1128 1821L1131 1820L1134 1818L1137 1816L1140 1819L1143 1821L1146 1821L1149 1821L1152 1821L1155 1824L1158 1827L1161 1830L1164 1832L1167 1833L1170 1833L1173 1833L1176 1833L1179 1833L1182 1832L1185 1831L1188 1832L1191 1832L1194 1832L1197 1831L1200 1828L1203 1825L1206 1822L1209 1826L1212 1839L1215 1850L1218 1853L1221 1855L1224 1855L1227 1855L1230 1854L1233 1852L1236 1853L1239 1856L1242 1858L1245 1858L1248 1858L1251 1857L1254 1855L1257 1852L1260 1851L1263 1851L1266 1851L1269 1851L1272 1850L1275 1851L1278 1852L1281 1852L1284 1852L1287 1851L1290 1850L1293 1851L1296 1852L1299 1853L1302 1853L1305 1853L1308 1851L1311 1848L1314 1846L1317 1847L1320 1848L1323 1849L1326 1851L1329 1851L1332 1851L1335 1851L1338 1849L1341 1847L1344 1847L1347 1847L1350 1846L1353 1845L1356 1844L1359 1845L1362 1846L1365 1846L1368 1846L1371 1847L1374 1849L1377 1850L1380 1850L1383 1850L1386 1848L1389 1845L1392 1843L1395 1844L1398 1845L1401 1845L1404 1845L1407 1846L1410 1847L1413 1847L1416 1847L1419 1848L1422 1848L1425 1848L1428 1849L1431 1850L1434 1850L1437 1850L1440 1849L1443 1849L1446 1852L1449 1855L1452 1856L1455 1856L1458 1856L1461 1855L1464 1855L1467 1855L1470 1854L1473 1854L1476 1855L1479 1857L1482 1858L1485 1858L1488 1858L1491 1859L1494 1861L1497 1862L1500 1862L1503 1862L1506 1860L1509 1861L1512 1861L1515 1861L1518 1861L1521 1861L1524 1865L1527 1868L1530 1869L1533 1869L1536 1869L1539 1868L1542 1867L1545 1867L1548 1867L1551 1868L1554 1868L1557 1868L1560 1867L1563 1868L1566 1868L1569 1868L1572 1869L1575 1869L1578 1871L1581 1873L1584 1875L1587 1875L1590 1875L1593 1874L1596 1872L1599 1869L1602 1871L1605 1873L1608 1874L1611 1876L1614 1878L1617 1878L1620 1878L1623 1878L1626 1876L1629 1875L1632 1875L1635 1875L1638 1874L1641 1873L1644 1872L1647 1869L1650 1865L1653 1860L1656 1861L1659 1864L1662 1865L1665 1865L1668 1865L1671 1864L1674 1864L1677 1864L1680 1866L1683 1868L1686 1868L1689 1868L1692 1868L1695 1868L1698 1868L1701 1871L1704 1873L1707 1873L1710 1873L1713 1872L1716 1873L1719 1873L1722 1873L1725 1873L1728 1872L1731 1875L1734 1877L1737 1879L1740 1880L1743 1880L1746 1880L1749 1878L1752 1875L1755 1875L1758 1873L1761 1871L1764 1872L1767 1874L1770 1874L1773 1874L1776 1874L1779 1873L1782 1872L1785 1872L1788 1872L1791 1872L1794 1872L1797 1872L1800 1870L1803 1868L1806 1868L1809 1868L1812 1868L1815 1870L1818 1871L1821 1871L1824 1871L1827 1871L1830 1871L1833 1870L1836 1867L1839 1867L1842 1867L1845 1867L1848 1865L1851 1863L1854 1862L1857 1864L1860 1865L1863 1865L1866 1865L1869 1867L1872 1867L1875 1867L1878 1867L1881 1866L1884 1863L1887 1862L1890 1865L1893 1866L1896 1866L1899 1867L1902 1868L1905 1868L1908 1868L1911 1867L1914 1864L1917 1864L1920 1866L1923 1867L1926 1867L1929 1867L1932 1866L1935 1865L1938 1865L1941 1867L1944 1868L1947 1868L1950 1868L1953 1867L1956 1868L1959 1868L1962 1868L1965 1867L1968 1866L1971 1867L1974 1867L1977 1869L1980 1869L1983 1869L1986 1868L1989 1869L1992 1870L1995 1870L1998 1870L2001 1869L2004 1866L2007 1866L2010 1865L2013 1865L2016 1865L2019 1868L2022 1871L2025 1872L2028 1872L2031 1872L2034 1872L2037 1870L2040 1868L2043 1867L2046 1867L2049 1867L2052 1868L2055 1870L2058 1870L2061 1870L2064 1869L2067 1870L2070 1876L2073 1879L2076 1881L2079 1881L2082 1881L2082 1887L2079 1898L2076 1906L2073 1909L2070 1912L2067 1909L2064 1908L2061 1908L2058 1907L2055 1904L2052 1902L2049 1902L2046 1902L2043 1903L2040 1905L2037 1908L2034 1912L2031 1914L2028 1916L2025 1918L2022 1919L2019 1921L2016 1914L2013 1910L2010 1908L2007 1907L2004 1905L2001 1905L1998 1903L1995 1902L1992 1902L1989 1902L1986 1903L1983 1903L1980 1900L1977 1897L1974 1895L1971 1892L1968 1890L1965 1889L1962 1889L1959 1889L1956 1890L1953 1891L1950 1894L1947 1898L1944 1899L1941 1902L1938 1906L1935 1911L1932 1908L1929 1905L1926 1903L1923 1900L1920 1898L1917 1897L1914 1897L1911 1897L1908 1899L1905 1899L1902 1901L1899 1904L1896 1907L1893 1907L1890 1907L1887 1908L1884 1908L1881 1908L1878 1908L1875 1904L1872 1895L1869 1890L1866 1887L1863 1886L1860 1886L1857 1886L1854 1887L1851 1890L1848 1895L1845 1899L1842 1899L1839 1900L1836 1900L1833 1901L1830 1904L1827 1905L1824 1905L1821 1905L1818 1906L1815 1906L1812 1907L1809 1909L1806 1910L1803 1910L1800 1909L1797 1909L1794 1909L1791 1909L1788 1911L1785 1914L1782 1917L1779 1918L1776 1917L1773 1917L1770 1917L1767 1917L1764 1917L1761 1917L1758 1917L1755 1915L1752 1910L1749 1906L1746 1903L1743 1902L1740 1902L1737 1902L1734 1903L1731 1904L1728 1904L1725 1904L1722 1903L1719 1903L1716 1903L1713 1904L1710 1906L1707 1906L1704 1906L1701 1907L1698 1909L1695 1908L1692 1905L1689 1903L1686 1902L1683 1898L1680 1895L1677 1893L1674 1892L1671 1892L1668 1891L1665 1890L1662 1890L1659 1890L1656 1891L1653 1890L1650 1890L1647 1890L1644 1891L1641 1894L1638 1902L1635 1913L1632 1913L1629 1913L1626 1910L1623 1909L1620 1902L1617 1893L1614 1890L1611 1883L1608 1879L1605 1877L1602 1876L1599 1876L1596 1876L1593 1878L1590 1881L1587 1887L1584 1883L1581 1880L1578 1878L1575 1878L1572 1878L1569 1878L1566 1878L1563 1878L1560 1879L1557 1881L1554 1881L1551 1882L1548 1882L1545 1884L1542 1887L1539 1895L1536 1894L1533 1892L1530 1889L1527 1887L1524 1885L1521 1884L1518 1884L1515 1881L1512 1880L1509 1880L1506 1880L1503 1881L1500 1881L1497 1882L1494 1882L1491 1880L1488 1878L1485 1873L1482 1870L1479 1868L1476 1868L1473 1868L1470 1869L1467 1871L1464 1875L1461 1878L1458 1881L1455 1885L1452 1885L1449 1878L1446 1864L1443 1858L1440 1855L1437 1853L1434 1853L1431 1853L1428 1853L1425 1855L1422 1858L1419 1862L1416 1863L1413 1864L1410 1864L1407 1861L1404 1859L1401 1859L1398 1859L1395 1859L1392 1861L1389 1864L1386 1869L1383 1876L1380 1879L1377 1882L1374 1885L1371 1887L1368 1890L1365 1889L1362 1886L1359 1884L1356 1884L1353 1884L1350 1884L1347 1884L1344 1884L1341 1886L1338 1887L1335 1889L1332 1889L1329 1889L1326 1888L1323 1883L1320 1880L1317 1878L1314 1877L1311 1873L1308 1869L1305 1867L1302 1866L1299 1866L1296 1866L1293 1868L1290 1871L1287 1876L1284 1880L1281 1881L1278 1881L1275 1881L1272 1882L1269 1881L1266 1881L1263 1881L1260 1882L1257 1884L1254 1887L1251 1884L1248 1882L1245 1882L1242 1882L1239 1883L1236 1885L1233 1886L1230 1887L1227 1880L1224 1871L1221 1867L1218 1865L1215 1864L1212 1864L1209 1864L1206 1865L1203 1864L1200 1864L1197 1864L1194 1865L1191 1868L1188 1878L1185 1876L1182 1875L1179 1875L1176 1875L1173 1876L1170 1876L1167 1876L1164 1876L1161 1877L1158 1878L1155 1873L1152 1870L1149 1868L1146 1868L1143 1868L1140 1869L1137 1871L1134 1875L1131 1877L1128 1875L1125 1874L1122 1871L1119 1868L1116 1866L1113 1866L1110 1866L1107 1866L1104 1868L1101 1867L1098 1863L1095 1860L1092 1853L1089 1850L1086 1848L1083 1848L1080 1848L1077 1848L1074 1850L1071 1853L1068 1853L1065 1852L1062 1852L1059 1852L1056 1852L1053 1853L1050 1854L1047 1854L1044 1854L1041 1855L1038 1855L1035 1856L1032 1858L1029 1857L1026 1857L1023 1857L1020 1854L1017 1852L1014 1852L1011 1852L1008 1852L1005 1854L1002 1856L999 1856L996 1854L993 1853L990 1853L987 1853L984 1855L981 1858L978 1859L975 1858L972 1856L969 1853L966 1850L963 1848L960 1847L957 1847L954 1847L951 1847L948 1845L945 1840L942 1837L939 1836Z" fill="#0000f0" stroke="#0000f0" stroke-width="1.5"/>
<path d="M930 1809l5-3l0 2l1 12l0 4l0 2l0 8l0 4l1-36l0 13l0 8l0 17l1-49l1 9l1 1l0 12l0 23l1-35l0 6l0 4l0 9l0 4l1 18l1-61l0 41l1 23l1-51l0 52l1-55l0 1l0 3l0 2l0 7l0 34l0 3l0 2l0 5l0 1l1-59l0 2l1-7l0 1l1-3l1 0l0 8l0 59l1-12l0 7l1 1l0 2l1-8l1-54l0 8l0 56l2-8l1-51l0 2l2-4l0 1l0 7l0 48l1-54l0 4l0 50l1-49l0 62l1-57l0 2l2-17l0 65l1-51l0 51l1-59l0 54l0 7l0 2l1-61l0 62l2-60l0 7l0 1l1 0l0 54l2-63l1 2l0 5l0 45l0 14l2-66l0 4l0 59l2 3l1-65l0 7l0 53l1-1l0 7l2-4l0 4l0 1l1-61l0 47l0 3l0 8l1-65l0 13l1-1l1-8l0 64l1-9l1-6l0 10l1-2l2 1l2-53l1 3l0 4l0 2l1-4l0 1l0 36l0 10l1-47l0 5l0 44l1-71l2 70l0 1l1-7l1-41l1 39l2 5l0 6l3-47l0 35l0 4l0 6l1-6l0 3l2-39l1 1l1-2l0 40l0 1l1-47l0 45l1-61l0 16l1 1l0 1l2-3l1 0l0 1l0 56l1-16l0 8l0 8l1-54l1 8l1-12l0 3l0 43l0 6l1-10l0 10l1-47l3 40l1-49l0 4l0 52l1-57l0 2l0 3l0 45l0 9l1-60l1 0l0 10l1-9l2 4l0 56l1-56l1-1l0 1l0 55l1-45l1-10l0 8l0 45l1-2l2-46l2 2l0 39l0 6l1-50l1 50l1-51l0 42l0 6l1-48l0 50l3-53l1 4l0 42l1-2l0 5l0 5l1-56l1 1l0 48l2-49l0 3l0 42l1-38l0 38l1-44l0 3l1-1l1 50l1-7l0 5l0 2l2-48l0 2l1-10l0 53l1-53l2 0l1 1l0 50l3 5l1-44l1 3l0 43l1-4l0 2l2-48l0 5l0 42l1-43l1 42l0 5l1-11l1 4l0 1l1-48l0 46l1-44l0 39l1-33l1 39l1-40l0 1l1 33l0 1l0 12l1-8l0 2l2-37l0 37l1-28l0 29l0 1l2-39l0 44l1-13l0 10l0 3l1 0l1-8l0 12l1-38l1 1l1-12l0 41l0 8l0 3l1-15l1 1l0 18l0 3l0 1l1-65l0 50l0 8l0 7l1-65l0 13l0 51l0 1l1-1l1-70l1 5l0 56l1-55l1 0l0 10l1-3l0 8l0 44l2-46l0 39l0 8l0 1l1-49l0 39l1-45l0 3l0 4l2 47l0 5l1-58l1-1l2-6l0 5l1 3l0 55l0 1l1 0l1 13l3-70l0 61l1 1l1-62l0 2l0 47l0 12l0 1l1-52l0 53l2-1l0 2l1 0l0 1l1-65l0 66l1-79l0 11l2-2l0 58l1 2l1-60l1 63l1-64l0 65l1-65l0 63l2-2l1-46l1-9l0 6l2-4l2 0l1-1l0 54l1-54l0 3l0 41l0 10l1-3l0 4l1-54l0 7l1 36l1-46l1 0l0 56l0 1l0 3l1-11l1-55l0 19l0 54l0 1l1-53l0 52l1-53l1-1l2-6l0 1l1 0l0 64l1-2l1-59l1 3l1-1l0 7l0 42l0 2l1-51l1 7l1-5l0 48l1-50l1 58l1-6l1-52l1-2l0 45l0 8l1-48l0 47l0 1l1-52l2 48l1 2l0 8l1-53l2 2l0 44l1-52l0 1l1 50l0 1l1-54l0 13l0 42l1-47l0 31l0 15l1-52l0 1l0 54l1-9l1 0l1-44l0 47l0 2l0 3l1-19l0 7l0 9l0 4l1-4l0 1l0 1l0 1l1-52l0 44l0 6l0 1l1-9l2-45l0 43l2-45l1 0l0 39l1-46l0 5l1-24l0 5l0 18l0 45l1-44l0 5l0 37l0 1l1-33l1-3l1 39l1-64l0 1l0 13l0 49l1-55l0 49l1-52l0 2l0 1l0 9l0 46l0 11l1-67l0 24l0 8l1-32l0 5l0 26l0 10l0 15l1-53l2 7l0 1l0 8l0 28l0 8l1-41l0 2l0 7l0 23l1-30l0 4l0 11l0 24l1-22l0 23l1-28l2-19l0 27l1-47l0 47l0 2l0 13l0 1l1-15l1-9l0 21l0 4l0 9l1-23l1 29l0 4l0 5l1-36l0 28l0 9l1-37l0 35l0 2l1-39l1 0l0 25l0 7l1-32l0 42l1-36l0 39l1-26l0 21l0 1l1-8l1-34l0 27l0 3l1-28l1-5l0 4l0 30l1-34l2-2l0 4l0 12l1-15l0 1l1 14l0 21l1-30l0 30l0 2l1-21l0 19l0 5l1-22l1-11l0 32l1-2l1-30l1 29l0 3l1-27l2 29l3-36l0 39l1-41l1 5l1-7l1 3l0 6l0 26l3 4l1-30l0 24l0 2l2-36l0 34l0 2l3 1l1-35l0 9l1-9l0 37l1-4l0 4l2-11l0 10l1-39l1 0l0 1l0 9l0 21l1 4l0 6l1-1l1-34l1-10l1 7l0 37l1-36l0 30l0 1l1 0l1 4l1-9l1-27l0 32l1 0l2-33l1-2l0 13l0 26l1-38l0 5l1 22l0 9l1-6l2-6l0 7l1-13l1-10l1 8l0 10l1-1l2-19l1 18l1-18l1 14l1 2l2 1l1-4l1 6l1-24l0 25l2-28l0 17l0 4l0 9l1-26l0 3l2-8l0 10l0 21l0 4l1 1l1-8l1-26l0 35l2 0l1-38l0 33l1-30l0 37l1-37l0 7l1-9l0 44l1 12l1-55l0 1l3 6l0 40l1-45l0 33l1-29l0 30l0 6l0 9l1-1l1-47l0 33l0 5l1-37l0 44l4-50l0 40l0 2l0 4l1-41l1 45l1-44l3-17l0 55l0 8l1-45l1 0l0 37l1-37l2-5l0 33l1 1l1-36l0 10l1-7l0 2l0 33l1-39l3-6l0 6l0 47l1-39l0 37l0 1l3-48l0 43l2 1l2-3l1-36l0 47l1-49l1-1l0 54l1-14l1 5l0 8l0 2l1 0l1-7l0 7l2-12l0 11l1-15l2-30l0 35l1-9l0 14l1-46l0 32l1-31l0 29l0 8l1-36l1 5l0 4l0 32l0 2l1-34l0 32l1-33l1-7l0 44l1-22l0 13l1-37l0 1l0 6l0 24l1-10l0 25l1-48l1 0l0 1l0 36l1-38l0 1l0 30l1-32l0 19l1-19l0 5l1-6l1 4l1 24l0 1l1-33l0 2l1 16l0 3l0 8l1-28l0 15l0 7l0 15l1-10l1-31l0 30l1-20l1 3l0 5l0 3l1 8l1-20l0 3l1-4l0 30l1-30l1 0l2 0l0 5l0 1l1-21l0 15l1 0l0 18l1 10l1 0l1-25l0 27l0 6l1-33l0 7l1 0l1 19l2-26l1 22l1-12l0 22l1-33l1 13l0 9l1-21l1 21l0 1l2-23l0 4l0 18l1-17l0 10l0 5l1-4l1 0l0 1l1-2l2-8l1-5l2 11l1-6l1 6l3-11l2 13l1-14l1 12l0 5l0 1l0 14l2-33l0 28l2-14l0 22l0 1l0 1l1-6l0 6l1-42l1 18l1-17l0 8l0 22l0 6l0 6l1-13l0 20l1-19l1-11l0 6l0 29l1-53l0 11l1-1l0 36l1-34l0 35l1-29l0 2l0 28l1-35l3 30l1 0l1-3l1 1l3-21l0 3l0 14l1-27l0 25l1-26l1 24l0 7l3-34l0 1l0 23l1-23l2 22l0 1l1 0l3-20l0 1l1 0l1 23l1-20l1 19l0 1l0 2l2-20l0 24l1-27l0 24l1-12l0 16l1-13l0 13l1-13l2-17l3 3l1 2l1 24l3-22l1 18l2-19l0 10l0 6l1-17l0 23l3-24l1 24l2-4l1-10l1-5l0 23l1-23l1-4l1 27l0 1l1-8l0 9l1 2l1-32l1 22l2 2l0 7l1-25l0 3l0 14l0 5l1-18l0 2l0 9l2 11l0 2l1-1l1-7l1-15l0 19l1-18l0 15l1-11l0 13l1-20l0 6l1-17l0 28l0 15l1-33l0 29l1-21l0 2l0 17l0 5l2-31l1-1l0 4l1 26l0 6l1-27l0 1l0 27l0 2l1-38l0 2l0 36l0 2l1-10l0 6l1-15l0 4l0 5l0 5l0 1l1-39l0 1l0 1l0 35l0 2l1-6l1-7l0 2l1-23l0 9l1-16l0 2l0 32l0 8l1-16l1-21l0 15l0 5l1-13l1-10l0 43l2-34l0 11l1-4l1-6l0 9l1-7l1-11l0 9l1-9l2-2l0 6l1 17l1-23l1 4l1 14l2-8l2 9l0 5l1-21l0 1l1 17l0 8l1-26l0 17l1-3l1-8l0 10l1-20l0 14l1-1l0 1l1 1l0 11l2-6l2 4l1-16l1 10l1 9l0 18l1-26l0 8l0 3l0 15l1-32l0 17l0 1l2-20l0 20l1-17l0 16l1-19l0 3l0 3l0 14l0 1l1-2l0 1l1-19l0 7l0 10l1-19l0 17l1-16l0 14l1-16l0 5l0 5l0 6l3-19l2 0l0 13l1-15l0 14l2-14l0 1l0 3l0 12l2-7l1 8l1-13l1 1l1 10l0 3l0 1l0 2l1-16l0 1l0 14l0 3l1-16l1 2l1-13l0 9l3 5l0 8l0 12l0 4l1-30l0 15l0 1l0 16l1 3l2-28l0 10l0 21l1-20l0 1l0 20l0 3l0 1l2-38l0 11l1 27l1-38l0 7l0 13l0 13l2 22l1-56l0 40l1-32l0 35l1-33l0 26l1-30l0 2l1 32l0 3l1-42l0 43l1-45l0 27l1 20l2-27l2-3l0 15l0 5l1 4l2-37l0 30l0 2l1-38l0 33l0 8l1-41l0 24l0 5l0 20l2-21l1-33l0 22l0 8l1-9l0 3l2-28l0 28l1 4l1-28l0 24l0 4l2-1l1-34l0 4l0 9l1-15l1 1l1 0l0 27l3-26l0 13l0 22l0 5l1-38l1 26l1-16l0 24l2-31l0 4l0 5l0 23l2-32l0 1l0 29l0 1l0 1l1-3l0 2l1 2l1-28l0 28l1-35l2 34l1-26l0 28l1-4l2-7l0 3l0 3l1-32l0 29l0 10l1-40l0 2l0 6l1-13l0 5l0 2l0 29l0 9l2-38l0 30l0 12l2-33l0 19l0 16l2-6l0 5l1-40l1 43l2-4l1-38l1 33l0 6l1-2l0 10l2-46l1-5l0 51l1-36l0 24l0 13l1-45l0 39l1-43l1 51l2-4l2-44l1 1l0 36l1 1l0 8l3-4l0 6l1-45l0 30l2-31l0 1l1 8l2-9l0 41l1-2l1-29l1-9l0 6l0 32l2-37l2 2l2 36l1-38l1 38l1-31l0 29l3-33l0 27l1 13l1-43l0 13l0 24l1-24l0 26l1-38l0 37l2-28l0 18l2-25l2 10l0 13l1 1l1 9l2-23l3-3l0 27l1-32l1 35l1-37l1-1l0 1l0 7l0 3l1-12l0 1l0 3l0 5l1-2l0 3l1-10l1 49l1-51l0 49l0 1l1-47l1 8l0 42l1-1l1-55l0 54l1-51l0 47l1 3l2-42l1-4l0 40l0 7l1-3l0 3l2-1l0 2l1-51l0 51l1-2l1-50l0 2l0 45l0 2l1-47l0 6l0 40l1-46l0 49l1-50l0 49l0 1l1-7l1 7l1-51l0 43l1-34l2 50l2-72l0 14l0 51l0 2l1-54l0 45l2 5l1 3l1-16l1 4l0 6l1-48l0 38l0 2l0 18l1-59l1 0l0 8l1 38l1-40l0 38l0 1l1-44l5-3l0 47l2-35l2-11l0 44l1-47l0 50l0 1l1-50l1 0l0 6l2-6l0 58l2-58l0 43l0 17l1-51l1 38l2-39l0 37l0 1l0 8l2-12l3-4l0 4l2-38l1-2l0 41l0 1l1-38l1 5l0 23l1-31l0 31l0 10l2-41l1 8l1-8l0 1l2 33l0 3l0 6l1-5l0 5l0 2l1-15l0 11l1-1l1-6l0 4l1-45l0 3l0 8l0 23l0 9l0 1l1-43l1-1l0 1l0 4l0 9l1-5l1-7l0 1l0 37l1 4l1-40l1-11l0 20l0 31l2-38l0 23l1-27l0 3l0 7l0 22l0 8l1-39l0 1l0 28l1-33l1 8l0 17l0 10l0 8l1-43l1 24l1-24l0 11l0 12l0 12l0 5l1-46l0 44l0 1l1-40l0 35l2-14l0 12l0 1l1-26l0 20l0 2l1-24l0 23l1-6l4-19l0 27l1-29l0 1l1-1l0 25l0 6l2-28l2 9l0 11l1-17l0 30l0 2l1-35l0 21l0 12l2-33l1 1l0 32l1-38l0 29l0 2l0 5l0 8l1-37l0 44l1-47l0 3l0 1l0 46l1-16l1 15l2-50l0 1l0 48l0 1l1-50l3-2l2 42l2 3l0 4l1 2l1-6l2 5l1 0l0 1l1-49l0 1l0 38l1-42l0 44l0 7l0 1l3-2l1-42l1-5l0 2l0 9l3-3l2-5l0 28l1 9l1 2l0 1l1-32l0 31l1-39l0 30l1-31l0 39l1-34l1 1l0 22l1-19l1 28l1 0l1-31l1-8l0 36l2-38l0 41l0 2l1-47l1 6l2 9l0 32l0 4l0 25l1-25l1-10l1-33l1 6l0 38l1-8l0 8l0 3l2-48l0 9l0 40l0 1l0 1l2-47l0 33l0 14l0 1l1-56l0 12l0 35l0 10l1-16l1-47l0 8l0 1l0 57l1-3l2-53l0 42l2-48l1 48l0 5l1-2l0 1l1-45l1 1l1-1l0 41l2-15l1-26l0 25l1 4l1 7l1-36l0 33l0 3l3-36l3 1l0 4l3 21l1-26l0 1l2 0l1 21l0 7l2-32l0 1l1 25l1-26l0 8l1 5l0 21l1 2l0 7l4-39l1-1l0 1l0 27l1-27l0 25l0 10l1-36l1 40l2-10l1-35l0 7l0 1l1 6l1 2l2-6l0 3l0 33l0 5l0 1l1-48l1 45l1-45l0 2l0 9l2 2l0 27l1-36l1 38l2-38l1 1l0 32l1-34l0 41l1-41l0 41l2-40l0 40l1-38l0 29l2-34l0 41l0 4l0 1l2-47l0 47l2-48l0 48l1-48l0 8l0 2l2-9l1-2l1 45l0 8l2-53l0 45l0 2l0 8l1-44l0 31l0 15l0 1l1-13l0 8l0 11l3-55l0 44l1 3l0 10l1-75l0 74l2-58l1 0l0 53l0 2l1-56l0 2l1 53l2-45l1 2l1 36l1-44l2-2l3 47l1-51l1 6l0 43l1-42l0 40l2-1l1 3l2-51l0 5l1 3l0 30l0 3l0 16l1-58l0 43l1-43l1 7l0 36l1 0l2-2l0 2l1 2l1-44l0 3l0 3l0 45l2-50l1 1l1 46l2-34l1-10l0 44l1-52l0 15l1 2l0 35l1-45l2 65l1-4l1-17l0 5l1-48l0 4l0 45l1-49l0 6l0 10l0 34l1-1l0 1l0 1l1-49l0 5l0 2l0 30l1 12l1-10l0 9l1-13l0 10l0 1l1-30l0 1l0 10l1-14l0 22l0 10l1-2l1-4l1-30l0 5l0 26l0 1l2-30l0 29l0 1l1-32l0 1l0 3l0 21l1-24l1 16l0 4l1-7l0 2l1-18l0 16l1-8l-1120-117l-18 9l274 130l100-4l217 18l43-8l0-117l102 122l20 3l17-3l37 20l90-2l26-6l-43-8" marker-start="url(#mbe)" marker-mid="url(#mbe)" marker-end="url(#mbe)"/>
</g>
<g fill="none" stroke="none">
<path d="M1225 1804L1228 1813L1231 1817L1234 1819L1237 1820L1240 1820L1243 1820L1246 1819L1249 1816L1252 1811L1255 1808L1258 1803L1261 1806L1264 1812L1267 1815L1270 1817L1273 1820L1276 1821L1279 1821L1282 1821L1285 1821L1288 1819L1291 1816L1294 1816L1297 1818L1300 1818L1303 1818L1306 1818L1309 1816L1312 1813L1315 1807L1318 1803L1321 1802L1324 1802L1327 1802L1330 1800L1333 1797L1336 1793L1339 1791L1342 1792L1345 1792L1348 1796L1351 1799L1354 1804L1357 1812L1360 1816L1363 1818L1366 1819L1369 1819L1372 1819L1375 1819L1378 1817L1381 1814L1384 1813L1387 1810L1390 1806L1393 1795L1396 1790L1399 1786L1402 1783L1405 1782L1408 1784L1411 1785L1414 1788L1417 1791L1420 1793L1423 1794L1426 1794L1429 1794L1432 1793L1435 1791L1438 1790L1441 1789L1444 1786L1447 1778L1450 1781L1453 1783L1456 1783L1459 1783L1462 1783L1465 1781L1468 1781L1471 1784L1474 1786L1477 1786L1480 1786L1483 1785L1486 1787L1489 1787L1492 1787L1495 1790L1498 1794L1501 1802L1504 1805L1507 1807L1510 1807L1513 1807L1516 1807L1519 1805L1522 1805L1525 1806L1528 1808L1531 1809L1534 1809L1537 1810L1540 1812L1543 1813L1546 1813L1549 1813L1552 1812L1555 1812L1558 1812L1561 1811L1564 1811L1567 1810L1570 1810L1573 1810L1576 1810L1579 1810L1582 1809L1585 1810L1588 1810L1591 1810L1594 1810L1597 1810L1600 1810L1603 1809L1606 1809L1609 1808L1612 1814L1615 1818L1618 1820L1621 1822L1624 1825L1627 1827L1630 1827L1633 1827L1636 1827L1639 1825L1642 1822L1645 1818L1648 1811L1651 1809L1654 1806L1657 1799L1660 1791L1663 1791L1666 1796L1669 1802L1672 1805L1675 1808L1678 1811L1681 1813L1684 1814L1687 1814L1690 1814L1693 1813L1696 1810L1699 1809L1702 1812L1705 1814L1708 1815L1711 1815L1714 1815L1717 1815L1720 1814L1723 1813L1726 1812L1729 1810L1732 1809L1735 1808L1738 1810L1741 1815L1744 1819L1747 1823L1750 1825L1753 1826L1756 1827L1759 1829L1762 1830L1765 1830L1768 1830L1771 1828L1774 1825L1777 1820L1780 1817L1783 1810L1786 1805L1789 1807L1792 1810L1795 1811L1798 1811L1801 1811L1804 1810L1807 1812L1810 1814L1813 1817L1816 1818L1819 1818L1822 1818L1825 1817L1828 1815L1831 1811L1834 1809L1837 1809L1840 1808L1843 1808L1846 1807L1849 1805L1852 1803L1855 1801L1858 1801L1861 1804L1864 1809L1867 1813L1870 1816L1873 1819L1876 1823L1879 1827L1882 1830L1885 1832L1888 1833L1891 1833L1894 1833L1897 1833L1900 1833L1903 1831L1906 1828L1909 1822L1912 1812L1915 1808L1918 1807L1921 1813L1924 1816L1927 1818L1930 1823L1933 1826L1936 1827L1939 1827L1942 1830L1945 1833L1948 1835L1951 1835L1954 1835L1957 1835L1960 1833L1963 1832L1966 1833L1969 1835L1972 1835L1975 1835L1978 1834L1981 1832L1984 1829L1987 1826L1990 1825L1993 1823L1996 1821L1999 1821L2002 1820L2005 1821L2008 1826L2011 1833L2014 1838L2017 1841L2020 1843L2023 1844L2026 1844L2029 1844L2032 1842L2035 1839L2038 1836L2041 1830L2044 1821L2047 1819L2050 1819L2053 1819L2056 1818L2059 1816L2062 1816L2065 1814L2068 1815L2071 1815L2074 1815L2077 1814L2080 1816L2083 1822L2086 1825L2089 1827L2092 1830L2095 1834L2098 1837L2101 1839L2102 1839L2102 1879L2101 1877L2098 1874L2095 1864L2092 1859L2089 1856L2086 1855L2083 1855L2080 1855L2077 1854L2074 1852L2071 1851L2068 1851L2065 1851L2062 1853L2059 1856L2056 1859L2053 1860L2050 1860L2047 1860L2044 1860L2041 1862L2038 1865L2035 1872L2032 1872L2029 1873L2026 1876L2023 1877L2020 1879L2017 1878L2014 1874L2011 1868L2008 1864L2005 1861L2002 1860L1999 1858L1996 1857L1993 1857L1990 1857L1987 1858L1984 1861L1981 1866L1978 1870L1975 1868L1972 1868L1969 1866L1966 1864L1963 1862L1960 1862L1957 1862L1954 1862L1951 1863L1948 1863L1945 1864L1942 1866L1939 1869L1936 1866L1933 1862L1930 1859L1927 1857L1924 1855L1921 1853L1918 1852L1915 1852L1912 1852L1909 1853L1906 1856L1903 1861L1900 1864L1897 1869L1894 1871L1891 1873L1888 1875L1885 1873L1882 1868L1879 1865L1876 1862L1873 1859L1870 1858L1867 1857L1864 1855L1861 1855L1858 1855L1855 1856L1852 1857L1849 1856L1846 1856L1843 1855L1840 1855L1837 1855L1834 1856L1831 1858L1828 1861L1825 1864L1822 1866L1819 1868L1816 1871L1813 1871L1810 1868L1807 1865L1804 1861L1801 1859L1798 1858L1795 1857L1792 1857L1789 1857L1786 1857L1783 1859L1780 1862L1777 1862L1774 1862L1771 1862L1768 1864L1765 1867L1762 1869L1759 1869L1756 1870L1753 1872L1750 1874L1747 1876L1744 1876L1741 1876L1738 1873L1735 1870L1732 1868L1729 1867L1726 1867L1723 1866L1720 1866L1717 1866L1714 1867L1711 1867L1708 1866L1705 1866L1702 1864L1699 1864L1696 1863L1693 1863L1690 1863L1687 1864L1684 1862L1681 1859L1678 1856L1675 1855L1672 1852L1669 1849L1666 1848L1663 1848L1660 1847L1657 1847L1654 1845L1651 1845L1648 1845L1645 1846L1642 1848L1639 1852L1636 1885L1633 1891L1630 1887L1627 1884L1624 1883L1621 1880L1618 1872L1615 1869L1612 1867L1609 1866L1606 1866L1603 1866L1600 1863L1597 1859L1594 1856L1591 1854L1588 1854L1585 1854L1582 1854L1579 1856L1576 1858L1573 1858L1570 1858L1567 1859L1564 1861L1561 1861L1558 1863L1555 1863L1552 1865L1549 1865L1546 1866L1543 1869L1540 1869L1537 1866L1534 1865L1531 1864L1528 1862L1525 1862L1522 1862L1519 1862L1516 1861L1513 1859L1510 1859L1507 1857L1504 1857L1501 1857L1498 1857L1495 1856L1492 1854L1489 1854L1486 1854L1483 1852L1480 1850L1477 1849L1474 1849L1471 1849L1468 1851L1465 1854L1462 1854L1459 1852L1456 1851L1453 1851L1450 1851L1447 1852L1444 1840L1441 1835L1438 1832L1435 1831L1432 1831L1429 1831L1426 1831L1423 1830L1420 1830L1417 1830L1414 1831L1411 1833L1408 1834L1405 1834L1402 1834L1399 1835L1396 1835L1393 1836L1390 1839L1387 1843L1384 1848L1381 1850L1378 1851L1375 1854L1372 1855L1369 1857L1366 1860L1363 1855L1360 1844L1357 1841L1354 1839L1351 1838L1348 1838L1345 1838L1342 1839L1339 1839L1336 1839L1333 1839L1330 1839L1327 1841L1324 1844L1321 1847L1318 1847L1315 1848L1312 1850L1309 1850L1306 1849L1303 1848L1300 1848L1297 1848L1294 1849L1291 1852L1288 1856L1285 1859L1282 1857L1279 1857L1276 1853L1273 1850L1270 1848L1267 1847L1264 1847L1261 1847L1258 1849L1255 1852L1252 1854L1249 1856L1246 1855L1243 1855L1240 1855L1237 1854L1234 1848L1231 1843L1228 1840L1225 1826Z" fill="#ff9900" stroke="#ff9900" stroke-width="1.5"/>
<path d="M1205 1831l7-39l9 1l0 6l0 20l0 7l0 1l1-29l0 1l0 1l0 4l0 1l0 6l0 10l0 8l1-35l0 7l0 37l1-17l1-9l0 30l1-40l0 4l1-11l0 2l0 3l0 17l0 28l1-49l0 4l0 1l0 1l0 11l1-12l0 1l0 1l0 7l0 3l1-9l0 13l0 1l0 9l0 21l1-41l0 20l0 9l0 1l0 2l0 8l1-22l0 31l1-13l0 9l0 2l0 1l1-41l0 8l0 23l2 12l1-12l0 8l1-36l0 4l2-4l0 55l1-55l0 38l0 3l0 17l1-4l1-17l0 5l1-39l0 36l2-56l1 12l0 5l1-6l0 7l0 40l1-50l0 7l1 41l1-5l1 2l0 5l0 1l1-54l0 52l1-58l0 10l1-7l0 4l0 43l0 12l1-66l0 5l1 54l1-60l0 1l0 13l1-16l1 0l0 60l1-56l0 60l0 8l1-67l0 21l1-38l0 19l1 3l0 8l0 39l0 1l1-47l0 38l1-34l0 7l1-5l0 8l0 41l1-49l0 41l1-36l0 5l0 23l2-18l0 26l1-29l0 30l0 4l1-35l0 34l0 3l1-50l0 9l1-7l0 42l1-32l2-7l0 5l0 39l1-30l0 33l1-39l1-2l0 42l0 1l1-9l0 9l1-37l1-7l0 52l1-54l0 10l0 23l1 16l2 0l0 1l1-53l0 1l0 7l0 4l0 32l3-45l0 7l0 1l1 36l0 1l2-5l1-40l0 42l1-39l0 10l2-9l0 36l1-34l1 35l3 0l1-2l1-36l0 40l0 1l1-13l1 5l2-40l0 42l1-41l1 52l1-7l1-36l0 30l1-33l0 36l0 2l2-61l0 7l0 7l1 45l1-43l0 3l1-13l1 12l0 41l1-51l0 46l0 4l0 1l1-53l0 5l2 50l2-56l0 37l0 21l2-57l1 39l0 7l3-56l1-1l1-1l0 2l0 51l0 2l1 1l1-5l1-51l0 1l0 67l1-57l1-4l2 2l1-4l0 43l2-46l0 2l0 48l1 5l1-46l0 54l1-61l0 1l0 7l1-6l0 50l1-51l0 52l1-47l1-1l0 10l0 30l1 3l1-41l1 1l1 15l1 33l0 3l1 4l1 1l0 25l1-71l0 27l0 1l1 23l0 1l0 1l0 5l1-25l0 1l0 13l0 11l1-53l0 1l0 51l0 1l1-50l0 40l1 11l0 2l1-26l0 21l1-48l0 1l0 35l0 2l1-28l0 34l1-34l0 38l0 4l1-11l1 3l0 1l1 1l1-46l0 36l0 8l2-2l1-44l0 41l4 0l0 1l1-45l0 1l0 8l0 32l1-36l0 34l0 4l1-65l0 20l0 44l0 9l1-53l0 1l0 9l1-11l1 5l0 22l0 1l0 6l1-37l0 34l2-47l0 1l0 1l0 2l0 4l0 6l0 45l1-41l1-19l0 41l0 14l1-45l0 14l0 28l1-1l1-55l1 0l0 7l0 7l0 49l1-47l1-13l0 1l1-2l0 6l0 5l1-20l0 2l1-3l1-5l0 3l0 56l1-49l2 57l2-62l0 3l1-3l1 1l3 11l0 43l2 2l1-52l0 53l1-48l0 35l0 23l1-55l1-6l1 4l2-2l0 1l0 42l0 10l3-49l1-9l0 51l1-44l0 1l1 5l0 36l0 5l0 1l2-39l0 26l1-28l1 1l1 36l1-8l0 1l0 6l1-46l0 46l1-8l1-38l0 1l0 40l0 4l1-56l0 10l1 1l0 11l1 41l1-1l0 1l1-46l0 50l0 1l1-73l0 71l0 4l1-62l0 51l0 10l1 6l1-80l0 1l0 2l0 1l0 1l1-11l0 2l0 3l0 5l0 15l0 40l0 8l1-74l0 1l0 76l1-75l0 1l0 2l0 1l0 76l1-79l0 3l0 1l0 87l1-86l1 12l1-8l0 1l0 68l1-67l4 11l2-2l1-6l0 66l0 10l1-77l1-10l0 10l0 2l1 6l0 74l1-5l1-78l1 3l1 77l1-82l0 1l0 69l1-69l0 11l1-11l0 76l1-77l0 2l0 5l0 70l0 5l1-10l0 6l1-75l0 1l0 5l0 65l0 1l1-71l0 73l1-71l0 64l1-65l1 11l1 80l1-81l1-8l0 69l1 3l1-10l1 3l1-67l1-2l0 13l2 64l1-73l0 8l0 66l0 1l1-75l0 10l0 58l3-58l0 65l1-76l0 1l0 97l1-90l0 6l0 74l2-89l0 72l1-72l0 21l1-18l0 16l2-13l0 2l1 71l2-7l0 2l1-61l0 4l1 63l1-1l0 1l1-49l2 45l1 4l1-6l2-46l1 49l0 3l1-50l0 48l1-59l0 13l0 41l1 2l0 3l0 6l1-61l0 63l2-70l0 2l0 1l0 66l1-66l0 2l0 58l1-59l0 55l0 5l0 4l1-65l0 4l0 2l0 58l1-64l0 11l2 51l2-1l1-73l0 70l1-69l0 71l0 7l2-3l1 3l1-6l0 3l0 2l1-61l0 54l0 10l1-60l0 50l1-1l0 9l1-63l0 63l1-67l0 10l0 64l1-77l0 65l0 13l1-3l0 5l1-69l0 71l1-15l0 10l0 3l1 1l0 2l1-11l0 6l0 1l2-67l0 57l0 3l0 1l1-60l0 61l0 5l2-67l0 51l1-63l0 11l1-2l0 13l0 39l1-40l0 50l1-52l1-7l0 3l0 63l4-67l1 47l1-48l0 54l1-49l2 52l1-59l0 10l0 46l2-46l3-9l1-1l0 3l0 53l1-50l0 51l3-56l0 3l1-3l1 49l0 7l1-54l0 53l1-56l2 5l0 50l1-55l1-1l2 48l4-47l0 1l0 51l1-50l0 49l2-48l1 41l2 9l1 3l1 3l2-57l1 7l0 54l1-12l0 8l1-51l0 60l1-16l1-52l0 57l0 12l1-8l1 3l3-56l3 10l0 47l1-78l0 13l0 6l3 0l0 55l0 8l1 3l0 2l0 1l1-66l0 11l0 1l1 1l0 45l0 7l1-8l1 5l0 5l0 4l1-58l1 60l2-14l0 5l2-57l0 6l1 6l0 47l0 9l1 1l0 1l1-6l0 5l1-4l0 10l1-78l0 49l0 21l1-56l0 19l0 7l0 1l0 4l0 33l0 2l1-74l0 49l0 26l0 2l1 0l1-23l1 2l0 22l0 11l1-88l1 35l0 40l1-71l0 41l0 23l1-49l0 24l0 3l0 3l0 3l0 10l1-63l0 7l0 28l0 7l0 11l1-60l0 30l0 8l0 9l1-18l0 1l0 7l0 1l0 5l1-43l0 1l1 50l1-58l0 4l0 29l0 5l0 1l1-27l1-14l0 33l1-35l0 17l1 24l2-45l1-3l0 16l1-17l2-22l0 8l0 11l1 9l1 3l1-15l0 11l1-19l0 9l1-9l0 1l0 1l0 15l0 41l1-55l0 65l1-52l0 3l1-17l0 71l1-67l0 2l0 3l0 46l1-53l0 15l0 49l1-53l0 53l1-63l1 66l1-59l0 3l0 56l1-58l1-14l0 29l1-13l0 2l0 7l0 37l0 6l1-51l0 2l1 69l1-13l1-55l0 48l2-46l0 10l0 38l0 2l1 7l1 1l3-53l2-3l0 59l0 2l2-59l0 9l1-11l0 59l0 1l1-57l1-17l0 15l0 1l0 9l0 43l0 4l0 1l1-58l1 0l1-3l0 1l1-1l0 62l1-1l1-59l1-5l0 1l0 64l1-66l1-1l0 2l0 9l1-10l0 3l0 1l0 12l0 47l0 3l1-50l1-11l0 1l0 2l0 11l0 42l1-55l0 54l2-42l0 48l2-57l0 2l1 47l0 11l1-11l0 11l1 0l2 2l0 1l1-10l1-52l0 51l0 4l1-56l0 59l1-59l0 56l0 3l2-59l0 54l0 5l1-2l1-55l0 57l1-60l0 9l1 44l1-49l0 52l1-56l0 62l1-69l0 4l1 64l1-70l0 69l3-65l0 5l0 53l1-58l0 1l0 3l1 58l1-60l0 63l1-3l2-50l0 62l1-15l1-57l2 73l1-69l0 58l1-59l1 13l0 7l0 61l1-21l0 12l1-68l1 2l0 12l0 54l0 2l1-62l0 6l2 44l1-49l1 42l1-43l0 53l0 5l1-2l1-50l0 49l1-55l0 48l4 3l1-38l1-23l0 56l0 2l0 2l1-8l0 8l1-35l0 36l1-43l0 29l0 9l1-46l0 52l1-48l0 1l0 34l3 7l1-1l1-64l2 16l2 3l0 43l0 2l0 1l1-40l1 1l0 26l0 11l2-58l0 2l0 57l1-7l0 9l1-54l0 56l0 10l1-15l1-64l0 20l0 33l1-53l0 1l0 19l0 41l2-50l0 39l1-40l0 47l0 2l1-46l0 47l2-2l1-52l0 54l1-56l1 56l1-49l0 3l0 44l1-49l1 43l0 6l0 2l1 0l1-1l3-46l0 50l0 1l1-1l1-59l0 64l1-63l0 7l0 40l0 11l2-48l0 4l1 0l0 38l0 12l2 3l1-69l0 4l0 1l0 11l1-11l0 14l1 51l2-12l0 12l1-55l0 55l1 2l2-4l0 2l1-60l0 51l0 7l1-58l1 57l1-2l1-14l0 20l2-6l1-3l0 1l1-60l0 1l0 59l1-50l0 43l1-49l1 0l0 51l0 4l0 3l1-60l1 41l0 11l1-48l0 37l0 10l1-62l0 11l2 3l0 41l0 1l0 8l1-47l0 43l1-55l1 0l1 1l0 6l1-5l0 54l3 0l1-59l0 6l0 50l2-48l0 51l2-47l1 39l1-41l0 52l1-66l0 6l0 51l0 10l2-70l1-2l1 2l0 1l1 64l1-62l0 55l1-37l0 37l1-48l1 56l2-52l0 9l0 1l0 41l0 1l1-58l0 52l0 6l1-55l0 8l1-8l0 1l0 54l1-53l0 1l1 1l0 15l0 33l1 6l1-63l0 23l0 40l0 1l1-1l1-49l1 50l1-7l0 9l0 2l1-52l1 1l0 2l0 1l0 49l1-9l0 4l1-63l0 36l0 25l1-40l0 1l0 13l0 38l1-49l1-1l0 2l0 52l1-9l0 11l1-15l0 17l0 2l1-2l1-53l0 10l0 44l0 2l0 1l1-22l0 3l0 15l0 3l1-3l1-44l0 35l3-51l0 9l0 45l2-43l0 34l1-36l0 5l0 39l1-44l0 3l0 42l1-4l1 0l3-13l0 11l0 2l1-45l0 43l1-37l1-9l2-8l0 5l0 2l0 40l1-2l1-49l0 1l0 1l0 1l1-1l0 12l0 24l0 2l1 2l0 1l0 4l1-49l1-6l0 25l0 17l1-43l0 47l1-44l0 50l1-4l1-50l0 64l1-65l0 11l0 4l0 2l1 47l2-69l0 8l0 60l1-60l0 1l0 13l0 38l1-51l0 3l0 43l0 7l1-50l0 9l0 6l1-14l1 5l0 34l0 4l2 0l0 11l1-48l1 49l1-49l0 1l0 49l1-50l0 16l0 26l1 8l0 27l1-68l0 30l0 5l1 8l0 3l2 1l1-41l1 43l1-53l2 43l1 8l0 3l1-51l0 4l1 7l0 37l1 0l1-2l1-11l2-17l1-4l1-4l0 2l2-20l1 64l1-23l0 2l2-27l2-2l0 36l1-2l1-2l1-32l0 29l0 8l1-43l0 6l0 33l2 0l1-23l1-4l0 29l0 4l2-6l1-35l0 32l3-22l0 36l2-33l1 31l1 3l1-12l1 10l1 1l0 1l1-10l0 9l0 1l1-13l1-33l0 43l1-49l0 46l0 5l1-5l2-47l0 31l1-31l0 4l0 33l0 4l0 2l1-48l0 8l1-9l2 6l0 1l1 30l1-35l1 1l0 1l0 40l1-2l1-39l0 2l0 42l2-45l0 45l0 2l2 1l1-47l0 40l1-32l1-4l0 3l0 37l1 6l2-50l0 41l1-44l0 3l0 19l0 35l2-48l0 4l0 35l0 2l0 10l1-70l0 20l0 3l0 34l0 14l0 1l1-52l0 34l1-33l0 52l0 3l1-69l0 55l0 6l1-69l0 78l0 1l1-50l0 1l0 1l0 7l1-6l0 32l0 17l1-16l0 31l1-61l0 46l0 1l0 2l1 0l1-43l0 33l0 1l0 5l1-12l0 10l2-40l0 6l0 33l0 1l2-6l1-36l0 40l1-30l0 17l1-20l0 32l1-44l2 4l1 36l1 0l0 1l1-43l0 2l0 28l0 1l0 9l0 2l1-8l0 8l0 5l1-63l1 26l0 30l0 3l1-57l0 3l0 4l0 38l1 0l0 4l0 1l1-50l0 40l0 8l1-48l0 42l0 1l0 5l1-48l0 39l0 2l1-46l0 20l1-22l0 3l1-13l1 13l0 43l0 4l1-46l1 0l0 4l0 2l0 34l1-40l1 42l1-38l3-4l1-1l0 10l0 34l0 4l0 1l1-52l0 1l0 45l2-49l0 39l0 10l1 12l1-58l0 9l2-10l0 47l2-50l0 47l0 1l1-6l1-40l1 39l0 6l7-42l0 34l0 6l1-43l0 5l1-6l0 3l1-4l0 1l1-1l1-5l0 8l1 43l2-39l1 2l0 2l0 10l0 20l1 10l1 0l1-34l0 26l0 9l1-27l0 27l1-36l2 54l1-53l0 1l0 45l0 4l1-45l0 29l0 14l1 0l1-47l1 10l0 7l0 3l1-19l0 25l0 26l1-47l0 26l0 24l1-49l0 3l0 23l0 9l0 14l0 1l1-47l0 1l0 32l0 18l1 0l1-47l0 38l0 7l0 2l1-45l0 18l0 4l0 24l0 22l1-21l0 1l1-45l0 3l0 4l0 1l0 2l0 3l0 26l0 3l0 3l0 16l1-65l0 3l0 6l0 13l0 2l0 4l0 14l0 1l0 3l0 3l0 2l3-16l0 2l0 20l0 8l1-1l0 1l1-82l0 1l-710-61l39-6l12 0l209 6l40 20l153-4l62 11l-132 105l232 7l60 14" marker-start="url(#moe)" marker-mid="url(#moe)" marker-end="url(#moe)"/>
</g></g></g>
<g fill="none">
<path d="M251.2 77.6H2150.6M251.2 1022.0H2150.6" stroke="#333" stroke-width="3.5"/>
<path d="M287.3 58V1042" stroke="#808080" stroke-width="6.5"/>
<path d="M2111.3 58V1042" stroke="#b0b0b0" stroke-width="2.6"/>
<path d="M2114.2 58V1042" stroke="#3a3a3a" stroke-width="3.3"/>
<path d="M417.5 66.5V77.6M417.5 1022.0V1031.5M548.0 58.5V77.6M548.0 1022.0V1041.5M678.6 66.5V77.6M678.6 1022.0V1031.5M809.1 58.5V77.6M809.1 1022.0V1041.5M939.6 66.5V77.6M939.6 1022.0V1031.5M1070.1 58.5V77.6M1070.1 1022.0V1041.5" stroke="#808080" stroke-width="6"/>
<path d="M1200.6 66.5V77.6M1200.6 1022.0V1031.5M1331.2 58.5V77.6M1331.2 1022.0V1041.5M1461.7 66.5V77.6M1461.7 1022.0V1031.5M1592.2 58.5V77.6M1592.2 1022.0V1041.5M1722.7 66.5V77.6M1722.7 1022.0V1031.5M1853.2 58.5V77.6M1853.2 1022.0V1041.5M1983.8 66.5V77.6M1983.8 1022.0V1031.5" stroke="#505050" stroke-width="3.6"/>
<path d="M251.2 313.7H287M2114 313.7H2150.6M251.2 785.9H287M2114 785.9H2150.6" stroke="#858585" stroke-width="4.6"/>
<path d="M251.2 549.8H287M2114 549.8H2150.6" stroke="#3a3a3a" stroke-width="3.3"/>
</g>
<g font-family="'Liberation Sans', Arial, Helvetica, sans-serif" fill="#111">
<text x="325.9" y="128" font-size="49" textLength="165.1" lengthAdjust="spacingAndGlyphs">ACSPO</text><text x="502.0" y="128" font-size="49" textLength="133.9" lengthAdjust="spacingAndGlyphs">R2.40,</text><text x="643.3" y="128" font-size="49" textLength="175.3" lengthAdjust="spacingAndGlyphs">AVHRR</text><text x="829.8" y="128" font-size="49" textLength="114.0" lengthAdjust="spacingAndGlyphs">GAC,</text><text x="954.3" y="128" font-size="49" textLength="123.4" lengthAdjust="spacingAndGlyphs">Night</text><text x="1088.0" y="128" font-size="49" textLength="120.5" lengthAdjust="spacingAndGlyphs">Time,</text><text x="1222.4" y="128" font-size="49" textLength="138.6" lengthAdjust="spacingAndGlyphs">outlier</text><text x="1375.8" y="128" font-size="49" textLength="179.3" lengthAdjust="spacingAndGlyphs">retained</text>
<text x="349.4" y="192.5" font-size="37.2" fill="#0aaa0a" stroke="#0aaa0a" stroke-width="0.4">NOAA16</text>
<text x="559.0" y="192.5" font-size="37.2" fill="#10c8ff" stroke="#10c8ff" stroke-width="0.4">NOAA17</text>
<text x="768.6" y="192.5" font-size="37.2" fill="#ff1010" stroke="#ff1010" stroke-width="0.4">NOAA18</text>
<text x="978.2" y="192.5" font-size="37.2" fill="#0a0ae6" stroke="#0a0ae6" stroke-width="0.4">METOPA</text>
<text x="1187.8" y="192.5" font-size="37.2" fill="#ff9a0a" stroke="#ff9a0a" stroke-width="0.4">NOAA19</text>
<text x="229" y="123.0" font-size="55" text-anchor="end">1.0</text>
<text x="229" y="339.5" font-size="55" text-anchor="end">0.5</text>
<text x="229" y="574.5" font-size="55" text-anchor="end">0.0</text>
<text x="229" y="811.5" font-size="55" text-anchor="end">-0.5</text>
<text x="229" y="1024.0" font-size="55" text-anchor="end">-1.0</text>
<text x="287.5" y="1138" font-size="56" text-anchor="middle">2002</text>
<text x="548.5" y="1138" font-size="56" text-anchor="middle">2004</text>
<text x="809.6" y="1138" font-size="56" text-anchor="middle">2006</text>
<text x="1070.6" y="1138" font-size="56" text-anchor="middle">2008</text>
<text x="1331.7" y="1138" font-size="56" text-anchor="middle">2010</text>
<text x="1592.7" y="1138" font-size="56" text-anchor="middle">2012</text>
<text x="1853.7" y="1138" font-size="56" text-anchor="middle">2014</text>
<text x="2114.8" y="1138" font-size="56" text-anchor="middle">2016</text>
<text x="1201" y="1222.6" font-size="56" text-anchor="middle">Year</text>
<text transform="translate(68.4,880.3) rotate(-90)" x="-4.0" y="0" font-size="58.5" textLength="161.8" lengthAdjust="spacingAndGlyphs">Mean,</text><text transform="translate(68.4,688.3) rotate(-90)" x="-3.9" y="0" font-size="58.5" textLength="105.1" lengthAdjust="spacingAndGlyphs">Reg</text><text transform="translate(68.4,570.9) rotate(-90)" x="-2.1" y="0" font-size="58.5" textLength="20.1" lengthAdjust="spacingAndGlyphs">-</text><text transform="translate(68.4,534.3) rotate(-90)" x="-2.9" y="0" font-size="58.5" textLength="172.3" lengthAdjust="spacingAndGlyphs">(Drifter</text><text transform="translate(68.4,358.6) rotate(-90)" x="-2.3" y="0" font-size="58.5" textLength="40.1" lengthAdjust="spacingAndGlyphs">+</text><text transform="translate(68.4,316.6) rotate(-90)" x="-0.9" y="0" font-size="58.5" textLength="98.5" lengthAdjust="spacingAndGlyphs">TM)</text>
</g>
</g>
<g font-family="'Liberation Serif', 'Times New Roman', serif" fill="#000" text-anchor="middle">
<text x="1106" y="1326" font-size="80"><tspan font-size="88" dy="2">(</tspan><tspan font-weight="bold" dy="-2">a</tspan><tspan font-size="88" dy="2">)</tspan></text>
<text x="1106" y="2626" font-size="80"><tspan font-size="88" dy="2">(</tspan><tspan font-weight="bold" dy="-2">b</tspan><tspan font-size="88" dy="2">)</tspan></text>
</g>
</g>
</svg></body></html>
